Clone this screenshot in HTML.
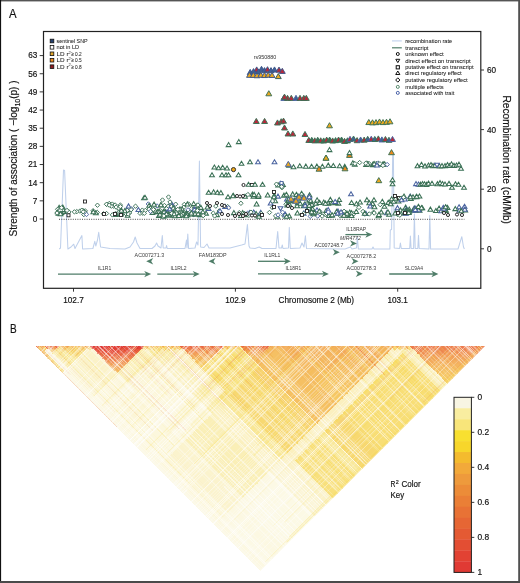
<!DOCTYPE html>
<html><head><meta charset="utf-8"><style>
html,body{margin:0;padding:0;background:#fff;width:520px;height:583px;overflow:hidden}
svg{display:block;will-change:transform}
text{font-family:"Liberation Sans",sans-serif;stroke:#1a1a1a;stroke-width:0.18px}
</style></head><body>
<svg width="520" height="583" viewBox="0 0 520 583" font-family="Liberation Sans, sans-serif">
<rect x="0" y="0" width="520" height="583" fill="#fff"/>
<clipPath id="tri"><path d="M35,346 L485,346 L260,571 Z"/></clipPath><g clip-path="url(#tri)"><g transform="matrix(225,-225,225,225,35,346)" shape-rendering="crispEdges"><rect x="0.00000" y="0.00000" width="0.01151" height="0.01151" fill="#ed784d"/><rect x="0.00000" y="0.01111" width="0.01151" height="0.01151" fill="#f7d26c"/><rect x="0.00000" y="0.02222" width="0.01151" height="0.03373" fill="#f6c866"/><rect x="0.00000" y="0.05556" width="0.01151" height="0.06707" fill="#f8de76"/><rect x="0.00000" y="0.12222" width="0.01151" height="0.87818" fill="#fcf8e2"/><rect x="0.01111" y="0.01111" width="0.01151" height="0.01151" fill="#f3ab5d"/><rect x="0.01111" y="0.02222" width="0.01151" height="0.01151" fill="#f7d26c"/><rect x="0.01111" y="0.03333" width="0.01151" height="0.96707" fill="#fcf8e2"/><rect x="0.02222" y="0.02222" width="0.01151" height="0.01151" fill="#ea6546"/><rect x="0.02222" y="0.03333" width="0.01151" height="0.01151" fill="#f29e59"/><rect x="0.02222" y="0.04444" width="0.01151" height="0.01151" fill="#f5bf62"/><rect x="0.02222" y="0.05556" width="0.01151" height="0.06707" fill="#f9e795"/><rect x="0.02222" y="0.12222" width="0.01151" height="0.12262" fill="#fbf4d2"/><rect x="0.02222" y="0.24444" width="0.01151" height="0.04484" fill="#fcf7dd"/><rect x="0.02222" y="0.28889" width="0.01151" height="0.03373" fill="#fcf8e2"/><rect x="0.02222" y="0.32222" width="0.01151" height="0.10040" fill="#fcf7dd"/><rect x="0.02222" y="0.42222" width="0.01151" height="0.03373" fill="#fcf8e2"/><rect x="0.02222" y="0.45556" width="0.01151" height="0.06707" fill="#fcf7dd"/><rect x="0.02222" y="0.52222" width="0.01151" height="0.02262" fill="#fcf8e2"/><rect x="0.02222" y="0.54444" width="0.01151" height="0.25596" fill="#fcf6d8"/><rect x="0.02222" y="0.80000" width="0.01151" height="0.03373" fill="#fcf8e2"/><rect x="0.02222" y="0.83333" width="0.01151" height="0.16707" fill="#fcf9e5"/><rect x="0.03333" y="0.03333" width="0.01151" height="0.01151" fill="#ea6546"/><rect x="0.03333" y="0.04444" width="0.01151" height="0.01151" fill="#f29e59"/><rect x="0.03333" y="0.05556" width="0.01151" height="0.06707" fill="#f9e795"/><rect x="0.03333" y="0.12222" width="0.01151" height="0.12262" fill="#fbf4d2"/><rect x="0.03333" y="0.24444" width="0.01151" height="0.04484" fill="#fcf7dd"/><rect x="0.03333" y="0.28889" width="0.01151" height="0.03373" fill="#fcf8e2"/><rect x="0.03333" y="0.32222" width="0.01151" height="0.10040" fill="#fcf7dd"/><rect x="0.03333" y="0.42222" width="0.01151" height="0.03373" fill="#fcf8e2"/><rect x="0.03333" y="0.45556" width="0.01151" height="0.06707" fill="#fcf7dd"/><rect x="0.03333" y="0.52222" width="0.01151" height="0.02262" fill="#fcf8e2"/><rect x="0.03333" y="0.54444" width="0.01151" height="0.25596" fill="#fcf6d8"/><rect x="0.03333" y="0.80000" width="0.01151" height="0.03373" fill="#fcf8e2"/><rect x="0.03333" y="0.83333" width="0.01151" height="0.16707" fill="#fcf9e5"/><rect x="0.04444" y="0.04444" width="0.01151" height="0.01151" fill="#ea6546"/><rect x="0.04444" y="0.05556" width="0.01151" height="0.01151" fill="#f7d26c"/><rect x="0.04444" y="0.06667" width="0.01151" height="0.05596" fill="#f9e795"/><rect x="0.04444" y="0.12222" width="0.01151" height="0.12262" fill="#fbf4d2"/><rect x="0.04444" y="0.24444" width="0.01151" height="0.04484" fill="#fcf7dd"/><rect x="0.04444" y="0.28889" width="0.01151" height="0.03373" fill="#fcf8e2"/><rect x="0.04444" y="0.32222" width="0.01151" height="0.10040" fill="#fcf7dd"/><rect x="0.04444" y="0.42222" width="0.01151" height="0.03373" fill="#fcf8e2"/><rect x="0.04444" y="0.45556" width="0.01151" height="0.06707" fill="#fcf7dd"/><rect x="0.04444" y="0.52222" width="0.01151" height="0.02262" fill="#fcf8e2"/><rect x="0.04444" y="0.54444" width="0.01151" height="0.25596" fill="#fcf6d8"/><rect x="0.04444" y="0.80000" width="0.01151" height="0.03373" fill="#fcf8e2"/><rect x="0.04444" y="0.83333" width="0.01151" height="0.16707" fill="#fcf9e5"/><rect x="0.05556" y="0.05556" width="0.01151" height="0.01151" fill="#f3ab5d"/><rect x="0.05556" y="0.06667" width="0.01151" height="0.01151" fill="#f6c966"/><rect x="0.05556" y="0.07778" width="0.01151" height="0.01151" fill="#f7d16b"/><rect x="0.05556" y="0.08889" width="0.01151" height="0.01151" fill="#f7da72"/><rect x="0.05556" y="0.10000" width="0.01151" height="0.01151" fill="#f8e181"/><rect x="0.05556" y="0.11111" width="0.01151" height="0.01151" fill="#f9e898"/><rect x="0.05556" y="0.12222" width="0.01151" height="0.12262" fill="#fbf2c8"/><rect x="0.05556" y="0.24444" width="0.01151" height="0.04484" fill="#fcf6d8"/><rect x="0.05556" y="0.28889" width="0.01151" height="0.03373" fill="#fcf8e2"/><rect x="0.05556" y="0.32222" width="0.01151" height="0.10040" fill="#fcf6d8"/><rect x="0.05556" y="0.42222" width="0.01151" height="0.03373" fill="#fcf8e2"/><rect x="0.05556" y="0.45556" width="0.01151" height="0.06707" fill="#fcf7dd"/><rect x="0.05556" y="0.52222" width="0.01151" height="0.02262" fill="#fcf8e2"/><rect x="0.05556" y="0.54444" width="0.01151" height="0.25596" fill="#fbf3cd"/><rect x="0.05556" y="0.80000" width="0.01151" height="0.20040" fill="#fcf8e2"/><rect x="0.06667" y="0.06667" width="0.01151" height="0.01151" fill="#f3ab5d"/><rect x="0.06667" y="0.07778" width="0.01151" height="0.01151" fill="#f6c966"/><rect x="0.06667" y="0.08889" width="0.01151" height="0.01151" fill="#f7d16b"/><rect x="0.06667" y="0.10000" width="0.01151" height="0.01151" fill="#f7da72"/><rect x="0.06667" y="0.11111" width="0.01151" height="0.01151" fill="#f8e181"/><rect x="0.06667" y="0.12222" width="0.01151" height="0.12262" fill="#fbf2c8"/><rect x="0.06667" y="0.24444" width="0.01151" height="0.04484" fill="#fcf6d8"/><rect x="0.06667" y="0.28889" width="0.01151" height="0.03373" fill="#fcf8e2"/><rect x="0.06667" y="0.32222" width="0.01151" height="0.10040" fill="#fcf6d8"/><rect x="0.06667" y="0.42222" width="0.01151" height="0.03373" fill="#fcf8e2"/><rect x="0.06667" y="0.45556" width="0.01151" height="0.06707" fill="#fcf7dd"/><rect x="0.06667" y="0.52222" width="0.01151" height="0.02262" fill="#fcf8e2"/><rect x="0.06667" y="0.54444" width="0.01151" height="0.25596" fill="#fbf3cd"/><rect x="0.06667" y="0.80000" width="0.01151" height="0.20040" fill="#fcf8e2"/><rect x="0.07778" y="0.07778" width="0.01151" height="0.01151" fill="#f3ab5d"/><rect x="0.07778" y="0.08889" width="0.01151" height="0.01151" fill="#f6c966"/><rect x="0.07778" y="0.10000" width="0.01151" height="0.01151" fill="#f7d16b"/><rect x="0.07778" y="0.11111" width="0.01151" height="0.01151" fill="#f7da72"/><rect x="0.07778" y="0.12222" width="0.01151" height="0.12262" fill="#fbf2c8"/><rect x="0.07778" y="0.24444" width="0.01151" height="0.04484" fill="#fcf6d8"/><rect x="0.07778" y="0.28889" width="0.01151" height="0.03373" fill="#fcf8e2"/><rect x="0.07778" y="0.32222" width="0.01151" height="0.10040" fill="#fcf6d8"/><rect x="0.07778" y="0.42222" width="0.01151" height="0.03373" fill="#fcf8e2"/><rect x="0.07778" y="0.45556" width="0.01151" height="0.06707" fill="#fcf7dd"/><rect x="0.07778" y="0.52222" width="0.01151" height="0.02262" fill="#fcf8e2"/><rect x="0.07778" y="0.54444" width="0.01151" height="0.25596" fill="#fbf3cd"/><rect x="0.07778" y="0.80000" width="0.01151" height="0.20040" fill="#fcf8e2"/><rect x="0.08889" y="0.08889" width="0.01151" height="0.01151" fill="#f3ab5d"/><rect x="0.08889" y="0.10000" width="0.01151" height="0.01151" fill="#f6c966"/><rect x="0.08889" y="0.11111" width="0.01151" height="0.01151" fill="#f7d16b"/><rect x="0.08889" y="0.12222" width="0.01151" height="0.12262" fill="#fbf2c8"/><rect x="0.08889" y="0.24444" width="0.01151" height="0.04484" fill="#fcf6d8"/><rect x="0.08889" y="0.28889" width="0.01151" height="0.03373" fill="#fcf8e2"/><rect x="0.08889" y="0.32222" width="0.01151" height="0.10040" fill="#fcf6d8"/><rect x="0.08889" y="0.42222" width="0.01151" height="0.03373" fill="#fcf8e2"/><rect x="0.08889" y="0.45556" width="0.01151" height="0.06707" fill="#fcf7dd"/><rect x="0.08889" y="0.52222" width="0.01151" height="0.02262" fill="#fcf8e2"/><rect x="0.08889" y="0.54444" width="0.01151" height="0.25596" fill="#fbf3cd"/><rect x="0.08889" y="0.80000" width="0.01151" height="0.20040" fill="#fcf8e2"/><rect x="0.10000" y="0.10000" width="0.01151" height="0.01151" fill="#f3ab5d"/><rect x="0.10000" y="0.11111" width="0.01151" height="0.01151" fill="#f6c966"/><rect x="0.10000" y="0.12222" width="0.01151" height="0.12262" fill="#fbf2c8"/><rect x="0.10000" y="0.24444" width="0.01151" height="0.04484" fill="#fcf6d8"/><rect x="0.10000" y="0.28889" width="0.01151" height="0.03373" fill="#fcf8e2"/><rect x="0.10000" y="0.32222" width="0.01151" height="0.10040" fill="#fcf6d8"/><rect x="0.10000" y="0.42222" width="0.01151" height="0.03373" fill="#fcf8e2"/><rect x="0.10000" y="0.45556" width="0.01151" height="0.06707" fill="#fcf7dd"/><rect x="0.10000" y="0.52222" width="0.01151" height="0.02262" fill="#fcf8e2"/><rect x="0.10000" y="0.54444" width="0.01151" height="0.25596" fill="#fbf3cd"/><rect x="0.10000" y="0.80000" width="0.01151" height="0.20040" fill="#fcf8e2"/><rect x="0.11111" y="0.11111" width="0.01151" height="0.01151" fill="#f3ab5d"/><rect x="0.11111" y="0.12222" width="0.01151" height="0.01151" fill="#f7d26c"/><rect x="0.11111" y="0.13333" width="0.01151" height="0.11151" fill="#fbf2c8"/><rect x="0.11111" y="0.24444" width="0.01151" height="0.04484" fill="#fcf6d8"/><rect x="0.11111" y="0.28889" width="0.01151" height="0.03373" fill="#fcf8e2"/><rect x="0.11111" y="0.32222" width="0.01151" height="0.10040" fill="#fcf6d8"/><rect x="0.11111" y="0.42222" width="0.01151" height="0.03373" fill="#fcf8e2"/><rect x="0.11111" y="0.45556" width="0.01151" height="0.06707" fill="#fcf7dd"/><rect x="0.11111" y="0.52222" width="0.01151" height="0.02262" fill="#fcf8e2"/><rect x="0.11111" y="0.54444" width="0.01151" height="0.25596" fill="#fbf3cd"/><rect x="0.11111" y="0.80000" width="0.01151" height="0.20040" fill="#fcf8e2"/><rect x="0.12222" y="0.12222" width="0.01151" height="0.01151" fill="#de3432"/><rect x="0.12222" y="0.13333" width="0.01151" height="0.01151" fill="#e24137"/><rect x="0.12222" y="0.14444" width="0.01151" height="0.01151" fill="#e54e3d"/><rect x="0.12222" y="0.15556" width="0.01151" height="0.01151" fill="#e95e43"/><rect x="0.12222" y="0.16667" width="0.01151" height="0.01151" fill="#eb6e4a"/><rect x="0.12222" y="0.17778" width="0.01151" height="0.01151" fill="#ee7e4f"/><rect x="0.12222" y="0.18889" width="0.01151" height="0.01151" fill="#f08d54"/><rect x="0.12222" y="0.20000" width="0.01151" height="0.01151" fill="#f19b58"/><rect x="0.12222" y="0.21111" width="0.01151" height="0.01151" fill="#f2a55b"/><rect x="0.12222" y="0.22222" width="0.01151" height="0.01151" fill="#f3ae5e"/><rect x="0.12222" y="0.23333" width="0.01151" height="0.01151" fill="#f4b660"/><rect x="0.12222" y="0.24444" width="0.01151" height="0.04484" fill="#faeeb2"/><rect x="0.12222" y="0.28889" width="0.01151" height="0.03373" fill="#fbf4d2"/><rect x="0.12222" y="0.32222" width="0.01151" height="0.10040" fill="#fcf6d8"/><rect x="0.12222" y="0.42222" width="0.01151" height="0.10040" fill="#fcf7dd"/><rect x="0.12222" y="0.52222" width="0.01151" height="0.02262" fill="#fcf6d8"/><rect x="0.12222" y="0.54444" width="0.01151" height="0.25596" fill="#faefb7"/><rect x="0.12222" y="0.80000" width="0.01151" height="0.03373" fill="#fcf8e2"/><rect x="0.12222" y="0.83333" width="0.01151" height="0.16707" fill="#fcf9e5"/><rect x="0.13333" y="0.13333" width="0.01151" height="0.01151" fill="#de3432"/><rect x="0.13333" y="0.14444" width="0.01151" height="0.01151" fill="#e24137"/><rect x="0.13333" y="0.15556" width="0.01151" height="0.01151" fill="#e54e3d"/><rect x="0.13333" y="0.16667" width="0.01151" height="0.01151" fill="#e95e43"/><rect x="0.13333" y="0.17778" width="0.01151" height="0.01151" fill="#eb6e4a"/><rect x="0.13333" y="0.18889" width="0.01151" height="0.01151" fill="#ee7e4f"/><rect x="0.13333" y="0.20000" width="0.01151" height="0.01151" fill="#f08d54"/><rect x="0.13333" y="0.21111" width="0.01151" height="0.01151" fill="#f19b58"/><rect x="0.13333" y="0.22222" width="0.01151" height="0.01151" fill="#f2a55b"/><rect x="0.13333" y="0.23333" width="0.01151" height="0.01151" fill="#f3ae5e"/><rect x="0.13333" y="0.24444" width="0.01151" height="0.04484" fill="#faeeb2"/><rect x="0.13333" y="0.28889" width="0.01151" height="0.03373" fill="#fbf4d2"/><rect x="0.13333" y="0.32222" width="0.01151" height="0.10040" fill="#fcf6d8"/><rect x="0.13333" y="0.42222" width="0.01151" height="0.10040" fill="#fcf7dd"/><rect x="0.13333" y="0.52222" width="0.01151" height="0.02262" fill="#fcf6d8"/><rect x="0.13333" y="0.54444" width="0.01151" height="0.25596" fill="#faefb7"/><rect x="0.13333" y="0.80000" width="0.01151" height="0.03373" fill="#fcf8e2"/><rect x="0.13333" y="0.83333" width="0.01151" height="0.16707" fill="#fcf9e5"/><rect x="0.14444" y="0.14444" width="0.01151" height="0.01151" fill="#de3432"/><rect x="0.14444" y="0.15556" width="0.01151" height="0.01151" fill="#e24137"/><rect x="0.14444" y="0.16667" width="0.01151" height="0.01151" fill="#e54e3d"/><rect x="0.14444" y="0.17778" width="0.01151" height="0.01151" fill="#e95e43"/><rect x="0.14444" y="0.18889" width="0.01151" height="0.01151" fill="#eb6e4a"/><rect x="0.14444" y="0.20000" width="0.01151" height="0.01151" fill="#ee7e4f"/><rect x="0.14444" y="0.21111" width="0.01151" height="0.01151" fill="#f08d54"/><rect x="0.14444" y="0.22222" width="0.01151" height="0.01151" fill="#f19b58"/><rect x="0.14444" y="0.23333" width="0.01151" height="0.01151" fill="#f2a55b"/><rect x="0.14444" y="0.24444" width="0.01151" height="0.04484" fill="#faeeb2"/><rect x="0.14444" y="0.28889" width="0.01151" height="0.03373" fill="#fbf4d2"/><rect x="0.14444" y="0.32222" width="0.01151" height="0.10040" fill="#fcf6d8"/><rect x="0.14444" y="0.42222" width="0.01151" height="0.10040" fill="#fcf7dd"/><rect x="0.14444" y="0.52222" width="0.01151" height="0.02262" fill="#fcf6d8"/><rect x="0.14444" y="0.54444" width="0.01151" height="0.25596" fill="#faefb7"/><rect x="0.14444" y="0.80000" width="0.01151" height="0.03373" fill="#fcf8e2"/><rect x="0.14444" y="0.83333" width="0.01151" height="0.16707" fill="#fcf9e5"/><rect x="0.15556" y="0.15556" width="0.01151" height="0.01151" fill="#de3432"/><rect x="0.15556" y="0.16667" width="0.01151" height="0.01151" fill="#e24137"/><rect x="0.15556" y="0.17778" width="0.01151" height="0.01151" fill="#e54e3d"/><rect x="0.15556" y="0.18889" width="0.01151" height="0.01151" fill="#e95e43"/><rect x="0.15556" y="0.20000" width="0.01151" height="0.01151" fill="#eb6e4a"/><rect x="0.15556" y="0.21111" width="0.01151" height="0.01151" fill="#ee7e4f"/><rect x="0.15556" y="0.22222" width="0.01151" height="0.01151" fill="#f08d54"/><rect x="0.15556" y="0.23333" width="0.01151" height="0.01151" fill="#f19b58"/><rect x="0.15556" y="0.24444" width="0.01151" height="0.04484" fill="#faeeb2"/><rect x="0.15556" y="0.28889" width="0.01151" height="0.03373" fill="#fbf4d2"/><rect x="0.15556" y="0.32222" width="0.01151" height="0.10040" fill="#fcf6d8"/><rect x="0.15556" y="0.42222" width="0.01151" height="0.10040" fill="#fcf7dd"/><rect x="0.15556" y="0.52222" width="0.01151" height="0.02262" fill="#fcf6d8"/><rect x="0.15556" y="0.54444" width="0.01151" height="0.25596" fill="#faefb7"/><rect x="0.15556" y="0.80000" width="0.01151" height="0.03373" fill="#fcf8e2"/><rect x="0.15556" y="0.83333" width="0.01151" height="0.16707" fill="#fcf9e5"/><rect x="0.16667" y="0.16667" width="0.01151" height="0.01151" fill="#de3432"/><rect x="0.16667" y="0.17778" width="0.01151" height="0.01151" fill="#e24137"/><rect x="0.16667" y="0.18889" width="0.01151" height="0.01151" fill="#e54e3d"/><rect x="0.16667" y="0.20000" width="0.01151" height="0.01151" fill="#e95e43"/><rect x="0.16667" y="0.21111" width="0.01151" height="0.01151" fill="#eb6e4a"/><rect x="0.16667" y="0.22222" width="0.01151" height="0.01151" fill="#ee7e4f"/><rect x="0.16667" y="0.23333" width="0.01151" height="0.01151" fill="#f08d54"/><rect x="0.16667" y="0.24444" width="0.01151" height="0.04484" fill="#faeeb2"/><rect x="0.16667" y="0.28889" width="0.01151" height="0.03373" fill="#fbf4d2"/><rect x="0.16667" y="0.32222" width="0.01151" height="0.10040" fill="#fcf6d8"/><rect x="0.16667" y="0.42222" width="0.01151" height="0.10040" fill="#fcf7dd"/><rect x="0.16667" y="0.52222" width="0.01151" height="0.02262" fill="#fcf6d8"/><rect x="0.16667" y="0.54444" width="0.01151" height="0.25596" fill="#faefb7"/><rect x="0.16667" y="0.80000" width="0.01151" height="0.03373" fill="#fcf8e2"/><rect x="0.16667" y="0.83333" width="0.01151" height="0.16707" fill="#fcf9e5"/><rect x="0.17778" y="0.17778" width="0.01151" height="0.01151" fill="#de3432"/><rect x="0.17778" y="0.18889" width="0.01151" height="0.01151" fill="#e24137"/><rect x="0.17778" y="0.20000" width="0.01151" height="0.01151" fill="#e54e3d"/><rect x="0.17778" y="0.21111" width="0.01151" height="0.01151" fill="#e95e43"/><rect x="0.17778" y="0.22222" width="0.01151" height="0.01151" fill="#eb6e4a"/><rect x="0.17778" y="0.23333" width="0.01151" height="0.01151" fill="#ee7e4f"/><rect x="0.17778" y="0.24444" width="0.01151" height="0.04484" fill="#faeeb2"/><rect x="0.17778" y="0.28889" width="0.01151" height="0.03373" fill="#fbf4d2"/><rect x="0.17778" y="0.32222" width="0.01151" height="0.10040" fill="#fcf6d8"/><rect x="0.17778" y="0.42222" width="0.01151" height="0.10040" fill="#fcf7dd"/><rect x="0.17778" y="0.52222" width="0.01151" height="0.02262" fill="#fcf6d8"/><rect x="0.17778" y="0.54444" width="0.01151" height="0.25596" fill="#faefb7"/><rect x="0.17778" y="0.80000" width="0.01151" height="0.03373" fill="#fcf8e2"/><rect x="0.17778" y="0.83333" width="0.01151" height="0.16707" fill="#fcf9e5"/><rect x="0.18889" y="0.18889" width="0.01151" height="0.01151" fill="#de3432"/><rect x="0.18889" y="0.20000" width="0.01151" height="0.01151" fill="#e24137"/><rect x="0.18889" y="0.21111" width="0.01151" height="0.01151" fill="#e54e3d"/><rect x="0.18889" y="0.22222" width="0.01151" height="0.01151" fill="#e95e43"/><rect x="0.18889" y="0.23333" width="0.01151" height="0.01151" fill="#eb6e4a"/><rect x="0.18889" y="0.24444" width="0.01151" height="0.04484" fill="#faeeb2"/><rect x="0.18889" y="0.28889" width="0.01151" height="0.03373" fill="#fbf4d2"/><rect x="0.18889" y="0.32222" width="0.01151" height="0.10040" fill="#fcf6d8"/><rect x="0.18889" y="0.42222" width="0.01151" height="0.10040" fill="#fcf7dd"/><rect x="0.18889" y="0.52222" width="0.01151" height="0.02262" fill="#fcf6d8"/><rect x="0.18889" y="0.54444" width="0.01151" height="0.25596" fill="#faefb7"/><rect x="0.18889" y="0.80000" width="0.01151" height="0.03373" fill="#fcf8e2"/><rect x="0.18889" y="0.83333" width="0.01151" height="0.16707" fill="#fcf9e5"/><rect x="0.20000" y="0.20000" width="0.01151" height="0.01151" fill="#de3432"/><rect x="0.20000" y="0.21111" width="0.01151" height="0.01151" fill="#e24137"/><rect x="0.20000" y="0.22222" width="0.01151" height="0.01151" fill="#e54e3d"/><rect x="0.20000" y="0.23333" width="0.01151" height="0.01151" fill="#e95e43"/><rect x="0.20000" y="0.24444" width="0.01151" height="0.04484" fill="#faeeb2"/><rect x="0.20000" y="0.28889" width="0.01151" height="0.03373" fill="#fbf4d2"/><rect x="0.20000" y="0.32222" width="0.01151" height="0.10040" fill="#fcf6d8"/><rect x="0.20000" y="0.42222" width="0.01151" height="0.10040" fill="#fcf7dd"/><rect x="0.20000" y="0.52222" width="0.01151" height="0.02262" fill="#fcf6d8"/><rect x="0.20000" y="0.54444" width="0.01151" height="0.25596" fill="#faefb7"/><rect x="0.20000" y="0.80000" width="0.01151" height="0.03373" fill="#fcf8e2"/><rect x="0.20000" y="0.83333" width="0.01151" height="0.16707" fill="#fcf9e5"/><rect x="0.21111" y="0.21111" width="0.01151" height="0.01151" fill="#de3432"/><rect x="0.21111" y="0.22222" width="0.01151" height="0.01151" fill="#e24137"/><rect x="0.21111" y="0.23333" width="0.01151" height="0.01151" fill="#e54e3d"/><rect x="0.21111" y="0.24444" width="0.01151" height="0.04484" fill="#faeeb2"/><rect x="0.21111" y="0.28889" width="0.01151" height="0.03373" fill="#fbf4d2"/><rect x="0.21111" y="0.32222" width="0.01151" height="0.10040" fill="#fcf6d8"/><rect x="0.21111" y="0.42222" width="0.01151" height="0.10040" fill="#fcf7dd"/><rect x="0.21111" y="0.52222" width="0.01151" height="0.02262" fill="#fcf6d8"/><rect x="0.21111" y="0.54444" width="0.01151" height="0.25596" fill="#faefb7"/><rect x="0.21111" y="0.80000" width="0.01151" height="0.03373" fill="#fcf8e2"/><rect x="0.21111" y="0.83333" width="0.01151" height="0.16707" fill="#fcf9e5"/><rect x="0.22222" y="0.22222" width="0.01151" height="0.01151" fill="#de3432"/><rect x="0.22222" y="0.23333" width="0.01151" height="0.01151" fill="#e24137"/><rect x="0.22222" y="0.24444" width="0.01151" height="0.04484" fill="#faeeb2"/><rect x="0.22222" y="0.28889" width="0.01151" height="0.03373" fill="#fbf4d2"/><rect x="0.22222" y="0.32222" width="0.01151" height="0.10040" fill="#fcf6d8"/><rect x="0.22222" y="0.42222" width="0.01151" height="0.10040" fill="#fcf7dd"/><rect x="0.22222" y="0.52222" width="0.01151" height="0.02262" fill="#fcf6d8"/><rect x="0.22222" y="0.54444" width="0.01151" height="0.25596" fill="#faefb7"/><rect x="0.22222" y="0.80000" width="0.01151" height="0.03373" fill="#fcf8e2"/><rect x="0.22222" y="0.83333" width="0.01151" height="0.16707" fill="#fcf9e5"/><rect x="0.23333" y="0.23333" width="0.01151" height="0.01151" fill="#de3432"/><rect x="0.23333" y="0.24444" width="0.01151" height="0.01151" fill="#f7d26c"/><rect x="0.23333" y="0.25556" width="0.01151" height="0.03373" fill="#faeeb2"/><rect x="0.23333" y="0.28889" width="0.01151" height="0.03373" fill="#fbf4d2"/><rect x="0.23333" y="0.32222" width="0.01151" height="0.10040" fill="#fcf6d8"/><rect x="0.23333" y="0.42222" width="0.01151" height="0.10040" fill="#fcf7dd"/><rect x="0.23333" y="0.52222" width="0.01151" height="0.02262" fill="#fcf6d8"/><rect x="0.23333" y="0.54444" width="0.01151" height="0.25596" fill="#faefb7"/><rect x="0.23333" y="0.80000" width="0.01151" height="0.03373" fill="#fcf8e2"/><rect x="0.23333" y="0.83333" width="0.01151" height="0.16707" fill="#fcf9e5"/><rect x="0.24444" y="0.24444" width="0.01151" height="0.01151" fill="#f3ab5d"/><rect x="0.24444" y="0.25556" width="0.01151" height="0.01151" fill="#f7d26c"/><rect x="0.24444" y="0.26667" width="0.01151" height="0.01151" fill="#f8e693"/><rect x="0.24444" y="0.27778" width="0.01151" height="0.01151" fill="#f9eaa2"/><rect x="0.24444" y="0.28889" width="0.01151" height="0.03373" fill="#faeeb2"/><rect x="0.24444" y="0.32222" width="0.01151" height="0.13373" fill="#fbf2c8"/><rect x="0.24444" y="0.45556" width="0.01151" height="0.06707" fill="#fbf0bf"/><rect x="0.24444" y="0.52222" width="0.01151" height="0.02262" fill="#faeeb2"/><rect x="0.24444" y="0.54444" width="0.01151" height="0.25596" fill="#fbf0bf"/><rect x="0.24444" y="0.80000" width="0.01151" height="0.20040" fill="#fbf4d2"/><rect x="0.25556" y="0.25556" width="0.01151" height="0.01151" fill="#f3ab5d"/><rect x="0.25556" y="0.26667" width="0.01151" height="0.01151" fill="#f7d26c"/><rect x="0.25556" y="0.27778" width="0.01151" height="0.01151" fill="#f8e693"/><rect x="0.25556" y="0.28889" width="0.01151" height="0.03373" fill="#faeeb2"/><rect x="0.25556" y="0.32222" width="0.01151" height="0.13373" fill="#fbf2c8"/><rect x="0.25556" y="0.45556" width="0.01151" height="0.06707" fill="#fbf0bf"/><rect x="0.25556" y="0.52222" width="0.01151" height="0.02262" fill="#faeeb2"/><rect x="0.25556" y="0.54444" width="0.01151" height="0.25596" fill="#fbf0bf"/><rect x="0.25556" y="0.80000" width="0.01151" height="0.20040" fill="#fbf4d2"/><rect x="0.26667" y="0.26667" width="0.01151" height="0.01151" fill="#f3ab5d"/><rect x="0.26667" y="0.27778" width="0.01151" height="0.01151" fill="#f7d26c"/><rect x="0.26667" y="0.28889" width="0.01151" height="0.03373" fill="#faeeb2"/><rect x="0.26667" y="0.32222" width="0.01151" height="0.13373" fill="#fbf2c8"/><rect x="0.26667" y="0.45556" width="0.01151" height="0.06707" fill="#fbf0bf"/><rect x="0.26667" y="0.52222" width="0.01151" height="0.02262" fill="#faeeb2"/><rect x="0.26667" y="0.54444" width="0.01151" height="0.25596" fill="#fbf0bf"/><rect x="0.26667" y="0.80000" width="0.01151" height="0.20040" fill="#fbf4d2"/><rect x="0.27778" y="0.27778" width="0.01151" height="0.01151" fill="#f3ab5d"/><rect x="0.27778" y="0.28889" width="0.01151" height="0.01151" fill="#f7d26c"/><rect x="0.27778" y="0.30000" width="0.01151" height="0.02262" fill="#faeeb2"/><rect x="0.27778" y="0.32222" width="0.01151" height="0.13373" fill="#fbf2c8"/><rect x="0.27778" y="0.45556" width="0.01151" height="0.06707" fill="#fbf0bf"/><rect x="0.27778" y="0.52222" width="0.01151" height="0.02262" fill="#faeeb2"/><rect x="0.27778" y="0.54444" width="0.01151" height="0.25596" fill="#fbf0bf"/><rect x="0.27778" y="0.80000" width="0.01151" height="0.20040" fill="#fbf4d2"/><rect x="0.28889" y="0.28889" width="0.01151" height="0.01151" fill="#f3ab5d"/><rect x="0.28889" y="0.30000" width="0.01151" height="0.01151" fill="#f7d26c"/><rect x="0.28889" y="0.31111" width="0.01151" height="0.01151" fill="#f9eba5"/><rect x="0.28889" y="0.32222" width="0.01151" height="0.10040" fill="#fbf0bf"/><rect x="0.28889" y="0.42222" width="0.01151" height="0.03373" fill="#fbf2c8"/><rect x="0.28889" y="0.45556" width="0.01151" height="0.06707" fill="#fbf0bf"/><rect x="0.28889" y="0.52222" width="0.01151" height="0.02262" fill="#f8e285"/><rect x="0.28889" y="0.54444" width="0.01151" height="0.25596" fill="#f9e795"/><rect x="0.28889" y="0.80000" width="0.01151" height="0.20040" fill="#fbf2c8"/><rect x="0.30000" y="0.30000" width="0.01151" height="0.01151" fill="#f3ab5d"/><rect x="0.30000" y="0.31111" width="0.01151" height="0.01151" fill="#f7d26c"/><rect x="0.30000" y="0.32222" width="0.01151" height="0.10040" fill="#fbf0bf"/><rect x="0.30000" y="0.42222" width="0.01151" height="0.03373" fill="#fbf2c8"/><rect x="0.30000" y="0.45556" width="0.01151" height="0.06707" fill="#fbf0bf"/><rect x="0.30000" y="0.52222" width="0.01151" height="0.02262" fill="#f8e285"/><rect x="0.30000" y="0.54444" width="0.01151" height="0.25596" fill="#f9e795"/><rect x="0.30000" y="0.80000" width="0.01151" height="0.20040" fill="#fbf2c8"/><rect x="0.31111" y="0.31111" width="0.01151" height="0.01151" fill="#f3ab5d"/><rect x="0.31111" y="0.32222" width="0.01151" height="0.01151" fill="#f7d26c"/><rect x="0.31111" y="0.33333" width="0.01151" height="0.08929" fill="#fbf0bf"/><rect x="0.31111" y="0.42222" width="0.01151" height="0.03373" fill="#fbf2c8"/><rect x="0.31111" y="0.45556" width="0.01151" height="0.06707" fill="#fbf0bf"/><rect x="0.31111" y="0.52222" width="0.01151" height="0.02262" fill="#f8e285"/><rect x="0.31111" y="0.54444" width="0.01151" height="0.25596" fill="#f9e795"/><rect x="0.31111" y="0.80000" width="0.01151" height="0.20040" fill="#fbf2c8"/><rect x="0.32222" y="0.32222" width="0.01151" height="0.01151" fill="#ea6546"/><rect x="0.32222" y="0.33333" width="0.01151" height="0.01151" fill="#ed7b4e"/><rect x="0.32222" y="0.34444" width="0.01151" height="0.01151" fill="#f08e54"/><rect x="0.32222" y="0.35556" width="0.01151" height="0.01151" fill="#f29f5a"/><rect x="0.32222" y="0.36667" width="0.01151" height="0.01151" fill="#f3ab5d"/><rect x="0.32222" y="0.37778" width="0.01151" height="0.01151" fill="#f4b660"/><rect x="0.32222" y="0.38889" width="0.01151" height="0.01151" fill="#f5c063"/><rect x="0.32222" y="0.40000" width="0.01151" height="0.01151" fill="#f6c966"/><rect x="0.32222" y="0.41111" width="0.01151" height="0.01151" fill="#f7d16b"/><rect x="0.32222" y="0.42222" width="0.01151" height="0.03373" fill="#f8e07d"/><rect x="0.32222" y="0.45556" width="0.01151" height="0.06707" fill="#f8de76"/><rect x="0.32222" y="0.52222" width="0.01151" height="0.02262" fill="#f8e489"/><rect x="0.32222" y="0.54444" width="0.01151" height="0.25596" fill="#f7d871"/><rect x="0.32222" y="0.80000" width="0.01151" height="0.03373" fill="#fbf0bf"/><rect x="0.32222" y="0.83333" width="0.01151" height="0.16707" fill="#f8e07d"/><rect x="0.33333" y="0.33333" width="0.01151" height="0.01151" fill="#ea6546"/><rect x="0.33333" y="0.34444" width="0.01151" height="0.01151" fill="#ed7b4e"/><rect x="0.33333" y="0.35556" width="0.01151" height="0.01151" fill="#f08e54"/><rect x="0.33333" y="0.36667" width="0.01151" height="0.01151" fill="#f29f5a"/><rect x="0.33333" y="0.37778" width="0.01151" height="0.01151" fill="#f3ab5d"/><rect x="0.33333" y="0.38889" width="0.01151" height="0.01151" fill="#f4b660"/><rect x="0.33333" y="0.40000" width="0.01151" height="0.01151" fill="#f5c063"/><rect x="0.33333" y="0.41111" width="0.01151" height="0.01151" fill="#f6c966"/><rect x="0.33333" y="0.42222" width="0.01151" height="0.03373" fill="#f8e07d"/><rect x="0.33333" y="0.45556" width="0.01151" height="0.06707" fill="#f8de76"/><rect x="0.33333" y="0.52222" width="0.01151" height="0.02262" fill="#f8e489"/><rect x="0.33333" y="0.54444" width="0.01151" height="0.25596" fill="#f7d871"/><rect x="0.33333" y="0.80000" width="0.01151" height="0.03373" fill="#fbf0bf"/><rect x="0.33333" y="0.83333" width="0.01151" height="0.16707" fill="#f8e07d"/><rect x="0.34444" y="0.34444" width="0.01151" height="0.01151" fill="#ea6546"/><rect x="0.34444" y="0.35556" width="0.01151" height="0.01151" fill="#ed7b4e"/><rect x="0.34444" y="0.36667" width="0.01151" height="0.01151" fill="#f08e54"/><rect x="0.34444" y="0.37778" width="0.01151" height="0.01151" fill="#f29f5a"/><rect x="0.34444" y="0.38889" width="0.01151" height="0.01151" fill="#f3ab5d"/><rect x="0.34444" y="0.40000" width="0.01151" height="0.01151" fill="#f4b660"/><rect x="0.34444" y="0.41111" width="0.01151" height="0.01151" fill="#f5c063"/><rect x="0.34444" y="0.42222" width="0.01151" height="0.03373" fill="#f8e07d"/><rect x="0.34444" y="0.45556" width="0.01151" height="0.06707" fill="#f8de76"/><rect x="0.34444" y="0.52222" width="0.01151" height="0.02262" fill="#f8e489"/><rect x="0.34444" y="0.54444" width="0.01151" height="0.25596" fill="#f7d871"/><rect x="0.34444" y="0.80000" width="0.01151" height="0.03373" fill="#fbf0bf"/><rect x="0.34444" y="0.83333" width="0.01151" height="0.16707" fill="#f8e07d"/><rect x="0.35556" y="0.35556" width="0.01151" height="0.01151" fill="#ea6546"/><rect x="0.35556" y="0.36667" width="0.01151" height="0.01151" fill="#ed7b4e"/><rect x="0.35556" y="0.37778" width="0.01151" height="0.01151" fill="#f08e54"/><rect x="0.35556" y="0.38889" width="0.01151" height="0.01151" fill="#f29f5a"/><rect x="0.35556" y="0.40000" width="0.01151" height="0.01151" fill="#f3ab5d"/><rect x="0.35556" y="0.41111" width="0.01151" height="0.01151" fill="#f4b660"/><rect x="0.35556" y="0.42222" width="0.01151" height="0.03373" fill="#f8e07d"/><rect x="0.35556" y="0.45556" width="0.01151" height="0.06707" fill="#f8de76"/><rect x="0.35556" y="0.52222" width="0.01151" height="0.02262" fill="#f8e489"/><rect x="0.35556" y="0.54444" width="0.01151" height="0.25596" fill="#f7d871"/><rect x="0.35556" y="0.80000" width="0.01151" height="0.03373" fill="#fbf0bf"/><rect x="0.35556" y="0.83333" width="0.01151" height="0.16707" fill="#f8e07d"/><rect x="0.36667" y="0.36667" width="0.01151" height="0.01151" fill="#ea6546"/><rect x="0.36667" y="0.37778" width="0.01151" height="0.01151" fill="#ed7b4e"/><rect x="0.36667" y="0.38889" width="0.01151" height="0.01151" fill="#f08e54"/><rect x="0.36667" y="0.40000" width="0.01151" height="0.01151" fill="#f29f5a"/><rect x="0.36667" y="0.41111" width="0.01151" height="0.01151" fill="#f3ab5d"/><rect x="0.36667" y="0.42222" width="0.01151" height="0.03373" fill="#f8e07d"/><rect x="0.36667" y="0.45556" width="0.01151" height="0.06707" fill="#f8de76"/><rect x="0.36667" y="0.52222" width="0.01151" height="0.02262" fill="#f8e489"/><rect x="0.36667" y="0.54444" width="0.01151" height="0.25596" fill="#f7d871"/><rect x="0.36667" y="0.80000" width="0.01151" height="0.03373" fill="#fbf0bf"/><rect x="0.36667" y="0.83333" width="0.01151" height="0.16707" fill="#f8e07d"/><rect x="0.37778" y="0.37778" width="0.01151" height="0.01151" fill="#ea6546"/><rect x="0.37778" y="0.38889" width="0.01151" height="0.01151" fill="#ed7b4e"/><rect x="0.37778" y="0.40000" width="0.01151" height="0.01151" fill="#f08e54"/><rect x="0.37778" y="0.41111" width="0.01151" height="0.01151" fill="#f29f5a"/><rect x="0.37778" y="0.42222" width="0.01151" height="0.03373" fill="#f8e07d"/><rect x="0.37778" y="0.45556" width="0.01151" height="0.06707" fill="#f8de76"/><rect x="0.37778" y="0.52222" width="0.01151" height="0.02262" fill="#f8e489"/><rect x="0.37778" y="0.54444" width="0.01151" height="0.25596" fill="#f7d871"/><rect x="0.37778" y="0.80000" width="0.01151" height="0.03373" fill="#fbf0bf"/><rect x="0.37778" y="0.83333" width="0.01151" height="0.16707" fill="#f8e07d"/><rect x="0.38889" y="0.38889" width="0.01151" height="0.01151" fill="#ea6546"/><rect x="0.38889" y="0.40000" width="0.01151" height="0.01151" fill="#ed7b4e"/><rect x="0.38889" y="0.41111" width="0.01151" height="0.01151" fill="#f08e54"/><rect x="0.38889" y="0.42222" width="0.01151" height="0.03373" fill="#f8e07d"/><rect x="0.38889" y="0.45556" width="0.01151" height="0.06707" fill="#f8de76"/><rect x="0.38889" y="0.52222" width="0.01151" height="0.02262" fill="#f8e489"/><rect x="0.38889" y="0.54444" width="0.01151" height="0.25596" fill="#f7d871"/><rect x="0.38889" y="0.80000" width="0.01151" height="0.03373" fill="#fbf0bf"/><rect x="0.38889" y="0.83333" width="0.01151" height="0.16707" fill="#f8e07d"/><rect x="0.40000" y="0.40000" width="0.01151" height="0.01151" fill="#ea6546"/><rect x="0.40000" y="0.41111" width="0.01151" height="0.01151" fill="#ed7b4e"/><rect x="0.40000" y="0.42222" width="0.01151" height="0.03373" fill="#f8e07d"/><rect x="0.40000" y="0.45556" width="0.01151" height="0.06707" fill="#f8de76"/><rect x="0.40000" y="0.52222" width="0.01151" height="0.02262" fill="#f8e489"/><rect x="0.40000" y="0.54444" width="0.01151" height="0.25596" fill="#f7d871"/><rect x="0.40000" y="0.80000" width="0.01151" height="0.03373" fill="#fbf0bf"/><rect x="0.40000" y="0.83333" width="0.01151" height="0.16707" fill="#f8e07d"/><rect x="0.41111" y="0.41111" width="0.01151" height="0.01151" fill="#ea6546"/><rect x="0.41111" y="0.42222" width="0.01151" height="0.01151" fill="#f7d26c"/><rect x="0.41111" y="0.43333" width="0.01151" height="0.02262" fill="#f8e07d"/><rect x="0.41111" y="0.45556" width="0.01151" height="0.06707" fill="#f8de76"/><rect x="0.41111" y="0.52222" width="0.01151" height="0.02262" fill="#f8e489"/><rect x="0.41111" y="0.54444" width="0.01151" height="0.25596" fill="#f7d871"/><rect x="0.41111" y="0.80000" width="0.01151" height="0.03373" fill="#fbf0bf"/><rect x="0.41111" y="0.83333" width="0.01151" height="0.16707" fill="#f8e07d"/><rect x="0.42222" y="0.42222" width="0.01151" height="0.01151" fill="#f3ab5d"/><rect x="0.42222" y="0.43333" width="0.01151" height="0.01151" fill="#f7d26c"/><rect x="0.42222" y="0.44444" width="0.01151" height="0.01151" fill="#f7dc74"/><rect x="0.42222" y="0.45556" width="0.01151" height="0.06707" fill="#f8e489"/><rect x="0.42222" y="0.52222" width="0.01151" height="0.02262" fill="#f8e07d"/><rect x="0.42222" y="0.54444" width="0.01151" height="0.25596" fill="#f7d26c"/><rect x="0.42222" y="0.80000" width="0.01151" height="0.03373" fill="#fbf2c8"/><rect x="0.42222" y="0.83333" width="0.01151" height="0.16707" fill="#f9e99c"/><rect x="0.43333" y="0.43333" width="0.01151" height="0.01151" fill="#f3ab5d"/><rect x="0.43333" y="0.44444" width="0.01151" height="0.01151" fill="#f7d26c"/><rect x="0.43333" y="0.45556" width="0.01151" height="0.06707" fill="#f8e489"/><rect x="0.43333" y="0.52222" width="0.01151" height="0.02262" fill="#f8e07d"/><rect x="0.43333" y="0.54444" width="0.01151" height="0.25596" fill="#f7d26c"/><rect x="0.43333" y="0.80000" width="0.01151" height="0.03373" fill="#fbf2c8"/><rect x="0.43333" y="0.83333" width="0.01151" height="0.16707" fill="#f9e99c"/><rect x="0.44444" y="0.44444" width="0.01151" height="0.01151" fill="#f3ab5d"/><rect x="0.44444" y="0.45556" width="0.01151" height="0.01151" fill="#f7d26c"/><rect x="0.44444" y="0.46667" width="0.01151" height="0.05596" fill="#f8e489"/><rect x="0.44444" y="0.52222" width="0.01151" height="0.02262" fill="#f8e07d"/><rect x="0.44444" y="0.54444" width="0.01151" height="0.25596" fill="#f7d26c"/><rect x="0.44444" y="0.80000" width="0.01151" height="0.03373" fill="#fbf2c8"/><rect x="0.44444" y="0.83333" width="0.01151" height="0.16707" fill="#f9e99c"/><rect x="0.45556" y="0.45556" width="0.01151" height="0.01151" fill="#ea6546"/><rect x="0.45556" y="0.46667" width="0.01151" height="0.01151" fill="#ee7f50"/><rect x="0.45556" y="0.47778" width="0.01151" height="0.01151" fill="#f19757"/><rect x="0.45556" y="0.48889" width="0.01151" height="0.01151" fill="#f2a75c"/><rect x="0.45556" y="0.50000" width="0.01151" height="0.01151" fill="#f4b560"/><rect x="0.45556" y="0.51111" width="0.01151" height="0.01151" fill="#f5c163"/><rect x="0.45556" y="0.52222" width="0.01151" height="0.02262" fill="#f4b860"/><rect x="0.45556" y="0.54444" width="0.01151" height="0.25596" fill="#f5c063"/><rect x="0.45556" y="0.80000" width="0.01151" height="0.03373" fill="#fbf0bf"/><rect x="0.45556" y="0.83333" width="0.01151" height="0.16707" fill="#f7d871"/><rect x="0.46667" y="0.46667" width="0.01151" height="0.01151" fill="#ea6546"/><rect x="0.46667" y="0.47778" width="0.01151" height="0.01151" fill="#ee7f50"/><rect x="0.46667" y="0.48889" width="0.01151" height="0.01151" fill="#f19757"/><rect x="0.46667" y="0.50000" width="0.01151" height="0.01151" fill="#f2a75c"/><rect x="0.46667" y="0.51111" width="0.01151" height="0.01151" fill="#f4b560"/><rect x="0.46667" y="0.52222" width="0.01151" height="0.02262" fill="#f4b860"/><rect x="0.46667" y="0.54444" width="0.01151" height="0.25596" fill="#f5c063"/><rect x="0.46667" y="0.80000" width="0.01151" height="0.03373" fill="#fbf0bf"/><rect x="0.46667" y="0.83333" width="0.01151" height="0.16707" fill="#f7d871"/><rect x="0.47778" y="0.47778" width="0.01151" height="0.01151" fill="#ea6546"/><rect x="0.47778" y="0.48889" width="0.01151" height="0.01151" fill="#ee7f50"/><rect x="0.47778" y="0.50000" width="0.01151" height="0.01151" fill="#f19757"/><rect x="0.47778" y="0.51111" width="0.01151" height="0.01151" fill="#f2a75c"/><rect x="0.47778" y="0.52222" width="0.01151" height="0.02262" fill="#f4b860"/><rect x="0.47778" y="0.54444" width="0.01151" height="0.25596" fill="#f5c063"/><rect x="0.47778" y="0.80000" width="0.01151" height="0.03373" fill="#fbf0bf"/><rect x="0.47778" y="0.83333" width="0.01151" height="0.16707" fill="#f7d871"/><rect x="0.48889" y="0.48889" width="0.01151" height="0.01151" fill="#ea6546"/><rect x="0.48889" y="0.50000" width="0.01151" height="0.01151" fill="#ee7f50"/><rect x="0.48889" y="0.51111" width="0.01151" height="0.01151" fill="#f19757"/><rect x="0.48889" y="0.52222" width="0.01151" height="0.02262" fill="#f4b860"/><rect x="0.48889" y="0.54444" width="0.01151" height="0.25596" fill="#f5c063"/><rect x="0.48889" y="0.80000" width="0.01151" height="0.03373" fill="#fbf0bf"/><rect x="0.48889" y="0.83333" width="0.01151" height="0.16707" fill="#f7d871"/><rect x="0.50000" y="0.50000" width="0.01151" height="0.01151" fill="#ea6546"/><rect x="0.50000" y="0.51111" width="0.01151" height="0.01151" fill="#ee7f50"/><rect x="0.50000" y="0.52222" width="0.01151" height="0.02262" fill="#f4b860"/><rect x="0.50000" y="0.54444" width="0.01151" height="0.25596" fill="#f5c063"/><rect x="0.50000" y="0.80000" width="0.01151" height="0.03373" fill="#fbf0bf"/><rect x="0.50000" y="0.83333" width="0.01151" height="0.16707" fill="#f7d871"/><rect x="0.51111" y="0.51111" width="0.01151" height="0.01151" fill="#ea6546"/><rect x="0.51111" y="0.52222" width="0.01151" height="0.02262" fill="#f4b860"/><rect x="0.51111" y="0.54444" width="0.01151" height="0.25596" fill="#f5c063"/><rect x="0.51111" y="0.80000" width="0.01151" height="0.03373" fill="#fbf0bf"/><rect x="0.51111" y="0.83333" width="0.01151" height="0.16707" fill="#f7d871"/><rect x="0.52222" y="0.52222" width="0.01151" height="0.01151" fill="#f3ab5d"/><rect x="0.52222" y="0.53333" width="0.01151" height="0.01151" fill="#f5bc62"/><rect x="0.52222" y="0.54444" width="0.01151" height="0.25596" fill="#f5bd62"/><rect x="0.52222" y="0.80000" width="0.01151" height="0.03373" fill="#fbf0bf"/><rect x="0.52222" y="0.83333" width="0.01151" height="0.16707" fill="#f7db73"/><rect x="0.53333" y="0.53333" width="0.01151" height="0.01151" fill="#f3ab5d"/><rect x="0.53333" y="0.54444" width="0.01151" height="0.25596" fill="#f5bd62"/><rect x="0.53333" y="0.80000" width="0.01151" height="0.03373" fill="#fbf0bf"/><rect x="0.53333" y="0.83333" width="0.01151" height="0.16707" fill="#f7db73"/><rect x="0.54444" y="0.54444" width="0.01151" height="0.01151" fill="#f3ab5d"/><rect x="0.54444" y="0.55556" width="0.01151" height="0.01151" fill="#f3b15f"/><rect x="0.54444" y="0.56667" width="0.01151" height="0.01151" fill="#f4b25f"/><rect x="0.54444" y="0.57778" width="0.01151" height="0.01151" fill="#f4b35f"/><rect x="0.54444" y="0.58889" width="0.01151" height="0.01151" fill="#f4b560"/><rect x="0.54444" y="0.60000" width="0.01151" height="0.01151" fill="#f4b660"/><rect x="0.54444" y="0.61111" width="0.01151" height="0.01151" fill="#f4b760"/><rect x="0.54444" y="0.62222" width="0.01151" height="0.01151" fill="#f4b961"/><rect x="0.54444" y="0.63333" width="0.01151" height="0.01151" fill="#f5ba61"/><rect x="0.54444" y="0.64444" width="0.01151" height="0.01151" fill="#f5bb61"/><rect x="0.54444" y="0.65556" width="0.01151" height="0.01151" fill="#f5bd62"/><rect x="0.54444" y="0.66667" width="0.01151" height="0.01151" fill="#f5be62"/><rect x="0.54444" y="0.67778" width="0.01151" height="0.01151" fill="#f5bf62"/><rect x="0.54444" y="0.68889" width="0.01151" height="0.01151" fill="#f5c063"/><rect x="0.54444" y="0.70000" width="0.01151" height="0.01151" fill="#f6c263"/><rect x="0.54444" y="0.71111" width="0.01151" height="0.01151" fill="#f6c364"/><rect x="0.54444" y="0.72222" width="0.01151" height="0.01151" fill="#f6c464"/><rect x="0.54444" y="0.73333" width="0.01151" height="0.01151" fill="#f6c565"/><rect x="0.54444" y="0.74444" width="0.01151" height="0.01151" fill="#f6c665"/><rect x="0.54444" y="0.75556" width="0.01151" height="0.01151" fill="#f6c766"/><rect x="0.54444" y="0.76667" width="0.01151" height="0.01151" fill="#f6c966"/><rect x="0.54444" y="0.77778" width="0.01151" height="0.01151" fill="#f6ca67"/><rect x="0.54444" y="0.78889" width="0.01151" height="0.01151" fill="#f6cb67"/><rect x="0.54444" y="0.80000" width="0.01151" height="0.03373" fill="#fbf0bf"/><rect x="0.54444" y="0.83333" width="0.01151" height="0.16707" fill="#f8de76"/><rect x="0.55556" y="0.55556" width="0.01151" height="0.01151" fill="#f3ab5d"/><rect x="0.55556" y="0.56667" width="0.01151" height="0.01151" fill="#f3b15f"/><rect x="0.55556" y="0.57778" width="0.01151" height="0.01151" fill="#f4b25f"/><rect x="0.55556" y="0.58889" width="0.01151" height="0.01151" fill="#f4b35f"/><rect x="0.55556" y="0.60000" width="0.01151" height="0.01151" fill="#f4b560"/><rect x="0.55556" y="0.61111" width="0.01151" height="0.01151" fill="#f4b660"/><rect x="0.55556" y="0.62222" width="0.01151" height="0.01151" fill="#f4b760"/><rect x="0.55556" y="0.63333" width="0.01151" height="0.01151" fill="#f4b961"/><rect x="0.55556" y="0.64444" width="0.01151" height="0.01151" fill="#f5ba61"/><rect x="0.55556" y="0.65556" width="0.01151" height="0.01151" fill="#f5bb61"/><rect x="0.55556" y="0.66667" width="0.01151" height="0.01151" fill="#f5bd62"/><rect x="0.55556" y="0.67778" width="0.01151" height="0.01151" fill="#f5be62"/><rect x="0.55556" y="0.68889" width="0.01151" height="0.01151" fill="#f5bf62"/><rect x="0.55556" y="0.70000" width="0.01151" height="0.01151" fill="#f5c063"/><rect x="0.55556" y="0.71111" width="0.01151" height="0.01151" fill="#f6c263"/><rect x="0.55556" y="0.72222" width="0.01151" height="0.01151" fill="#f6c364"/><rect x="0.55556" y="0.73333" width="0.01151" height="0.01151" fill="#f6c464"/><rect x="0.55556" y="0.74444" width="0.01151" height="0.01151" fill="#f6c565"/><rect x="0.55556" y="0.75556" width="0.01151" height="0.01151" fill="#f6c665"/><rect x="0.55556" y="0.76667" width="0.01151" height="0.01151" fill="#f6c766"/><rect x="0.55556" y="0.77778" width="0.01151" height="0.01151" fill="#f6c966"/><rect x="0.55556" y="0.78889" width="0.01151" height="0.01151" fill="#f6ca67"/><rect x="0.55556" y="0.80000" width="0.01151" height="0.03373" fill="#fbf0bf"/><rect x="0.55556" y="0.83333" width="0.01151" height="0.16707" fill="#f8de76"/><rect x="0.56667" y="0.56667" width="0.01151" height="0.01151" fill="#f3ab5d"/><rect x="0.56667" y="0.57778" width="0.01151" height="0.01151" fill="#f3b15f"/><rect x="0.56667" y="0.58889" width="0.01151" height="0.01151" fill="#f4b25f"/><rect x="0.56667" y="0.60000" width="0.01151" height="0.01151" fill="#f4b35f"/><rect x="0.56667" y="0.61111" width="0.01151" height="0.01151" fill="#f4b560"/><rect x="0.56667" y="0.62222" width="0.01151" height="0.01151" fill="#f4b660"/><rect x="0.56667" y="0.63333" width="0.01151" height="0.01151" fill="#f4b760"/><rect x="0.56667" y="0.64444" width="0.01151" height="0.01151" fill="#f4b961"/><rect x="0.56667" y="0.65556" width="0.01151" height="0.01151" fill="#f5ba61"/><rect x="0.56667" y="0.66667" width="0.01151" height="0.01151" fill="#f5bb61"/><rect x="0.56667" y="0.67778" width="0.01151" height="0.01151" fill="#f5bd62"/><rect x="0.56667" y="0.68889" width="0.01151" height="0.01151" fill="#f5be62"/><rect x="0.56667" y="0.70000" width="0.01151" height="0.01151" fill="#f5bf62"/><rect x="0.56667" y="0.71111" width="0.01151" height="0.01151" fill="#f5c063"/><rect x="0.56667" y="0.72222" width="0.01151" height="0.01151" fill="#f6c263"/><rect x="0.56667" y="0.73333" width="0.01151" height="0.01151" fill="#f6c364"/><rect x="0.56667" y="0.74444" width="0.01151" height="0.01151" fill="#f6c464"/><rect x="0.56667" y="0.75556" width="0.01151" height="0.01151" fill="#f6c565"/><rect x="0.56667" y="0.76667" width="0.01151" height="0.01151" fill="#f6c665"/><rect x="0.56667" y="0.77778" width="0.01151" height="0.01151" fill="#f6c766"/><rect x="0.56667" y="0.78889" width="0.01151" height="0.01151" fill="#f6c966"/><rect x="0.56667" y="0.80000" width="0.01151" height="0.03373" fill="#fbf0bf"/><rect x="0.56667" y="0.83333" width="0.01151" height="0.16707" fill="#f8de76"/><rect x="0.57778" y="0.57778" width="0.01151" height="0.01151" fill="#f3ab5d"/><rect x="0.57778" y="0.58889" width="0.01151" height="0.01151" fill="#f3b15f"/><rect x="0.57778" y="0.60000" width="0.01151" height="0.01151" fill="#f4b25f"/><rect x="0.57778" y="0.61111" width="0.01151" height="0.01151" fill="#f4b35f"/><rect x="0.57778" y="0.62222" width="0.01151" height="0.01151" fill="#f4b560"/><rect x="0.57778" y="0.63333" width="0.01151" height="0.01151" fill="#f4b660"/><rect x="0.57778" y="0.64444" width="0.01151" height="0.01151" fill="#f4b760"/><rect x="0.57778" y="0.65556" width="0.01151" height="0.01151" fill="#f4b961"/><rect x="0.57778" y="0.66667" width="0.01151" height="0.01151" fill="#f5ba61"/><rect x="0.57778" y="0.67778" width="0.01151" height="0.01151" fill="#f5bb61"/><rect x="0.57778" y="0.68889" width="0.01151" height="0.01151" fill="#f5bd62"/><rect x="0.57778" y="0.70000" width="0.01151" height="0.01151" fill="#f5be62"/><rect x="0.57778" y="0.71111" width="0.01151" height="0.01151" fill="#f5bf62"/><rect x="0.57778" y="0.72222" width="0.01151" height="0.01151" fill="#f5c063"/><rect x="0.57778" y="0.73333" width="0.01151" height="0.01151" fill="#f6c263"/><rect x="0.57778" y="0.74444" width="0.01151" height="0.01151" fill="#f6c364"/><rect x="0.57778" y="0.75556" width="0.01151" height="0.01151" fill="#f6c464"/><rect x="0.57778" y="0.76667" width="0.01151" height="0.01151" fill="#f6c565"/><rect x="0.57778" y="0.77778" width="0.01151" height="0.01151" fill="#f6c665"/><rect x="0.57778" y="0.78889" width="0.01151" height="0.01151" fill="#f6c766"/><rect x="0.57778" y="0.80000" width="0.01151" height="0.03373" fill="#fbf0bf"/><rect x="0.57778" y="0.83333" width="0.01151" height="0.16707" fill="#f8de76"/><rect x="0.58889" y="0.58889" width="0.01151" height="0.01151" fill="#f3ab5d"/><rect x="0.58889" y="0.60000" width="0.01151" height="0.01151" fill="#f3b15f"/><rect x="0.58889" y="0.61111" width="0.01151" height="0.01151" fill="#f4b25f"/><rect x="0.58889" y="0.62222" width="0.01151" height="0.01151" fill="#f4b35f"/><rect x="0.58889" y="0.63333" width="0.01151" height="0.01151" fill="#f4b560"/><rect x="0.58889" y="0.64444" width="0.01151" height="0.01151" fill="#f4b660"/><rect x="0.58889" y="0.65556" width="0.01151" height="0.01151" fill="#f4b760"/><rect x="0.58889" y="0.66667" width="0.01151" height="0.01151" fill="#f4b961"/><rect x="0.58889" y="0.67778" width="0.01151" height="0.01151" fill="#f5ba61"/><rect x="0.58889" y="0.68889" width="0.01151" height="0.01151" fill="#f5bb61"/><rect x="0.58889" y="0.70000" width="0.01151" height="0.01151" fill="#f5bd62"/><rect x="0.58889" y="0.71111" width="0.01151" height="0.01151" fill="#f5be62"/><rect x="0.58889" y="0.72222" width="0.01151" height="0.01151" fill="#f5bf62"/><rect x="0.58889" y="0.73333" width="0.01151" height="0.01151" fill="#f5c063"/><rect x="0.58889" y="0.74444" width="0.01151" height="0.01151" fill="#f6c263"/><rect x="0.58889" y="0.75556" width="0.01151" height="0.01151" fill="#f6c364"/><rect x="0.58889" y="0.76667" width="0.01151" height="0.01151" fill="#f6c464"/><rect x="0.58889" y="0.77778" width="0.01151" height="0.01151" fill="#f6c565"/><rect x="0.58889" y="0.78889" width="0.01151" height="0.01151" fill="#f6c665"/><rect x="0.58889" y="0.80000" width="0.01151" height="0.03373" fill="#fbf0bf"/><rect x="0.58889" y="0.83333" width="0.01151" height="0.16707" fill="#f8de76"/><rect x="0.60000" y="0.60000" width="0.01151" height="0.01151" fill="#f3ab5d"/><rect x="0.60000" y="0.61111" width="0.01151" height="0.01151" fill="#f3b15f"/><rect x="0.60000" y="0.62222" width="0.01151" height="0.01151" fill="#f4b25f"/><rect x="0.60000" y="0.63333" width="0.01151" height="0.01151" fill="#f4b35f"/><rect x="0.60000" y="0.64444" width="0.01151" height="0.01151" fill="#f4b560"/><rect x="0.60000" y="0.65556" width="0.01151" height="0.01151" fill="#f4b660"/><rect x="0.60000" y="0.66667" width="0.01151" height="0.01151" fill="#f4b760"/><rect x="0.60000" y="0.67778" width="0.01151" height="0.01151" fill="#f4b961"/><rect x="0.60000" y="0.68889" width="0.01151" height="0.01151" fill="#f5ba61"/><rect x="0.60000" y="0.70000" width="0.01151" height="0.01151" fill="#f5bb61"/><rect x="0.60000" y="0.71111" width="0.01151" height="0.01151" fill="#f5bd62"/><rect x="0.60000" y="0.72222" width="0.01151" height="0.01151" fill="#f5be62"/><rect x="0.60000" y="0.73333" width="0.01151" height="0.01151" fill="#f5bf62"/><rect x="0.60000" y="0.74444" width="0.01151" height="0.01151" fill="#f5c063"/><rect x="0.60000" y="0.75556" width="0.01151" height="0.01151" fill="#f6c263"/><rect x="0.60000" y="0.76667" width="0.01151" height="0.01151" fill="#f6c364"/><rect x="0.60000" y="0.77778" width="0.01151" height="0.01151" fill="#f6c464"/><rect x="0.60000" y="0.78889" width="0.01151" height="0.01151" fill="#f6c565"/><rect x="0.60000" y="0.80000" width="0.01151" height="0.03373" fill="#fbf0bf"/><rect x="0.60000" y="0.83333" width="0.01151" height="0.16707" fill="#f8de76"/><rect x="0.61111" y="0.61111" width="0.01151" height="0.01151" fill="#f3ab5d"/><rect x="0.61111" y="0.62222" width="0.01151" height="0.01151" fill="#f3b15f"/><rect x="0.61111" y="0.63333" width="0.01151" height="0.01151" fill="#f4b25f"/><rect x="0.61111" y="0.64444" width="0.01151" height="0.01151" fill="#f4b35f"/><rect x="0.61111" y="0.65556" width="0.01151" height="0.01151" fill="#f4b560"/><rect x="0.61111" y="0.66667" width="0.01151" height="0.01151" fill="#f4b660"/><rect x="0.61111" y="0.67778" width="0.01151" height="0.01151" fill="#f4b760"/><rect x="0.61111" y="0.68889" width="0.01151" height="0.01151" fill="#f4b961"/><rect x="0.61111" y="0.70000" width="0.01151" height="0.01151" fill="#f5ba61"/><rect x="0.61111" y="0.71111" width="0.01151" height="0.01151" fill="#f5bb61"/><rect x="0.61111" y="0.72222" width="0.01151" height="0.01151" fill="#f5bd62"/><rect x="0.61111" y="0.73333" width="0.01151" height="0.01151" fill="#f5be62"/><rect x="0.61111" y="0.74444" width="0.01151" height="0.01151" fill="#f5bf62"/><rect x="0.61111" y="0.75556" width="0.01151" height="0.01151" fill="#f5c063"/><rect x="0.61111" y="0.76667" width="0.01151" height="0.01151" fill="#f6c263"/><rect x="0.61111" y="0.77778" width="0.01151" height="0.01151" fill="#f6c364"/><rect x="0.61111" y="0.78889" width="0.01151" height="0.01151" fill="#f6c464"/><rect x="0.61111" y="0.80000" width="0.01151" height="0.03373" fill="#fbf0bf"/><rect x="0.61111" y="0.83333" width="0.01151" height="0.16707" fill="#f8de76"/><rect x="0.62222" y="0.62222" width="0.01151" height="0.01151" fill="#f3ab5d"/><rect x="0.62222" y="0.63333" width="0.01151" height="0.01151" fill="#f3b15f"/><rect x="0.62222" y="0.64444" width="0.01151" height="0.01151" fill="#f4b25f"/><rect x="0.62222" y="0.65556" width="0.01151" height="0.01151" fill="#f4b35f"/><rect x="0.62222" y="0.66667" width="0.01151" height="0.01151" fill="#f4b560"/><rect x="0.62222" y="0.67778" width="0.01151" height="0.01151" fill="#f4b660"/><rect x="0.62222" y="0.68889" width="0.01151" height="0.01151" fill="#f4b760"/><rect x="0.62222" y="0.70000" width="0.01151" height="0.01151" fill="#f4b961"/><rect x="0.62222" y="0.71111" width="0.01151" height="0.01151" fill="#f5ba61"/><rect x="0.62222" y="0.72222" width="0.01151" height="0.01151" fill="#f5bb61"/><rect x="0.62222" y="0.73333" width="0.01151" height="0.01151" fill="#f5bd62"/><rect x="0.62222" y="0.74444" width="0.01151" height="0.01151" fill="#f5be62"/><rect x="0.62222" y="0.75556" width="0.01151" height="0.01151" fill="#f5bf62"/><rect x="0.62222" y="0.76667" width="0.01151" height="0.01151" fill="#f5c063"/><rect x="0.62222" y="0.77778" width="0.01151" height="0.01151" fill="#f6c263"/><rect x="0.62222" y="0.78889" width="0.01151" height="0.01151" fill="#f6c364"/><rect x="0.62222" y="0.80000" width="0.01151" height="0.03373" fill="#fbf0bf"/><rect x="0.62222" y="0.83333" width="0.01151" height="0.16707" fill="#f8de76"/><rect x="0.63333" y="0.63333" width="0.01151" height="0.01151" fill="#f3ab5d"/><rect x="0.63333" y="0.64444" width="0.01151" height="0.01151" fill="#f3b15f"/><rect x="0.63333" y="0.65556" width="0.01151" height="0.01151" fill="#f4b25f"/><rect x="0.63333" y="0.66667" width="0.01151" height="0.01151" fill="#f4b35f"/><rect x="0.63333" y="0.67778" width="0.01151" height="0.01151" fill="#f4b560"/><rect x="0.63333" y="0.68889" width="0.01151" height="0.01151" fill="#f4b660"/><rect x="0.63333" y="0.70000" width="0.01151" height="0.01151" fill="#f4b760"/><rect x="0.63333" y="0.71111" width="0.01151" height="0.01151" fill="#f4b961"/><rect x="0.63333" y="0.72222" width="0.01151" height="0.01151" fill="#f5ba61"/><rect x="0.63333" y="0.73333" width="0.01151" height="0.01151" fill="#f5bb61"/><rect x="0.63333" y="0.74444" width="0.01151" height="0.01151" fill="#f5bd62"/><rect x="0.63333" y="0.75556" width="0.01151" height="0.01151" fill="#f5be62"/><rect x="0.63333" y="0.76667" width="0.01151" height="0.01151" fill="#f5bf62"/><rect x="0.63333" y="0.77778" width="0.01151" height="0.01151" fill="#f5c063"/><rect x="0.63333" y="0.78889" width="0.01151" height="0.01151" fill="#f6c263"/><rect x="0.63333" y="0.80000" width="0.01151" height="0.03373" fill="#fbf0bf"/><rect x="0.63333" y="0.83333" width="0.01151" height="0.16707" fill="#f8de76"/><rect x="0.64444" y="0.64444" width="0.01151" height="0.01151" fill="#f3ab5d"/><rect x="0.64444" y="0.65556" width="0.01151" height="0.01151" fill="#f3b15f"/><rect x="0.64444" y="0.66667" width="0.01151" height="0.01151" fill="#f4b25f"/><rect x="0.64444" y="0.67778" width="0.01151" height="0.01151" fill="#f4b35f"/><rect x="0.64444" y="0.68889" width="0.01151" height="0.01151" fill="#f4b560"/><rect x="0.64444" y="0.70000" width="0.01151" height="0.01151" fill="#f4b660"/><rect x="0.64444" y="0.71111" width="0.01151" height="0.01151" fill="#f4b760"/><rect x="0.64444" y="0.72222" width="0.01151" height="0.01151" fill="#f4b961"/><rect x="0.64444" y="0.73333" width="0.01151" height="0.01151" fill="#f5ba61"/><rect x="0.64444" y="0.74444" width="0.01151" height="0.01151" fill="#f5bb61"/><rect x="0.64444" y="0.75556" width="0.01151" height="0.01151" fill="#f5bd62"/><rect x="0.64444" y="0.76667" width="0.01151" height="0.01151" fill="#f5be62"/><rect x="0.64444" y="0.77778" width="0.01151" height="0.01151" fill="#f5bf62"/><rect x="0.64444" y="0.78889" width="0.01151" height="0.01151" fill="#f5c063"/><rect x="0.64444" y="0.80000" width="0.01151" height="0.03373" fill="#fbf0bf"/><rect x="0.64444" y="0.83333" width="0.01151" height="0.16707" fill="#f8de76"/><rect x="0.65556" y="0.65556" width="0.01151" height="0.01151" fill="#f3ab5d"/><rect x="0.65556" y="0.66667" width="0.01151" height="0.01151" fill="#f3b15f"/><rect x="0.65556" y="0.67778" width="0.01151" height="0.01151" fill="#f4b25f"/><rect x="0.65556" y="0.68889" width="0.01151" height="0.01151" fill="#f4b35f"/><rect x="0.65556" y="0.70000" width="0.01151" height="0.01151" fill="#f4b560"/><rect x="0.65556" y="0.71111" width="0.01151" height="0.01151" fill="#f4b660"/><rect x="0.65556" y="0.72222" width="0.01151" height="0.01151" fill="#f4b760"/><rect x="0.65556" y="0.73333" width="0.01151" height="0.01151" fill="#f4b961"/><rect x="0.65556" y="0.74444" width="0.01151" height="0.01151" fill="#f5ba61"/><rect x="0.65556" y="0.75556" width="0.01151" height="0.01151" fill="#f5bb61"/><rect x="0.65556" y="0.76667" width="0.01151" height="0.01151" fill="#f5bd62"/><rect x="0.65556" y="0.77778" width="0.01151" height="0.01151" fill="#f5be62"/><rect x="0.65556" y="0.78889" width="0.01151" height="0.01151" fill="#f5bf62"/><rect x="0.65556" y="0.80000" width="0.01151" height="0.03373" fill="#fbf0bf"/><rect x="0.65556" y="0.83333" width="0.01151" height="0.16707" fill="#f8de76"/><rect x="0.66667" y="0.66667" width="0.01151" height="0.01151" fill="#f3ab5d"/><rect x="0.66667" y="0.67778" width="0.01151" height="0.01151" fill="#f3b15f"/><rect x="0.66667" y="0.68889" width="0.01151" height="0.01151" fill="#f4b25f"/><rect x="0.66667" y="0.70000" width="0.01151" height="0.01151" fill="#f4b35f"/><rect x="0.66667" y="0.71111" width="0.01151" height="0.01151" fill="#f4b560"/><rect x="0.66667" y="0.72222" width="0.01151" height="0.01151" fill="#f4b660"/><rect x="0.66667" y="0.73333" width="0.01151" height="0.01151" fill="#f4b760"/><rect x="0.66667" y="0.74444" width="0.01151" height="0.01151" fill="#f4b961"/><rect x="0.66667" y="0.75556" width="0.01151" height="0.01151" fill="#f5ba61"/><rect x="0.66667" y="0.76667" width="0.01151" height="0.01151" fill="#f5bb61"/><rect x="0.66667" y="0.77778" width="0.01151" height="0.01151" fill="#f5bd62"/><rect x="0.66667" y="0.78889" width="0.01151" height="0.01151" fill="#f5be62"/><rect x="0.66667" y="0.80000" width="0.01151" height="0.03373" fill="#fbf0bf"/><rect x="0.66667" y="0.83333" width="0.01151" height="0.16707" fill="#f8de76"/><rect x="0.67778" y="0.67778" width="0.01151" height="0.01151" fill="#f3ab5d"/><rect x="0.67778" y="0.68889" width="0.01151" height="0.01151" fill="#f3b15f"/><rect x="0.67778" y="0.70000" width="0.01151" height="0.01151" fill="#f4b25f"/><rect x="0.67778" y="0.71111" width="0.01151" height="0.01151" fill="#f4b35f"/><rect x="0.67778" y="0.72222" width="0.01151" height="0.01151" fill="#f4b560"/><rect x="0.67778" y="0.73333" width="0.01151" height="0.01151" fill="#f4b660"/><rect x="0.67778" y="0.74444" width="0.01151" height="0.01151" fill="#f4b760"/><rect x="0.67778" y="0.75556" width="0.01151" height="0.01151" fill="#f4b961"/><rect x="0.67778" y="0.76667" width="0.01151" height="0.01151" fill="#f5ba61"/><rect x="0.67778" y="0.77778" width="0.01151" height="0.01151" fill="#f5bb61"/><rect x="0.67778" y="0.78889" width="0.01151" height="0.01151" fill="#f5bd62"/><rect x="0.67778" y="0.80000" width="0.01151" height="0.03373" fill="#fbf0bf"/><rect x="0.67778" y="0.83333" width="0.01151" height="0.16707" fill="#f8de76"/><rect x="0.68889" y="0.68889" width="0.01151" height="0.01151" fill="#f3ab5d"/><rect x="0.68889" y="0.70000" width="0.01151" height="0.01151" fill="#f3b15f"/><rect x="0.68889" y="0.71111" width="0.01151" height="0.01151" fill="#f4b25f"/><rect x="0.68889" y="0.72222" width="0.01151" height="0.01151" fill="#f4b35f"/><rect x="0.68889" y="0.73333" width="0.01151" height="0.01151" fill="#f4b560"/><rect x="0.68889" y="0.74444" width="0.01151" height="0.01151" fill="#f4b660"/><rect x="0.68889" y="0.75556" width="0.01151" height="0.01151" fill="#f4b760"/><rect x="0.68889" y="0.76667" width="0.01151" height="0.01151" fill="#f4b961"/><rect x="0.68889" y="0.77778" width="0.01151" height="0.01151" fill="#f5ba61"/><rect x="0.68889" y="0.78889" width="0.01151" height="0.01151" fill="#f5bb61"/><rect x="0.68889" y="0.80000" width="0.01151" height="0.03373" fill="#fbf0bf"/><rect x="0.68889" y="0.83333" width="0.01151" height="0.16707" fill="#f8de76"/><rect x="0.70000" y="0.70000" width="0.01151" height="0.01151" fill="#f3ab5d"/><rect x="0.70000" y="0.71111" width="0.01151" height="0.01151" fill="#f3b15f"/><rect x="0.70000" y="0.72222" width="0.01151" height="0.01151" fill="#f4b25f"/><rect x="0.70000" y="0.73333" width="0.01151" height="0.01151" fill="#f4b35f"/><rect x="0.70000" y="0.74444" width="0.01151" height="0.01151" fill="#f4b560"/><rect x="0.70000" y="0.75556" width="0.01151" height="0.01151" fill="#f4b660"/><rect x="0.70000" y="0.76667" width="0.01151" height="0.01151" fill="#f4b760"/><rect x="0.70000" y="0.77778" width="0.01151" height="0.01151" fill="#f4b961"/><rect x="0.70000" y="0.78889" width="0.01151" height="0.01151" fill="#f5ba61"/><rect x="0.70000" y="0.80000" width="0.01151" height="0.03373" fill="#fbf0bf"/><rect x="0.70000" y="0.83333" width="0.01151" height="0.16707" fill="#f8de76"/><rect x="0.71111" y="0.71111" width="0.01151" height="0.01151" fill="#f3ab5d"/><rect x="0.71111" y="0.72222" width="0.01151" height="0.01151" fill="#f3b15f"/><rect x="0.71111" y="0.73333" width="0.01151" height="0.01151" fill="#f4b25f"/><rect x="0.71111" y="0.74444" width="0.01151" height="0.01151" fill="#f4b35f"/><rect x="0.71111" y="0.75556" width="0.01151" height="0.01151" fill="#f4b560"/><rect x="0.71111" y="0.76667" width="0.01151" height="0.01151" fill="#f4b660"/><rect x="0.71111" y="0.77778" width="0.01151" height="0.01151" fill="#f4b760"/><rect x="0.71111" y="0.78889" width="0.01151" height="0.01151" fill="#f4b961"/><rect x="0.71111" y="0.80000" width="0.01151" height="0.03373" fill="#fbf0bf"/><rect x="0.71111" y="0.83333" width="0.01151" height="0.16707" fill="#f8de76"/><rect x="0.72222" y="0.72222" width="0.01151" height="0.01151" fill="#f3ab5d"/><rect x="0.72222" y="0.73333" width="0.01151" height="0.01151" fill="#f3b15f"/><rect x="0.72222" y="0.74444" width="0.01151" height="0.01151" fill="#f4b25f"/><rect x="0.72222" y="0.75556" width="0.01151" height="0.01151" fill="#f4b35f"/><rect x="0.72222" y="0.76667" width="0.01151" height="0.01151" fill="#f4b560"/><rect x="0.72222" y="0.77778" width="0.01151" height="0.01151" fill="#f4b660"/><rect x="0.72222" y="0.78889" width="0.01151" height="0.01151" fill="#f4b760"/><rect x="0.72222" y="0.80000" width="0.01151" height="0.03373" fill="#fbf0bf"/><rect x="0.72222" y="0.83333" width="0.01151" height="0.16707" fill="#f8de76"/><rect x="0.73333" y="0.73333" width="0.01151" height="0.01151" fill="#f3ab5d"/><rect x="0.73333" y="0.74444" width="0.01151" height="0.01151" fill="#f3b15f"/><rect x="0.73333" y="0.75556" width="0.01151" height="0.01151" fill="#f4b25f"/><rect x="0.73333" y="0.76667" width="0.01151" height="0.01151" fill="#f4b35f"/><rect x="0.73333" y="0.77778" width="0.01151" height="0.01151" fill="#f4b560"/><rect x="0.73333" y="0.78889" width="0.01151" height="0.01151" fill="#f4b660"/><rect x="0.73333" y="0.80000" width="0.01151" height="0.03373" fill="#fbf0bf"/><rect x="0.73333" y="0.83333" width="0.01151" height="0.16707" fill="#f8de76"/><rect x="0.74444" y="0.74444" width="0.01151" height="0.01151" fill="#f3ab5d"/><rect x="0.74444" y="0.75556" width="0.01151" height="0.01151" fill="#f3b15f"/><rect x="0.74444" y="0.76667" width="0.01151" height="0.01151" fill="#f4b25f"/><rect x="0.74444" y="0.77778" width="0.01151" height="0.01151" fill="#f4b35f"/><rect x="0.74444" y="0.78889" width="0.01151" height="0.01151" fill="#f4b560"/><rect x="0.74444" y="0.80000" width="0.01151" height="0.03373" fill="#fbf0bf"/><rect x="0.74444" y="0.83333" width="0.01151" height="0.16707" fill="#f8de76"/><rect x="0.75556" y="0.75556" width="0.01151" height="0.01151" fill="#f3ab5d"/><rect x="0.75556" y="0.76667" width="0.01151" height="0.01151" fill="#f3b15f"/><rect x="0.75556" y="0.77778" width="0.01151" height="0.01151" fill="#f4b25f"/><rect x="0.75556" y="0.78889" width="0.01151" height="0.01151" fill="#f4b35f"/><rect x="0.75556" y="0.80000" width="0.01151" height="0.03373" fill="#fbf0bf"/><rect x="0.75556" y="0.83333" width="0.01151" height="0.16707" fill="#f8de76"/><rect x="0.76667" y="0.76667" width="0.01151" height="0.01151" fill="#f3ab5d"/><rect x="0.76667" y="0.77778" width="0.01151" height="0.01151" fill="#f3b15f"/><rect x="0.76667" y="0.78889" width="0.01151" height="0.01151" fill="#f4b25f"/><rect x="0.76667" y="0.80000" width="0.01151" height="0.03373" fill="#fbf0bf"/><rect x="0.76667" y="0.83333" width="0.01151" height="0.16707" fill="#f8de76"/><rect x="0.77778" y="0.77778" width="0.01151" height="0.01151" fill="#f3ab5d"/><rect x="0.77778" y="0.78889" width="0.01151" height="0.01151" fill="#f3b15f"/><rect x="0.77778" y="0.80000" width="0.01151" height="0.03373" fill="#fbf0bf"/><rect x="0.77778" y="0.83333" width="0.01151" height="0.16707" fill="#f8de76"/><rect x="0.78889" y="0.78889" width="0.01151" height="0.01151" fill="#f3ab5d"/><rect x="0.78889" y="0.80000" width="0.01151" height="0.01151" fill="#f7d26c"/><rect x="0.78889" y="0.81111" width="0.01151" height="0.02262" fill="#fbf0bf"/><rect x="0.78889" y="0.83333" width="0.01151" height="0.16707" fill="#f8de76"/><rect x="0.80000" y="0.80000" width="0.01151" height="0.01151" fill="#f3ab5d"/><rect x="0.80000" y="0.81111" width="0.01151" height="0.01151" fill="#f7d26c"/><rect x="0.80000" y="0.82222" width="0.01151" height="0.17818" fill="#faeeb2"/><rect x="0.81111" y="0.81111" width="0.01151" height="0.01151" fill="#f3ab5d"/><rect x="0.81111" y="0.82222" width="0.01151" height="0.01151" fill="#f7d26c"/><rect x="0.81111" y="0.83333" width="0.01151" height="0.16707" fill="#faeeb2"/><rect x="0.82222" y="0.82222" width="0.01151" height="0.01151" fill="#f3ab5d"/><rect x="0.82222" y="0.83333" width="0.01151" height="0.01151" fill="#f7d26c"/><rect x="0.82222" y="0.84444" width="0.01151" height="0.15596" fill="#faeeb2"/><rect x="0.83333" y="0.83333" width="0.01151" height="0.01151" fill="#ed784d"/><rect x="0.83333" y="0.84444" width="0.01151" height="0.01151" fill="#ee8251"/><rect x="0.83333" y="0.85556" width="0.01151" height="0.01151" fill="#ef8c54"/><rect x="0.83333" y="0.86667" width="0.01151" height="0.01151" fill="#f19757"/><rect x="0.83333" y="0.87778" width="0.01151" height="0.01151" fill="#f29e59"/><rect x="0.83333" y="0.88889" width="0.01151" height="0.01151" fill="#f2a55b"/><rect x="0.83333" y="0.90000" width="0.01151" height="0.01151" fill="#f3ab5d"/><rect x="0.83333" y="0.91111" width="0.01151" height="0.01151" fill="#f4b15f"/><rect x="0.83333" y="0.92222" width="0.01151" height="0.01151" fill="#f4b660"/><rect x="0.83333" y="0.93333" width="0.01151" height="0.01151" fill="#f5bb61"/><rect x="0.83333" y="0.94444" width="0.01151" height="0.01151" fill="#f5c063"/><rect x="0.83333" y="0.95556" width="0.01151" height="0.01151" fill="#f6c565"/><rect x="0.83333" y="0.96667" width="0.01151" height="0.01151" fill="#f6c967"/><rect x="0.83333" y="0.97778" width="0.01151" height="0.01151" fill="#f6ce68"/><rect x="0.83333" y="0.98889" width="0.01151" height="0.01151" fill="#f7d26c"/><rect x="0.84444" y="0.84444" width="0.01151" height="0.01151" fill="#ed784d"/><rect x="0.84444" y="0.85556" width="0.01151" height="0.01151" fill="#ee8251"/><rect x="0.84444" y="0.86667" width="0.01151" height="0.01151" fill="#ef8c54"/><rect x="0.84444" y="0.87778" width="0.01151" height="0.01151" fill="#f19757"/><rect x="0.84444" y="0.88889" width="0.01151" height="0.01151" fill="#f29e59"/><rect x="0.84444" y="0.90000" width="0.01151" height="0.01151" fill="#f2a55b"/><rect x="0.84444" y="0.91111" width="0.01151" height="0.01151" fill="#f3ab5d"/><rect x="0.84444" y="0.92222" width="0.01151" height="0.01151" fill="#f4b15f"/><rect x="0.84444" y="0.93333" width="0.01151" height="0.01151" fill="#f4b660"/><rect x="0.84444" y="0.94444" width="0.01151" height="0.01151" fill="#f5bb61"/><rect x="0.84444" y="0.95556" width="0.01151" height="0.01151" fill="#f5c063"/><rect x="0.84444" y="0.96667" width="0.01151" height="0.01151" fill="#f6c565"/><rect x="0.84444" y="0.97778" width="0.01151" height="0.01151" fill="#f6c967"/><rect x="0.84444" y="0.98889" width="0.01151" height="0.01151" fill="#f6ce68"/><rect x="0.85556" y="0.85556" width="0.01151" height="0.01151" fill="#ed784d"/><rect x="0.85556" y="0.86667" width="0.01151" height="0.01151" fill="#ee8251"/><rect x="0.85556" y="0.87778" width="0.01151" height="0.01151" fill="#ef8c54"/><rect x="0.85556" y="0.88889" width="0.01151" height="0.01151" fill="#f19757"/><rect x="0.85556" y="0.90000" width="0.01151" height="0.01151" fill="#f29e59"/><rect x="0.85556" y="0.91111" width="0.01151" height="0.01151" fill="#f2a55b"/><rect x="0.85556" y="0.92222" width="0.01151" height="0.01151" fill="#f3ab5d"/><rect x="0.85556" y="0.93333" width="0.01151" height="0.01151" fill="#f4b15f"/><rect x="0.85556" y="0.94444" width="0.01151" height="0.01151" fill="#f4b660"/><rect x="0.85556" y="0.95556" width="0.01151" height="0.01151" fill="#f5bb61"/><rect x="0.85556" y="0.96667" width="0.01151" height="0.01151" fill="#f5c063"/><rect x="0.85556" y="0.97778" width="0.01151" height="0.01151" fill="#f6c565"/><rect x="0.85556" y="0.98889" width="0.01151" height="0.01151" fill="#f6c967"/><rect x="0.86667" y="0.86667" width="0.01151" height="0.01151" fill="#ed784d"/><rect x="0.86667" y="0.87778" width="0.01151" height="0.01151" fill="#ee8251"/><rect x="0.86667" y="0.88889" width="0.01151" height="0.01151" fill="#ef8c54"/><rect x="0.86667" y="0.90000" width="0.01151" height="0.01151" fill="#f19757"/><rect x="0.86667" y="0.91111" width="0.01151" height="0.01151" fill="#f29e59"/><rect x="0.86667" y="0.92222" width="0.01151" height="0.01151" fill="#f2a55b"/><rect x="0.86667" y="0.93333" width="0.01151" height="0.01151" fill="#f3ab5d"/><rect x="0.86667" y="0.94444" width="0.01151" height="0.01151" fill="#f4b15f"/><rect x="0.86667" y="0.95556" width="0.01151" height="0.01151" fill="#f4b660"/><rect x="0.86667" y="0.96667" width="0.01151" height="0.01151" fill="#f5bb61"/><rect x="0.86667" y="0.97778" width="0.01151" height="0.01151" fill="#f5c063"/><rect x="0.86667" y="0.98889" width="0.01151" height="0.01151" fill="#f6c565"/><rect x="0.87778" y="0.87778" width="0.01151" height="0.01151" fill="#ed784d"/><rect x="0.87778" y="0.88889" width="0.01151" height="0.01151" fill="#ee8251"/><rect x="0.87778" y="0.90000" width="0.01151" height="0.01151" fill="#ef8c54"/><rect x="0.87778" y="0.91111" width="0.01151" height="0.01151" fill="#f19757"/><rect x="0.87778" y="0.92222" width="0.01151" height="0.01151" fill="#f29e59"/><rect x="0.87778" y="0.93333" width="0.01151" height="0.01151" fill="#f2a55b"/><rect x="0.87778" y="0.94444" width="0.01151" height="0.01151" fill="#f3ab5d"/><rect x="0.87778" y="0.95556" width="0.01151" height="0.01151" fill="#f4b15f"/><rect x="0.87778" y="0.96667" width="0.01151" height="0.01151" fill="#f4b660"/><rect x="0.87778" y="0.97778" width="0.01151" height="0.01151" fill="#f5bb61"/><rect x="0.87778" y="0.98889" width="0.01151" height="0.01151" fill="#f5c063"/><rect x="0.88889" y="0.88889" width="0.01151" height="0.01151" fill="#ed784d"/><rect x="0.88889" y="0.90000" width="0.01151" height="0.01151" fill="#ee8251"/><rect x="0.88889" y="0.91111" width="0.01151" height="0.01151" fill="#ef8c54"/><rect x="0.88889" y="0.92222" width="0.01151" height="0.01151" fill="#f19757"/><rect x="0.88889" y="0.93333" width="0.01151" height="0.01151" fill="#f29e59"/><rect x="0.88889" y="0.94444" width="0.01151" height="0.01151" fill="#f2a55b"/><rect x="0.88889" y="0.95556" width="0.01151" height="0.01151" fill="#f3ab5d"/><rect x="0.88889" y="0.96667" width="0.01151" height="0.01151" fill="#f4b15f"/><rect x="0.88889" y="0.97778" width="0.01151" height="0.01151" fill="#f4b660"/><rect x="0.88889" y="0.98889" width="0.01151" height="0.01151" fill="#f5bb61"/><rect x="0.90000" y="0.90000" width="0.01151" height="0.01151" fill="#ed784d"/><rect x="0.90000" y="0.91111" width="0.01151" height="0.01151" fill="#ee8251"/><rect x="0.90000" y="0.92222" width="0.01151" height="0.01151" fill="#ef8c54"/><rect x="0.90000" y="0.93333" width="0.01151" height="0.01151" fill="#f19757"/><rect x="0.90000" y="0.94444" width="0.01151" height="0.01151" fill="#f29e59"/><rect x="0.90000" y="0.95556" width="0.01151" height="0.01151" fill="#f2a55b"/><rect x="0.90000" y="0.96667" width="0.01151" height="0.01151" fill="#f3ab5d"/><rect x="0.90000" y="0.97778" width="0.01151" height="0.01151" fill="#f4b15f"/><rect x="0.90000" y="0.98889" width="0.01151" height="0.01151" fill="#f4b660"/><rect x="0.91111" y="0.91111" width="0.01151" height="0.01151" fill="#ed784d"/><rect x="0.91111" y="0.92222" width="0.01151" height="0.01151" fill="#ee8251"/><rect x="0.91111" y="0.93333" width="0.01151" height="0.01151" fill="#ef8c54"/><rect x="0.91111" y="0.94444" width="0.01151" height="0.01151" fill="#f19757"/><rect x="0.91111" y="0.95556" width="0.01151" height="0.01151" fill="#f29e59"/><rect x="0.91111" y="0.96667" width="0.01151" height="0.01151" fill="#f2a55b"/><rect x="0.91111" y="0.97778" width="0.01151" height="0.01151" fill="#f3ab5d"/><rect x="0.91111" y="0.98889" width="0.01151" height="0.01151" fill="#f4b15f"/><rect x="0.92222" y="0.92222" width="0.01151" height="0.01151" fill="#ed784d"/><rect x="0.92222" y="0.93333" width="0.01151" height="0.01151" fill="#ee8251"/><rect x="0.92222" y="0.94444" width="0.01151" height="0.01151" fill="#ef8c54"/><rect x="0.92222" y="0.95556" width="0.01151" height="0.01151" fill="#f19757"/><rect x="0.92222" y="0.96667" width="0.01151" height="0.01151" fill="#f29e59"/><rect x="0.92222" y="0.97778" width="0.01151" height="0.01151" fill="#f2a55b"/><rect x="0.92222" y="0.98889" width="0.01151" height="0.01151" fill="#f3ab5d"/><rect x="0.93333" y="0.93333" width="0.01151" height="0.01151" fill="#ed784d"/><rect x="0.93333" y="0.94444" width="0.01151" height="0.01151" fill="#ee8251"/><rect x="0.93333" y="0.95556" width="0.01151" height="0.01151" fill="#ef8c54"/><rect x="0.93333" y="0.96667" width="0.01151" height="0.01151" fill="#f19757"/><rect x="0.93333" y="0.97778" width="0.01151" height="0.01151" fill="#f29e59"/><rect x="0.93333" y="0.98889" width="0.01151" height="0.01151" fill="#f2a55b"/><rect x="0.94444" y="0.94444" width="0.01151" height="0.01151" fill="#ed784d"/><rect x="0.94444" y="0.95556" width="0.01151" height="0.01151" fill="#ee8251"/><rect x="0.94444" y="0.96667" width="0.01151" height="0.01151" fill="#ef8c54"/><rect x="0.94444" y="0.97778" width="0.01151" height="0.01151" fill="#f19757"/><rect x="0.94444" y="0.98889" width="0.01151" height="0.01151" fill="#f29e59"/><rect x="0.95556" y="0.95556" width="0.01151" height="0.01151" fill="#ed784d"/><rect x="0.95556" y="0.96667" width="0.01151" height="0.01151" fill="#ee8251"/><rect x="0.95556" y="0.97778" width="0.01151" height="0.01151" fill="#ef8c54"/><rect x="0.95556" y="0.98889" width="0.01151" height="0.01151" fill="#f19757"/><rect x="0.96667" y="0.96667" width="0.01151" height="0.01151" fill="#ed784d"/><rect x="0.96667" y="0.97778" width="0.01151" height="0.01151" fill="#ee8251"/><rect x="0.96667" y="0.98889" width="0.01151" height="0.01151" fill="#ef8c54"/><rect x="0.97778" y="0.97778" width="0.01151" height="0.01151" fill="#ed784d"/><rect x="0.97778" y="0.98889" width="0.01151" height="0.01151" fill="#ee8251"/><rect x="0.98889" y="0.98889" width="0.01151" height="0.01151" fill="#ed784d"/></g><line x1="315.3" y1="346" x2="400.2" y2="430.8" stroke="#fff" stroke-width="0.85" stroke-opacity="0.70"/><line x1="459.1" y1="346" x2="472.1" y2="358.9" stroke="#fff" stroke-width="0.84" stroke-opacity="0.76"/><line x1="48.1" y1="346" x2="266.5" y2="564.5" stroke="#fff" stroke-width="0.68" stroke-opacity="0.77"/><line x1="327.0" y1="346" x2="406.0" y2="425.0" stroke="#fff" stroke-width="0.94" stroke-opacity="0.36"/><line x1="246.1" y1="346" x2="365.5" y2="465.5" stroke="#fff" stroke-width="0.55" stroke-opacity="0.57"/><line x1="293.3" y1="346" x2="389.1" y2="441.9" stroke="#fff" stroke-width="0.41" stroke-opacity="0.41"/><line x1="160.8" y1="346" x2="322.9" y2="508.1" stroke="#fff" stroke-width="0.95" stroke-opacity="0.68"/><line x1="106.8" y1="346" x2="295.9" y2="535.1" stroke="#fff" stroke-width="0.88" stroke-opacity="0.37"/><line x1="312.9" y1="346" x2="398.9" y2="432.1" stroke="#fff" stroke-width="0.48" stroke-opacity="0.30"/><line x1="427.1" y1="346" x2="456.1" y2="374.9" stroke="#fff" stroke-width="0.53" stroke-opacity="0.41"/><line x1="477.1" y1="346" x2="481.0" y2="350.0" stroke="#fff" stroke-width="0.92" stroke-opacity="0.44"/><line x1="467.7" y1="346" x2="476.3" y2="354.7" stroke="#fff" stroke-width="0.72" stroke-opacity="0.64"/><line x1="127.2" y1="346" x2="306.1" y2="524.9" stroke="#fff" stroke-width="0.96" stroke-opacity="0.65"/><line x1="470.0" y1="346" x2="477.5" y2="353.5" stroke="#fff" stroke-width="0.94" stroke-opacity="0.45"/><line x1="197.5" y1="346" x2="341.3" y2="489.7" stroke="#fff" stroke-width="0.50" stroke-opacity="0.37"/><line x1="64.3" y1="346" x2="274.7" y2="556.3" stroke="#fff" stroke-width="0.58" stroke-opacity="0.60"/><line x1="36.5" y1="346" x2="260.8" y2="570.2" stroke="#fff" stroke-width="0.81" stroke-opacity="0.47"/><line x1="174.5" y1="346" x2="329.7" y2="501.3" stroke="#fff" stroke-width="0.89" stroke-opacity="0.54"/><line x1="177.1" y1="346" x2="331.1" y2="499.9" stroke="#fff" stroke-width="0.69" stroke-opacity="0.65"/><line x1="60.7" y1="346" x2="272.8" y2="558.2" stroke="#fff" stroke-width="0.99" stroke-opacity="0.31"/><line x1="372.4" y1="346" x2="428.7" y2="402.3" stroke="#fff" stroke-width="0.91" stroke-opacity="0.31"/><line x1="389.5" y1="346" x2="437.2" y2="393.8" stroke="#fff" stroke-width="0.62" stroke-opacity="0.59"/><line x1="39.1" y1="346" x2="262.0" y2="569.0" stroke="#fff" stroke-width="0.43" stroke-opacity="0.39"/><line x1="464.8" y1="346" x2="474.9" y2="356.1" stroke="#fff" stroke-width="0.52" stroke-opacity="0.68"/><line x1="453.3" y1="346" x2="469.2" y2="361.8" stroke="#fff" stroke-width="0.97" stroke-opacity="0.47"/><line x1="194.7" y1="346" x2="339.8" y2="491.2" stroke="#fff" stroke-width="0.71" stroke-opacity="0.69"/><line x1="83.6" y1="346" x2="284.3" y2="546.7" stroke="#fff" stroke-width="0.85" stroke-opacity="0.70"/><line x1="421.9" y1="346" x2="453.4" y2="377.6" stroke="#fff" stroke-width="0.42" stroke-opacity="0.77"/><line x1="76.0" y1="346" x2="280.5" y2="550.5" stroke="#fff" stroke-width="0.60" stroke-opacity="0.61"/><line x1="448.1" y1="346" x2="466.6" y2="364.4" stroke="#fff" stroke-width="0.60" stroke-opacity="0.76"/><line x1="280.3" y1="346" x2="382.7" y2="448.3" stroke="#fff" stroke-width="0.59" stroke-opacity="0.46"/><line x1="114.9" y1="346" x2="299.9" y2="531.1" stroke="#fff" stroke-width="0.45" stroke-opacity="0.37"/><line x1="345.1" y1="346" x2="415.1" y2="415.9" stroke="#fff" stroke-width="1.00" stroke-opacity="0.38"/><line x1="56.8" y1="346" x2="270.9" y2="560.1" stroke="#fff" stroke-width="0.99" stroke-opacity="0.57"/><line x1="217.6" y1="346" x2="351.3" y2="479.7" stroke="#fff" stroke-width="0.54" stroke-opacity="0.60"/><line x1="406.8" y1="346" x2="445.9" y2="385.1" stroke="#fff" stroke-width="0.67" stroke-opacity="0.51"/><line x1="60.1" y1="346" x2="272.5" y2="558.5" stroke="#fff" stroke-width="0.95" stroke-opacity="0.32"/><line x1="257.1" y1="346" x2="371.1" y2="459.9" stroke="#fff" stroke-width="0.90" stroke-opacity="0.37"/><line x1="364.2" y1="346" x2="424.6" y2="406.4" stroke="#fff" stroke-width="0.97" stroke-opacity="0.62"/><line x1="389.6" y1="346" x2="437.3" y2="393.7" stroke="#fff" stroke-width="0.46" stroke-opacity="0.52"/><line x1="102.2" y1="346" x2="293.6" y2="537.4" stroke="#fff" stroke-width="0.91" stroke-opacity="0.45"/><line x1="238.9" y1="346" x2="362.0" y2="469.0" stroke="#fff" stroke-width="1.00" stroke-opacity="0.73"/><line x1="474.2" y1="346" x2="479.6" y2="351.4" stroke="#fff" stroke-width="0.67" stroke-opacity="0.54"/><line x1="363.3" y1="346" x2="424.1" y2="406.9" stroke="#fff" stroke-width="0.69" stroke-opacity="0.45"/><line x1="216.7" y1="346" x2="350.9" y2="480.1" stroke="#fff" stroke-width="0.49" stroke-opacity="0.49"/><line x1="479.8" y1="346" x2="482.4" y2="348.6" stroke="#fff" stroke-width="0.98" stroke-opacity="0.61"/><line x1="259.7" y1="346" x2="372.3" y2="458.7" stroke="#fff" stroke-width="0.60" stroke-opacity="0.34"/><line x1="157.5" y1="346" x2="321.3" y2="509.7" stroke="#fff" stroke-width="0.87" stroke-opacity="0.73"/><line x1="197.6" y1="346" x2="341.3" y2="489.7" stroke="#fff" stroke-width="0.87" stroke-opacity="0.69"/><line x1="347.6" y1="346" x2="416.3" y2="414.7" stroke="#fff" stroke-width="0.80" stroke-opacity="0.68"/><line x1="198.5" y1="346" x2="341.8" y2="489.2" stroke="#fff" stroke-width="0.82" stroke-opacity="0.44"/><line x1="253.6" y1="346" x2="369.3" y2="461.7" stroke="#fff" stroke-width="0.86" stroke-opacity="0.65"/><line x1="167.2" y1="346" x2="326.1" y2="504.9" stroke="#fff" stroke-width="0.97" stroke-opacity="0.62"/><line x1="296.3" y1="346" x2="390.6" y2="440.4" stroke="#fff" stroke-width="0.41" stroke-opacity="0.57"/><line x1="147.8" y1="346" x2="316.4" y2="514.6" stroke="#fff" stroke-width="0.80" stroke-opacity="0.53"/><line x1="402.5" y1="346" x2="443.8" y2="387.2" stroke="#fff" stroke-width="0.79" stroke-opacity="0.70"/><line x1="191.5" y1="346" x2="338.3" y2="492.7" stroke="#fff" stroke-width="0.79" stroke-opacity="0.67"/><line x1="407.7" y1="346" x2="446.3" y2="384.7" stroke="#fff" stroke-width="0.61" stroke-opacity="0.72"/><line x1="426.5" y1="346" x2="455.7" y2="375.3" stroke="#fff" stroke-width="0.81" stroke-opacity="0.79"/><line x1="465.4" y1="346" x2="475.2" y2="355.8" stroke="#fff" stroke-width="0.71" stroke-opacity="0.56"/><line x1="109.8" y1="346" x2="297.4" y2="533.6" stroke="#fff" stroke-width="0.90" stroke-opacity="0.77"/><line x1="249.8" y1="346" x2="367.4" y2="463.6" stroke="#fff" stroke-width="0.81" stroke-opacity="0.66"/><line x1="363.7" y1="346" x2="424.3" y2="406.7" stroke="#fff" stroke-width="0.50" stroke-opacity="0.69"/><line x1="296.4" y1="346" x2="390.7" y2="440.3" stroke="#fff" stroke-width="0.80" stroke-opacity="0.51"/><line x1="315.7" y1="346" x2="400.3" y2="430.7" stroke="#fff" stroke-width="0.86" stroke-opacity="0.62"/><line x1="359.2" y1="346" x2="422.1" y2="408.9" stroke="#fff" stroke-width="0.42" stroke-opacity="0.38"/><line x1="233.5" y1="346" x2="359.2" y2="471.8" stroke="#fff" stroke-width="0.79" stroke-opacity="0.41"/><line x1="343.7" y1="346" x2="414.3" y2="416.7" stroke="#fff" stroke-width="0.78" stroke-opacity="0.32"/><line x1="247.2" y1="346" x2="366.1" y2="464.9" stroke="#fff" stroke-width="0.54" stroke-opacity="0.33"/><line x1="95.1" y1="346" x2="290.0" y2="541.0" stroke="#fff" stroke-width="0.59" stroke-opacity="0.39"/><line x1="122.0" y1="346" x2="303.5" y2="527.5" stroke="#fff" stroke-width="0.42" stroke-opacity="0.53"/><line x1="206.1" y1="346" x2="345.6" y2="485.4" stroke="#fff" stroke-width="0.77" stroke-opacity="0.60"/><line x1="142.0" y1="346" x2="313.5" y2="517.5" stroke="#fff" stroke-width="0.94" stroke-opacity="0.30"/><line x1="217.4" y1="346" x2="351.2" y2="479.8" stroke="#fff" stroke-width="0.57" stroke-opacity="0.51"/><line x1="86.8" y1="346" x2="285.9" y2="545.1" stroke="#fff" stroke-width="0.90" stroke-opacity="0.49"/><line x1="51.2" y1="346" x2="268.1" y2="562.9" stroke="#fff" stroke-width="0.77" stroke-opacity="0.35"/><line x1="280.3" y1="346" x2="382.7" y2="448.3" stroke="#fff" stroke-width="0.60" stroke-opacity="0.59"/><line x1="466.2" y1="346" x2="475.6" y2="355.4" stroke="#fff" stroke-width="0.89" stroke-opacity="0.51"/><line x1="400.8" y1="346" x2="442.9" y2="388.1" stroke="#fff" stroke-width="0.79" stroke-opacity="0.48"/><line x1="99.0" y1="346" x2="292.0" y2="539.0" stroke="#fff" stroke-width="0.76" stroke-opacity="0.58"/><line x1="465.7" y1="346" x2="475.4" y2="355.6" stroke="#fff" stroke-width="0.98" stroke-opacity="0.60"/><line x1="193.0" y1="346" x2="339.0" y2="492.0" stroke="#fff" stroke-width="0.94" stroke-opacity="0.30"/><line x1="83.6" y1="346" x2="284.3" y2="546.7" stroke="#fff" stroke-width="0.74" stroke-opacity="0.61"/><line x1="98.3" y1="346" x2="291.7" y2="539.3" stroke="#fff" stroke-width="0.78" stroke-opacity="0.75"/><line x1="204.1" y1="346" x2="344.6" y2="486.4" stroke="#fff" stroke-width="0.66" stroke-opacity="0.41"/><line x1="166.2" y1="346" x2="325.6" y2="505.4" stroke="#fff" stroke-width="0.98" stroke-opacity="0.49"/><line x1="467.5" y1="346" x2="476.3" y2="354.7" stroke="#fff" stroke-width="0.95" stroke-opacity="0.60"/><line x1="151.9" y1="346" x2="318.5" y2="512.5" stroke="#fff" stroke-width="0.99" stroke-opacity="0.55"/><line x1="222.0" y1="346" x2="353.5" y2="477.5" stroke="#fff" stroke-width="0.59" stroke-opacity="0.79"/><line x1="256.3" y1="346" x2="370.6" y2="460.4" stroke="#fff" stroke-width="0.57" stroke-opacity="0.54"/><line x1="89.8" y1="346" x2="287.4" y2="543.6" stroke="#fff" stroke-width="0.77" stroke-opacity="0.52"/><line x1="166.9" y1="346" x2="325.9" y2="505.1" stroke="#fff" stroke-width="0.87" stroke-opacity="0.71"/><line x1="40.9" y1="346" x2="263.0" y2="568.0" stroke="#fff" stroke-width="0.72" stroke-opacity="0.44"/><line x1="455.9" y1="346" x2="470.4" y2="360.6" stroke="#fff" stroke-width="0.87" stroke-opacity="0.42"/><line x1="155.5" y1="346" x2="320.2" y2="510.8" stroke="#fff" stroke-width="0.49" stroke-opacity="0.79"/><line x1="166.9" y1="346" x2="326.0" y2="505.0" stroke="#fff" stroke-width="0.76" stroke-opacity="0.54"/><line x1="325.2" y1="346" x2="405.1" y2="425.9" stroke="#fff" stroke-width="0.76" stroke-opacity="0.67"/><line x1="88.2" y1="346" x2="286.6" y2="544.4" stroke="#fff" stroke-width="0.86" stroke-opacity="0.45"/><line x1="275.1" y1="346" x2="380.0" y2="451.0" stroke="#fff" stroke-width="0.60" stroke-opacity="0.45"/><line x1="273.4" y1="346" x2="379.2" y2="451.8" stroke="#fff" stroke-width="0.68" stroke-opacity="0.48"/><line x1="370.3" y1="346" x2="427.6" y2="403.4" stroke="#fff" stroke-width="0.75" stroke-opacity="0.32"/><line x1="148.6" y1="346" x2="316.8" y2="514.2" stroke="#fff" stroke-width="0.67" stroke-opacity="0.76"/><line x1="434.6" y1="346" x2="459.8" y2="371.2" stroke="#fff" stroke-width="0.73" stroke-opacity="0.31"/><line x1="385.3" y1="346" x2="435.1" y2="395.9" stroke="#fff" stroke-width="0.66" stroke-opacity="0.59"/><line x1="353.7" y1="346" x2="419.3" y2="411.7" stroke="#fff" stroke-width="0.78" stroke-opacity="0.54"/><line x1="445.3" y1="346" x2="465.1" y2="365.9" stroke="#fff" stroke-width="0.63" stroke-opacity="0.50"/><line x1="418.4" y1="346" x2="451.7" y2="379.3" stroke="#fff" stroke-width="0.52" stroke-opacity="0.45"/><line x1="408.5" y1="346" x2="446.8" y2="384.2" stroke="#fff" stroke-width="0.44" stroke-opacity="0.72"/><line x1="347.6" y1="346" x2="416.3" y2="414.7" stroke="#fff" stroke-width="0.66" stroke-opacity="0.44"/><line x1="386.3" y1="346" x2="435.7" y2="395.3" stroke="#fff" stroke-width="0.95" stroke-opacity="0.37"/><line x1="250.3" y1="346" x2="367.6" y2="463.4" stroke="#fff" stroke-width="0.73" stroke-opacity="0.55"/><line x1="183.8" y1="346" x2="334.4" y2="496.6" stroke="#fff" stroke-width="0.49" stroke-opacity="0.59"/><line x1="400.3" y1="346" x2="442.7" y2="388.3" stroke="#fff" stroke-width="0.44" stroke-opacity="0.42"/><line x1="403.8" y1="346" x2="444.4" y2="386.6" stroke="#fff" stroke-width="0.88" stroke-opacity="0.63"/><line x1="46.5" y1="346" x2="265.7" y2="565.3" stroke="#fff" stroke-width="0.83" stroke-opacity="0.79"/><line x1="484.3" y1="346" x2="484.6" y2="346.4" stroke="#fff" stroke-width="0.82" stroke-opacity="0.32"/><line x1="413.9" y1="346" x2="449.5" y2="381.5" stroke="#fff" stroke-width="0.53" stroke-opacity="0.62"/><line x1="463.5" y1="346" x2="474.3" y2="356.7" stroke="#fff" stroke-width="0.83" stroke-opacity="0.37"/><line x1="166.6" y1="346" x2="325.8" y2="505.2" stroke="#fff" stroke-width="0.95" stroke-opacity="0.37"/><line x1="309.8" y1="346" x2="397.4" y2="433.6" stroke="#fff" stroke-width="0.65" stroke-opacity="0.38"/><line x1="315.1" y1="346" x2="400.0" y2="431.0" stroke="#fff" stroke-width="0.43" stroke-opacity="0.35"/><line x1="205.6" y1="346" x2="345.3" y2="485.7" stroke="#fff" stroke-width="0.44" stroke-opacity="0.33"/><line x1="293.9" y1="346" x2="389.4" y2="441.6" stroke="#fff" stroke-width="0.85" stroke-opacity="0.74"/><line x1="95.4" y1="346" x2="290.2" y2="540.8" stroke="#fff" stroke-width="0.66" stroke-opacity="0.46"/><line x1="305.1" y1="346" x2="395.0" y2="436.0" stroke="#fff" stroke-width="0.69" stroke-opacity="0.77"/><line x1="203.4" y1="346" x2="344.2" y2="486.8" stroke="#fff" stroke-width="0.43" stroke-opacity="0.65"/><line x1="103.0" y1="346" x2="294.0" y2="537.0" stroke="#fff" stroke-width="0.78" stroke-opacity="0.55"/><line x1="444.7" y1="346" x2="464.8" y2="366.2" stroke="#fff" stroke-width="0.73" stroke-opacity="0.61"/><line x1="153.5" y1="346" x2="319.2" y2="511.8" stroke="#fff" stroke-width="0.73" stroke-opacity="0.43"/><line x1="372.8" y1="346" x2="428.9" y2="402.1" stroke="#fff" stroke-width="0.71" stroke-opacity="0.37"/><line x1="140.5" y1="346" x2="312.7" y2="518.3" stroke="#fff" stroke-width="0.62" stroke-opacity="0.67"/><line x1="115.7" y1="346" x2="300.3" y2="530.7" stroke="#fff" stroke-width="0.83" stroke-opacity="0.63"/><line x1="73.4" y1="346" x2="279.2" y2="551.8" stroke="#fff" stroke-width="0.80" stroke-opacity="0.35"/><line x1="91.2" y1="346" x2="288.1" y2="542.9" stroke="#fff" stroke-width="0.76" stroke-opacity="0.42"/><line x1="429.6" y1="346" x2="457.3" y2="373.7" stroke="#fff" stroke-width="0.69" stroke-opacity="0.46"/><line x1="393.4" y1="346" x2="439.2" y2="391.8" stroke="#fff" stroke-width="0.42" stroke-opacity="0.66"/><line x1="59.1" y1="346" x2="272.1" y2="558.9" stroke="#fff" stroke-width="0.49" stroke-opacity="0.78"/><line x1="341.5" y1="346" x2="413.3" y2="417.7" stroke="#fff" stroke-width="0.53" stroke-opacity="0.36"/><line x1="472.7" y1="346" x2="478.9" y2="352.1" stroke="#fff" stroke-width="0.80" stroke-opacity="0.71"/><line x1="97.9" y1="346" x2="291.4" y2="539.6" stroke="#fff" stroke-width="0.77" stroke-opacity="0.48"/><line x1="140.8" y1="346" x2="312.9" y2="518.1" stroke="#fff" stroke-width="0.60" stroke-opacity="0.61"/><line x1="191.9" y1="346" x2="338.5" y2="492.5" stroke="#fff" stroke-width="0.63" stroke-opacity="0.37"/><line x1="409.0" y1="346" x2="447.0" y2="384.0" stroke="#fff" stroke-width="0.79" stroke-opacity="0.70"/><line x1="230.0" y1="346" x2="357.5" y2="473.5" stroke="#fff" stroke-width="0.91" stroke-opacity="0.56"/><line x1="301.7" y1="346" x2="393.3" y2="437.7" stroke="#fff" stroke-width="0.74" stroke-opacity="0.67"/><line x1="213.0" y1="346" x2="349.0" y2="482.0" stroke="#fff" stroke-width="0.46" stroke-opacity="0.32"/><line x1="126.1" y1="346" x2="305.5" y2="525.5" stroke="#fff" stroke-width="0.42" stroke-opacity="0.74"/><line x1="251.4" y1="346" x2="368.2" y2="462.8" stroke="#fff" stroke-width="0.86" stroke-opacity="0.30"/><line x1="246.6" y1="346" x2="365.8" y2="465.2" stroke="#fff" stroke-width="0.93" stroke-opacity="0.61"/><line x1="227.9" y1="346" x2="356.4" y2="474.6" stroke="#fff" stroke-width="0.68" stroke-opacity="0.35"/><line x1="104.6" y1="346" x2="294.8" y2="536.2" stroke="#fff" stroke-width="0.50" stroke-opacity="0.49"/><line x1="208.5" y1="346" x2="346.8" y2="484.2" stroke="#fff" stroke-width="0.93" stroke-opacity="0.38"/><line x1="149.3" y1="346" x2="317.2" y2="513.8" stroke="#fff" stroke-width="0.57" stroke-opacity="0.38"/><line x1="164.2" y1="346" x2="324.6" y2="506.4" stroke="#fff" stroke-width="0.54" stroke-opacity="0.54"/><line x1="49.4" y1="346" x2="267.2" y2="563.8" stroke="#fff" stroke-width="0.95" stroke-opacity="0.48"/><line x1="457.1" y1="346" x2="471.0" y2="360.0" stroke="#fff" stroke-width="0.81" stroke-opacity="0.64"/><line x1="247.3" y1="346" x2="366.1" y2="464.9" stroke="#fff" stroke-width="0.97" stroke-opacity="0.36"/><line x1="335.9" y1="346" x2="410.4" y2="420.6" stroke="#fff" stroke-width="0.57" stroke-opacity="0.64"/><line x1="363.2" y1="346" x2="424.1" y2="406.9" stroke="#fff" stroke-width="0.50" stroke-opacity="0.40"/><line x1="46.2" y1="346" x2="265.6" y2="565.4" stroke="#fff" stroke-width="0.54" stroke-opacity="0.34"/><line x1="215.5" y1="346" x2="350.2" y2="480.8" stroke="#fff" stroke-width="0.98" stroke-opacity="0.48"/><line x1="175.3" y1="346" x2="330.2" y2="500.8" stroke="#fff" stroke-width="0.68" stroke-opacity="0.44"/><line x1="364.6" y1="346" x2="424.8" y2="406.2" stroke="#fff" stroke-width="0.83" stroke-opacity="0.38"/><line x1="143.2" y1="346" x2="314.1" y2="516.9" stroke="#fff" stroke-width="0.80" stroke-opacity="0.77"/><line x1="325.6" y1="346" x2="405.3" y2="425.7" stroke="#fff" stroke-width="0.66" stroke-opacity="0.79"/><line x1="37.8" y1="346" x2="261.4" y2="569.6" stroke="#fff" stroke-width="0.44" stroke-opacity="0.69"/><line x1="219.6" y1="346" x2="352.3" y2="478.7" stroke="#fff" stroke-width="0.43" stroke-opacity="0.57"/><line x1="480.3" y1="346" x2="482.7" y2="348.3" stroke="#fff" stroke-width="0.71" stroke-opacity="0.48"/><line x1="77.2" y1="346" x2="281.1" y2="549.9" stroke="#fff" stroke-width="0.44" stroke-opacity="0.75"/><line x1="256.0" y1="346" x2="370.5" y2="460.5" stroke="#fff" stroke-width="0.96" stroke-opacity="0.33"/><line x1="144.6" y1="346" x2="194.8" y2="396.2" stroke="#f6d838" stroke-width="0.54" stroke-opacity="0.17"/><line x1="149.9" y1="346" x2="198.3" y2="394.3" stroke="#f6d838" stroke-width="0.79" stroke-opacity="0.16"/><line x1="51.9" y1="346" x2="188.7" y2="482.7" stroke="#f6d838" stroke-width="1.18" stroke-opacity="0.13"/><line x1="216.1" y1="346" x2="281.3" y2="411.3" stroke="#f6d838" stroke-width="0.87" stroke-opacity="0.12"/><line x1="83.6" y1="346" x2="223.8" y2="486.2" stroke="#f6d838" stroke-width="0.88" stroke-opacity="0.27"/><line x1="420.5" y1="346" x2="441.6" y2="367.1" stroke="#f6d838" stroke-width="0.65" stroke-opacity="0.10"/><line x1="253.9" y1="346" x2="337.0" y2="429.0" stroke="#f6d838" stroke-width="0.90" stroke-opacity="0.17"/><line x1="361.5" y1="346" x2="397.8" y2="382.2" stroke="#f6d838" stroke-width="1.14" stroke-opacity="0.16"/><line x1="406.9" y1="346" x2="425.8" y2="364.9" stroke="#f6d838" stroke-width="0.66" stroke-opacity="0.12"/><line x1="74.4" y1="346" x2="173.9" y2="445.5" stroke="#f6d838" stroke-width="1.04" stroke-opacity="0.25"/><line x1="93.4" y1="346" x2="154.7" y2="407.3" stroke="#f6d838" stroke-width="0.56" stroke-opacity="0.14"/><line x1="227.9" y1="346" x2="266.0" y2="384.1" stroke="#f6d838" stroke-width="0.90" stroke-opacity="0.14"/><line x1="350.3" y1="346" x2="381.6" y2="377.3" stroke="#f6d838" stroke-width="0.53" stroke-opacity="0.14"/><line x1="203.2" y1="346" x2="271.6" y2="414.4" stroke="#f6d838" stroke-width="0.57" stroke-opacity="0.18"/><line x1="373.5" y1="346" x2="414.8" y2="387.3" stroke="#f6d838" stroke-width="0.89" stroke-opacity="0.26"/><line x1="376.9" y1="346" x2="423.5" y2="392.6" stroke="#f6d838" stroke-width="0.90" stroke-opacity="0.18"/><line x1="330.0" y1="346" x2="390.1" y2="406.1" stroke="#f6d838" stroke-width="1.17" stroke-opacity="0.23"/><line x1="155.5" y1="346" x2="212.8" y2="403.3" stroke="#f6d838" stroke-width="1.07" stroke-opacity="0.17"/><line x1="64.7" y1="346" x2="223.7" y2="505.1" stroke="#f6d838" stroke-width="0.62" stroke-opacity="0.15"/><line x1="163.5" y1="346" x2="270.9" y2="453.4" stroke="#f6d838" stroke-width="0.54" stroke-opacity="0.24"/><line x1="47.4" y1="346" x2="160.7" y2="459.3" stroke="#f6d838" stroke-width="0.54" stroke-opacity="0.12"/><line x1="421.9" y1="346" x2="435.3" y2="359.4" stroke="#f6d838" stroke-width="1.16" stroke-opacity="0.21"/><line x1="228.0" y1="346" x2="261.3" y2="379.3" stroke="#f6d838" stroke-width="0.75" stroke-opacity="0.16"/><line x1="298.0" y1="346" x2="328.0" y2="376.1" stroke="#f6d838" stroke-width="1.08" stroke-opacity="0.23"/><line x1="273.6" y1="346" x2="335.4" y2="407.8" stroke="#f6d838" stroke-width="0.62" stroke-opacity="0.23"/><line x1="457.3" y1="346" x2="464.1" y2="352.7" stroke="#f6d838" stroke-width="1.06" stroke-opacity="0.12"/><line x1="446.7" y1="346" x2="457.9" y2="357.1" stroke="#f6d838" stroke-width="0.82" stroke-opacity="0.18"/><line x1="380.4" y1="346" x2="431.5" y2="397.1" stroke="#f6d838" stroke-width="1.16" stroke-opacity="0.20"/><line x1="303.2" y1="346" x2="354.5" y2="397.3" stroke="#f6d838" stroke-width="0.57" stroke-opacity="0.25"/><line x1="58.5" y1="346" x2="204.1" y2="491.6" stroke="#f6d838" stroke-width="1.18" stroke-opacity="0.11"/><line x1="251.9" y1="346" x2="299.9" y2="394.0" stroke="#f6d838" stroke-width="1.12" stroke-opacity="0.17"/><line x1="159.7" y1="346" x2="243.9" y2="430.2" stroke="#f6d838" stroke-width="0.64" stroke-opacity="0.20"/><line x1="373.0" y1="346" x2="397.4" y2="370.4" stroke="#f6d838" stroke-width="0.67" stroke-opacity="0.16"/><line x1="477.1" y1="346" x2="479.9" y2="348.8" stroke="#f6d838" stroke-width="1.09" stroke-opacity="0.25"/><line x1="215.4" y1="346" x2="298.6" y2="429.3" stroke="#f6d838" stroke-width="0.60" stroke-opacity="0.25"/><line x1="52.0" y1="346" x2="222.7" y2="516.7" stroke="#f6d838" stroke-width="0.62" stroke-opacity="0.12"/><line x1="440.1" y1="346" x2="451.2" y2="357.1" stroke="#f6d838" stroke-width="0.64" stroke-opacity="0.24"/><line x1="342.3" y1="346" x2="403.0" y2="406.7" stroke="#f6d838" stroke-width="1.10" stroke-opacity="0.21"/><line x1="204.4" y1="346" x2="301.2" y2="442.8" stroke="#f6d838" stroke-width="0.51" stroke-opacity="0.19"/><line x1="118.1" y1="346" x2="167.7" y2="395.6" stroke="#f6d838" stroke-width="0.77" stroke-opacity="0.16"/><line x1="175.4" y1="346" x2="295.8" y2="466.3" stroke="#f6d838" stroke-width="0.77" stroke-opacity="0.19"/><line x1="214.6" y1="346" x2="342.1" y2="473.5" stroke="#f6d838" stroke-width="1.19" stroke-opacity="0.25"/><line x1="346.8" y1="346" x2="405.4" y2="404.7" stroke="#f6d838" stroke-width="0.97" stroke-opacity="0.20"/><line x1="198.3" y1="346" x2="290.3" y2="438.0" stroke="#f6d838" stroke-width="0.92" stroke-opacity="0.22"/><line x1="162.9" y1="346" x2="246.1" y2="429.3" stroke="#f6d838" stroke-width="0.55" stroke-opacity="0.12"/><line x1="296.2" y1="346" x2="341.5" y2="391.3" stroke="#f6d838" stroke-width="1.03" stroke-opacity="0.23"/><line x1="453.1" y1="346" x2="458.0" y2="350.8" stroke="#f6d838" stroke-width="0.69" stroke-opacity="0.23"/><line x1="374.0" y1="346" x2="425.2" y2="397.2" stroke="#f6d838" stroke-width="0.97" stroke-opacity="0.27"/><line x1="344.5" y1="346" x2="394.2" y2="395.8" stroke="#f6d838" stroke-width="1.09" stroke-opacity="0.23"/><line x1="128.9" y1="346" x2="205.4" y2="422.4" stroke="#f6d838" stroke-width="0.86" stroke-opacity="0.26"/><line x1="473.6" y1="346" x2="475.0" y2="347.4" stroke="#f6d838" stroke-width="0.88" stroke-opacity="0.17"/><line x1="210.6" y1="346" x2="337.4" y2="472.9" stroke="#f6d838" stroke-width="0.62" stroke-opacity="0.22"/><line x1="444.6" y1="346" x2="451.3" y2="352.7" stroke="#f6d838" stroke-width="0.93" stroke-opacity="0.17"/><line x1="345.0" y1="346" x2="382.1" y2="383.1" stroke="#f6d838" stroke-width="0.89" stroke-opacity="0.23"/><line x1="434.0" y1="346" x2="445.5" y2="357.5" stroke="#f6d838" stroke-width="0.65" stroke-opacity="0.16"/><line x1="315.0" y1="346" x2="376.6" y2="407.6" stroke="#f6d838" stroke-width="1.13" stroke-opacity="0.13"/><line x1="379.9" y1="346" x2="415.4" y2="381.4" stroke="#f6d838" stroke-width="0.66" stroke-opacity="0.11"/><line x1="408.6" y1="346" x2="430.1" y2="367.5" stroke="#f6d838" stroke-width="1.12" stroke-opacity="0.23"/><line x1="226.4" y1="346" x2="288.1" y2="407.6" stroke="#f6d838" stroke-width="0.87" stroke-opacity="0.26"/><line x1="161.3" y1="346" x2="224.5" y2="409.2" stroke="#f6d838" stroke-width="0.92" stroke-opacity="0.27"/><line x1="48.7" y1="346" x2="114.9" y2="412.2" stroke="#f0a030" stroke-width="0.56" stroke-opacity="0.26"/><line x1="230.2" y1="346" x2="277.5" y2="393.3" stroke="#e85a40" stroke-width="0.66" stroke-opacity="0.17"/><line x1="363.0" y1="346" x2="386.7" y2="369.7" stroke="#e8703c" stroke-width="0.53" stroke-opacity="0.25"/><line x1="178.3" y1="346" x2="243.1" y2="410.8" stroke="#f0a030" stroke-width="0.93" stroke-opacity="0.28"/><line x1="437.1" y1="346" x2="446.4" y2="355.4" stroke="#e8703c" stroke-width="0.81" stroke-opacity="0.31"/><line x1="122.1" y1="346" x2="146.8" y2="370.7" stroke="#e8703c" stroke-width="0.58" stroke-opacity="0.17"/><line x1="293.7" y1="346" x2="328.6" y2="380.9" stroke="#f0a030" stroke-width="0.72" stroke-opacity="0.21"/><line x1="355.9" y1="346" x2="376.0" y2="366.1" stroke="#e8703c" stroke-width="0.96" stroke-opacity="0.34"/><line x1="199.4" y1="346" x2="228.0" y2="374.6" stroke="#f0a030" stroke-width="0.91" stroke-opacity="0.19"/><line x1="241.4" y1="346" x2="254.9" y2="359.5" stroke="#f0cc30" stroke-width="0.84" stroke-opacity="0.30"/><line x1="458.6" y1="346" x2="464.5" y2="351.8" stroke="#e85a40" stroke-width="0.73" stroke-opacity="0.15"/><line x1="94.7" y1="346" x2="135.1" y2="386.3" stroke="#e8703c" stroke-width="0.50" stroke-opacity="0.23"/><line x1="255.8" y1="346" x2="265.6" y2="355.8" stroke="#f0cc30" stroke-width="0.97" stroke-opacity="0.29"/><line x1="484.6" y1="346" x2="484.6" y2="346.0" stroke="#f0a030" stroke-width="0.88" stroke-opacity="0.19"/><line x1="165.8" y1="346" x2="225.1" y2="405.4" stroke="#e8703c" stroke-width="0.75" stroke-opacity="0.29"/><line x1="168.2" y1="346" x2="211.3" y2="389.1" stroke="#e8703c" stroke-width="0.67" stroke-opacity="0.32"/><line x1="134.2" y1="346" x2="194.9" y2="406.8" stroke="#f0a030" stroke-width="0.99" stroke-opacity="0.20"/><line x1="157.0" y1="346" x2="229.8" y2="418.9" stroke="#f0cc30" stroke-width="0.55" stroke-opacity="0.25"/><line x1="420.0" y1="346" x2="424.1" y2="350.2" stroke="#e8703c" stroke-width="0.62" stroke-opacity="0.24"/><line x1="37.3" y1="346" x2="56.6" y2="365.3" stroke="#e85a40" stroke-width="0.88" stroke-opacity="0.22"/><line x1="288.0" y1="346" x2="298.8" y2="356.7" stroke="#f0a030" stroke-width="0.98" stroke-opacity="0.32"/><line x1="122.2" y1="346" x2="171.6" y2="395.4" stroke="#e85a40" stroke-width="0.90" stroke-opacity="0.15"/><line x1="304.3" y1="346" x2="312.2" y2="354.0" stroke="#f0a030" stroke-width="0.92" stroke-opacity="0.24"/><line x1="211.7" y1="346" x2="252.7" y2="386.9" stroke="#e8703c" stroke-width="0.89" stroke-opacity="0.24"/><line x1="132.0" y1="346" x2="199.2" y2="413.2" stroke="#f0cc30" stroke-width="0.71" stroke-opacity="0.29"/><line x1="446.9" y1="346" x2="453.8" y2="352.9" stroke="#e85a40" stroke-width="0.69" stroke-opacity="0.35"/><line x1="101.7" y1="346" x2="186.0" y2="430.3" stroke="#e85a40" stroke-width="0.89" stroke-opacity="0.23"/><line x1="132.5" y1="346" x2="177.3" y2="390.7" stroke="#e85a40" stroke-width="0.71" stroke-opacity="0.20"/><line x1="36.1" y1="346" x2="117.0" y2="426.9" stroke="#e8703c" stroke-width="0.82" stroke-opacity="0.30"/><line x1="68.3" y1="346" x2="153.2" y2="430.9" stroke="#f0a030" stroke-width="0.69" stroke-opacity="0.33"/><line x1="326.7" y1="346" x2="342.3" y2="361.6" stroke="#f0cc30" stroke-width="0.87" stroke-opacity="0.25"/><line x1="96.4" y1="346" x2="179.3" y2="429.0" stroke="#e8703c" stroke-width="0.62" stroke-opacity="0.33"/><line x1="41.5" y1="346" x2="70.0" y2="374.5" stroke="#e85a40" stroke-width="0.91" stroke-opacity="0.17"/><line x1="185.4" y1="346" x2="247.0" y2="407.7" stroke="#e8703c" stroke-width="0.61" stroke-opacity="0.21"/><line x1="162.6" y1="346" x2="193.6" y2="377.0" stroke="#f0cc30" stroke-width="0.55" stroke-opacity="0.23"/><line x1="281.4" y1="346" x2="325.9" y2="390.5" stroke="#f0a030" stroke-width="0.72" stroke-opacity="0.32"/><line x1="153.4" y1="346" x2="174.8" y2="367.5" stroke="#f0cc30" stroke-width="0.77" stroke-opacity="0.30"/><line x1="334.3" y1="346" x2="346.2" y2="357.9" stroke="#f0a030" stroke-width="0.53" stroke-opacity="0.15"/><line x1="261.9" y1="346" x2="273.1" y2="357.2" stroke="#f0a030" stroke-width="0.81" stroke-opacity="0.31"/><line x1="52.2" y1="346" x2="71.3" y2="365.0" stroke="#e85a40" stroke-width="0.69" stroke-opacity="0.22"/><line x1="232.8" y1="346" x2="285.2" y2="398.4" stroke="#e85a40" stroke-width="0.55" stroke-opacity="0.17"/><line x1="355.9" y1="346" x2="384.7" y2="374.8" stroke="#e85a40" stroke-width="0.97" stroke-opacity="0.34"/><line x1="416.0" y1="346" x2="427.0" y2="357.0" stroke="#e8703c" stroke-width="0.80" stroke-opacity="0.29"/><line x1="366.3" y1="346" x2="391.3" y2="371.1" stroke="#e85a40" stroke-width="0.76" stroke-opacity="0.23"/><line x1="402.8" y1="346" x2="413.1" y2="356.2" stroke="#e8703c" stroke-width="0.69" stroke-opacity="0.23"/><line x1="257.4" y1="346" x2="146.2" y2="457.2" stroke="#fff" stroke-width="0.74" stroke-opacity="0.40"/><line x1="239.3" y1="346" x2="137.1" y2="448.1" stroke="#fff" stroke-width="0.44" stroke-opacity="0.34"/><line x1="188.9" y1="346" x2="112.0" y2="423.0" stroke="#fff" stroke-width="0.49" stroke-opacity="0.78"/><line x1="153.5" y1="346" x2="94.2" y2="405.2" stroke="#fff" stroke-width="0.57" stroke-opacity="0.69"/><line x1="368.5" y1="346" x2="201.8" y2="512.8" stroke="#fff" stroke-width="0.56" stroke-opacity="0.71"/><line x1="316.6" y1="346" x2="175.8" y2="486.8" stroke="#fff" stroke-width="0.63" stroke-opacity="0.61"/><line x1="145.6" y1="346" x2="90.3" y2="401.3" stroke="#fff" stroke-width="0.56" stroke-opacity="0.74"/><line x1="232.4" y1="346" x2="133.7" y2="444.7" stroke="#fff" stroke-width="0.94" stroke-opacity="0.39"/><line x1="96.8" y1="346" x2="65.9" y2="376.9" stroke="#fff" stroke-width="0.43" stroke-opacity="0.67"/><line x1="287.5" y1="346" x2="161.3" y2="472.3" stroke="#fff" stroke-width="0.41" stroke-opacity="0.32"/><line x1="405.8" y1="346" x2="220.4" y2="531.4" stroke="#fff" stroke-width="0.70" stroke-opacity="0.74"/><line x1="52.9" y1="346" x2="43.9" y2="354.9" stroke="#fff" stroke-width="0.75" stroke-opacity="0.36"/><line x1="359.5" y1="346" x2="197.3" y2="508.3" stroke="#fff" stroke-width="0.77" stroke-opacity="0.61"/><line x1="134.7" y1="346" x2="84.8" y2="395.8" stroke="#fff" stroke-width="0.97" stroke-opacity="0.36"/><line x1="63.8" y1="346" x2="49.4" y2="360.4" stroke="#fff" stroke-width="0.81" stroke-opacity="0.35"/><line x1="65.1" y1="346" x2="50.0" y2="361.0" stroke="#fff" stroke-width="0.68" stroke-opacity="0.62"/><line x1="436.4" y1="346" x2="235.7" y2="546.7" stroke="#fff" stroke-width="0.83" stroke-opacity="0.33"/><line x1="324.4" y1="346" x2="179.7" y2="490.7" stroke="#fff" stroke-width="0.91" stroke-opacity="0.36"/><line x1="374.5" y1="346" x2="204.8" y2="515.8" stroke="#fff" stroke-width="0.56" stroke-opacity="0.45"/><line x1="35.7" y1="346" x2="35.3" y2="346.3" stroke="#fff" stroke-width="0.85" stroke-opacity="0.56"/><line x1="440.9" y1="346" x2="237.9" y2="548.9" stroke="#fff" stroke-width="0.68" stroke-opacity="0.38"/><line x1="132.4" y1="346" x2="83.7" y2="394.7" stroke="#fff" stroke-width="0.56" stroke-opacity="0.77"/><line x1="127.4" y1="346" x2="81.2" y2="392.2" stroke="#fff" stroke-width="0.45" stroke-opacity="0.48"/><line x1="70.6" y1="346" x2="52.8" y2="363.8" stroke="#fff" stroke-width="0.66" stroke-opacity="0.61"/><line x1="327.8" y1="346" x2="181.4" y2="492.4" stroke="#fff" stroke-width="0.50" stroke-opacity="0.37"/><line x1="256.0" y1="346" x2="145.5" y2="456.5" stroke="#fff" stroke-width="0.81" stroke-opacity="0.52"/><line x1="293.0" y1="346" x2="164.0" y2="475.0" stroke="#fff" stroke-width="0.95" stroke-opacity="0.37"/><line x1="155.5" y1="346" x2="95.3" y2="406.3" stroke="#fff" stroke-width="0.70" stroke-opacity="0.57"/><line x1="440.1" y1="346" x2="237.5" y2="548.5" stroke="#fff" stroke-width="0.73" stroke-opacity="0.63"/><line x1="223.8" y1="346" x2="129.4" y2="440.4" stroke="#fff" stroke-width="0.87" stroke-opacity="0.72"/><line x1="167.1" y1="346" x2="101.1" y2="412.1" stroke="#fff" stroke-width="0.46" stroke-opacity="0.43"/><line x1="195.9" y1="346" x2="115.5" y2="426.5" stroke="#fff" stroke-width="0.93" stroke-opacity="0.43"/><line x1="318.2" y1="346" x2="176.6" y2="487.6" stroke="#fff" stroke-width="0.78" stroke-opacity="0.78"/><line x1="87.4" y1="346" x2="61.2" y2="372.2" stroke="#fff" stroke-width="0.86" stroke-opacity="0.47"/><line x1="81.3" y1="346" x2="58.2" y2="369.2" stroke="#fff" stroke-width="0.78" stroke-opacity="0.72"/><line x1="297.1" y1="346" x2="166.1" y2="477.1" stroke="#fff" stroke-width="0.43" stroke-opacity="0.79"/><line x1="207.9" y1="346" x2="121.4" y2="432.4" stroke="#fff" stroke-width="0.78" stroke-opacity="0.66"/><line x1="152.3" y1="346" x2="93.7" y2="404.7" stroke="#fff" stroke-width="0.65" stroke-opacity="0.46"/><line x1="78.2" y1="346" x2="56.6" y2="367.6" stroke="#fff" stroke-width="0.44" stroke-opacity="0.66"/><line x1="219.7" y1="346" x2="127.4" y2="438.4" stroke="#fff" stroke-width="0.92" stroke-opacity="0.33"/><line x1="170.6" y1="346" x2="102.8" y2="413.8" stroke="#fff" stroke-width="0.51" stroke-opacity="0.77"/><line x1="390.7" y1="346" x2="212.9" y2="523.9" stroke="#fff" stroke-width="0.94" stroke-opacity="0.55"/><line x1="81.9" y1="346" x2="58.4" y2="369.4" stroke="#fff" stroke-width="0.65" stroke-opacity="0.41"/><line x1="47.1" y1="346" x2="41.0" y2="352.0" stroke="#fff" stroke-width="0.74" stroke-opacity="0.44"/><line x1="83.5" y1="346" x2="59.3" y2="370.3" stroke="#fff" stroke-width="0.71" stroke-opacity="0.77"/><line x1="460.7" y1="346" x2="247.8" y2="558.8" stroke="#fff" stroke-width="0.68" stroke-opacity="0.35"/><line x1="380.9" y1="346" x2="208.0" y2="519.0" stroke="#fff" stroke-width="0.47" stroke-opacity="0.57"/><line x1="72.7" y1="346" x2="53.8" y2="364.8" stroke="#fff" stroke-width="0.99" stroke-opacity="0.57"/><line x1="231.9" y1="346" x2="133.4" y2="444.4" stroke="#fff" stroke-width="0.56" stroke-opacity="0.58"/><line x1="472.8" y1="346" x2="253.9" y2="564.9" stroke="#fff" stroke-width="0.66" stroke-opacity="0.40"/><line x1="266.6" y1="346" x2="150.8" y2="461.8" stroke="#fff" stroke-width="0.95" stroke-opacity="0.49"/><line x1="320.2" y1="346" x2="177.6" y2="488.6" stroke="#fff" stroke-width="0.95" stroke-opacity="0.46"/><line x1="399.9" y1="346" x2="217.4" y2="528.4" stroke="#fff" stroke-width="0.72" stroke-opacity="0.37"/><line x1="59.1" y1="346" x2="47.1" y2="358.1" stroke="#fff" stroke-width="0.96" stroke-opacity="0.53"/><line x1="234.4" y1="346" x2="134.7" y2="445.7" stroke="#fff" stroke-width="0.95" stroke-opacity="0.59"/><line x1="260.1" y1="346" x2="147.5" y2="458.5" stroke="#fff" stroke-width="0.57" stroke-opacity="0.67"/><line x1="150.3" y1="346" x2="92.7" y2="403.7" stroke="#fff" stroke-width="0.68" stroke-opacity="0.68"/><line x1="307.2" y1="346" x2="171.1" y2="482.1" stroke="#fff" stroke-width="0.48" stroke-opacity="0.40"/><line x1="347.7" y1="346" x2="191.4" y2="502.4" stroke="#fff" stroke-width="0.84" stroke-opacity="0.35"/><line x1="483.9" y1="346" x2="259.4" y2="570.4" stroke="#fff" stroke-width="0.48" stroke-opacity="0.38"/><line x1="75.4" y1="346" x2="55.2" y2="366.2" stroke="#fff" stroke-width="0.67" stroke-opacity="0.61"/><line x1="420.8" y1="346" x2="227.9" y2="538.9" stroke="#fff" stroke-width="0.50" stroke-opacity="0.65"/><line x1="82.4" y1="346" x2="58.7" y2="369.7" stroke="#fff" stroke-width="0.75" stroke-opacity="0.43"/><line x1="195.3" y1="346" x2="115.2" y2="426.2" stroke="#fff" stroke-width="0.43" stroke-opacity="0.66"/><line x1="90.0" y1="346" x2="62.5" y2="373.5" stroke="#fff" stroke-width="0.86" stroke-opacity="0.47"/><line x1="301.3" y1="346" x2="168.1" y2="479.1" stroke="#fff" stroke-width="0.78" stroke-opacity="0.54"/><line x1="428.2" y1="346" x2="231.6" y2="542.6" stroke="#fff" stroke-width="0.95" stroke-opacity="0.44"/><line x1="185.2" y1="346" x2="110.1" y2="421.1" stroke="#fff" stroke-width="0.93" stroke-opacity="0.37"/><line x1="224.0" y1="346" x2="129.5" y2="440.5" stroke="#fff" stroke-width="0.65" stroke-opacity="0.79"/><line x1="92.7" y1="346" x2="63.9" y2="374.9" stroke="#fff" stroke-width="0.79" stroke-opacity="0.68"/><line x1="362.7" y1="346" x2="198.9" y2="509.9" stroke="#fff" stroke-width="0.40" stroke-opacity="0.77"/><line x1="175.6" y1="346" x2="105.3" y2="416.3" stroke="#fff" stroke-width="0.91" stroke-opacity="0.63"/><line x1="224.4" y1="346" x2="129.7" y2="440.7" stroke="#fff" stroke-width="0.90" stroke-opacity="0.64"/><line x1="187.9" y1="346" x2="111.5" y2="422.5" stroke="#fff" stroke-width="0.84" stroke-opacity="0.55"/><line x1="355.2" y1="346" x2="195.1" y2="506.1" stroke="#fff" stroke-width="0.77" stroke-opacity="0.70"/><line x1="106.7" y1="346" x2="70.8" y2="381.8" stroke="#fff" stroke-width="0.70" stroke-opacity="0.30"/><line x1="390.9" y1="346" x2="212.9" y2="523.9" stroke="#fff" stroke-width="0.86" stroke-opacity="0.72"/><line x1="54.4" y1="346" x2="44.7" y2="355.7" stroke="#fff" stroke-width="0.72" stroke-opacity="0.54"/><line x1="88.8" y1="346" x2="61.9" y2="372.9" stroke="#fff" stroke-width="0.52" stroke-opacity="0.79"/><line x1="418.7" y1="346" x2="226.8" y2="537.8" stroke="#fff" stroke-width="0.54" stroke-opacity="0.71"/><line x1="327.9" y1="346" x2="181.5" y2="492.5" stroke="#fff" stroke-width="0.63" stroke-opacity="0.62"/><line x1="138.1" y1="346" x2="86.5" y2="397.5" stroke="#fff" stroke-width="0.56" stroke-opacity="0.31"/><line x1="330.5" y1="346" x2="182.7" y2="493.7" stroke="#fff" stroke-width="0.75" stroke-opacity="0.67"/><line x1="261.7" y1="346" x2="148.4" y2="459.4" stroke="#fff" stroke-width="0.66" stroke-opacity="0.45"/><line x1="365.9" y1="346" x2="200.4" y2="511.4" stroke="#fff" stroke-width="0.62" stroke-opacity="0.60"/><line x1="375.9" y1="346" x2="205.5" y2="516.5" stroke="#fff" stroke-width="0.67" stroke-opacity="0.64"/><line x1="62.7" y1="346" x2="48.8" y2="359.8" stroke="#fff" stroke-width="0.56" stroke-opacity="0.72"/><line x1="101.4" y1="346" x2="68.2" y2="379.2" stroke="#fff" stroke-width="0.43" stroke-opacity="0.31"/><line x1="379.7" y1="346" x2="207.4" y2="518.4" stroke="#fff" stroke-width="0.46" stroke-opacity="0.53"/><line x1="232.3" y1="346" x2="133.6" y2="444.6" stroke="#fff" stroke-width="0.88" stroke-opacity="0.54"/><line x1="269.8" y1="346" x2="152.4" y2="463.4" stroke="#fff" stroke-width="0.41" stroke-opacity="0.70"/><line x1="380.3" y1="346" x2="207.7" y2="518.7" stroke="#fff" stroke-width="0.77" stroke-opacity="0.72"/><line x1="311.3" y1="346" x2="173.2" y2="484.2" stroke="#fff" stroke-width="0.83" stroke-opacity="0.73"/><line x1="312.8" y1="346" x2="173.9" y2="484.9" stroke="#fff" stroke-width="0.41" stroke-opacity="0.74"/><line x1="480.3" y1="346" x2="257.6" y2="568.6" stroke="#fff" stroke-width="0.52" stroke-opacity="0.33"/><line x1="188.0" y1="346" x2="111.5" y2="422.5" stroke="#fff" stroke-width="0.46" stroke-opacity="0.48"/><line x1="75.1" y1="346" x2="55.1" y2="366.1" stroke="#fff" stroke-width="0.53" stroke-opacity="0.30"/><line x1="227.9" y1="346" x2="131.5" y2="442.5" stroke="#fff" stroke-width="0.58" stroke-opacity="0.66"/><line x1="209.9" y1="346" x2="122.5" y2="433.5" stroke="#fff" stroke-width="0.50" stroke-opacity="0.78"/><line x1="437.5" y1="346" x2="236.3" y2="547.3" stroke="#fff" stroke-width="0.81" stroke-opacity="0.41"/><line x1="216.2" y1="346" x2="125.6" y2="436.6" stroke="#fff" stroke-width="0.67" stroke-opacity="0.50"/><line x1="46.8" y1="346" x2="40.9" y2="351.9" stroke="#fff" stroke-width="0.67" stroke-opacity="0.68"/><line x1="347.0" y1="346" x2="191.0" y2="502.0" stroke="#fff" stroke-width="0.92" stroke-opacity="0.64"/><line x1="378.2" y1="346" x2="206.6" y2="517.6" stroke="#fff" stroke-width="0.92" stroke-opacity="0.76"/><line x1="391.9" y1="346" x2="213.4" y2="524.4" stroke="#fff" stroke-width="0.65" stroke-opacity="0.63"/><line x1="331.2" y1="346" x2="183.1" y2="494.1" stroke="#fff" stroke-width="0.93" stroke-opacity="0.66"/><line x1="234.5" y1="346" x2="134.8" y2="445.8" stroke="#fff" stroke-width="0.51" stroke-opacity="0.46"/><line x1="147.7" y1="346" x2="91.3" y2="402.3" stroke="#fff" stroke-width="0.81" stroke-opacity="0.68"/><line x1="121.4" y1="346" x2="78.2" y2="389.2" stroke="#fff" stroke-width="0.72" stroke-opacity="0.72"/><line x1="199.5" y1="346" x2="117.3" y2="428.3" stroke="#fff" stroke-width="0.46" stroke-opacity="0.60"/><line x1="198.1" y1="346" x2="116.5" y2="427.5" stroke="#fff" stroke-width="0.49" stroke-opacity="0.44"/><line x1="38.1" y1="346" x2="36.5" y2="347.5" stroke="#fff" stroke-width="0.49" stroke-opacity="0.51"/><line x1="82.2" y1="346" x2="58.6" y2="369.6" stroke="#fff" stroke-width="0.40" stroke-opacity="0.57"/><line x1="466.0" y1="346" x2="250.5" y2="561.5" stroke="#fff" stroke-width="0.90" stroke-opacity="0.46"/><line x1="451.0" y1="346" x2="243.0" y2="554.0" stroke="#fff" stroke-width="0.45" stroke-opacity="0.38"/><line x1="38.1" y1="346" x2="36.5" y2="347.5" stroke="#fff" stroke-width="0.44" stroke-opacity="0.60"/><line x1="375.6" y1="346" x2="205.3" y2="516.3" stroke="#fff" stroke-width="0.69" stroke-opacity="0.70"/><line x1="238.1" y1="346" x2="136.5" y2="447.5" stroke="#fff" stroke-width="0.95" stroke-opacity="0.60"/><line x1="276.6" y1="346" x2="155.8" y2="466.8" stroke="#fff" stroke-width="0.50" stroke-opacity="0.51"/><line x1="233.1" y1="346" x2="134.1" y2="445.1" stroke="#fff" stroke-width="0.89" stroke-opacity="0.41"/><line x1="167.6" y1="346" x2="101.3" y2="412.3" stroke="#fff" stroke-width="0.89" stroke-opacity="0.34"/><line x1="276.6" y1="346" x2="155.8" y2="466.8" stroke="#fff" stroke-width="0.53" stroke-opacity="0.63"/><line x1="302.5" y1="346" x2="168.7" y2="479.7" stroke="#fff" stroke-width="0.46" stroke-opacity="0.67"/><line x1="218.3" y1="346" x2="126.6" y2="437.6" stroke="#fff" stroke-width="0.59" stroke-opacity="0.73"/><line x1="385.4" y1="346" x2="210.2" y2="521.2" stroke="#fff" stroke-width="0.59" stroke-opacity="0.64"/><line x1="90.6" y1="346" x2="62.8" y2="373.8" stroke="#fff" stroke-width="0.71" stroke-opacity="0.34"/><line x1="323.3" y1="346" x2="179.2" y2="490.2" stroke="#fff" stroke-width="0.95" stroke-opacity="0.62"/><line x1="53.3" y1="346" x2="44.2" y2="355.2" stroke="#fff" stroke-width="0.71" stroke-opacity="0.53"/><line x1="234.4" y1="346" x2="134.7" y2="445.7" stroke="#fff" stroke-width="0.49" stroke-opacity="0.44"/><line x1="237.3" y1="346" x2="136.1" y2="447.1" stroke="#fff" stroke-width="0.44" stroke-opacity="0.64"/><line x1="144.6" y1="346" x2="89.8" y2="400.8" stroke="#fff" stroke-width="0.57" stroke-opacity="0.35"/><line x1="171.2" y1="346" x2="103.1" y2="414.1" stroke="#fff" stroke-width="0.96" stroke-opacity="0.45"/><line x1="78.2" y1="346" x2="56.6" y2="367.6" stroke="#fff" stroke-width="0.61" stroke-opacity="0.77"/><line x1="74.6" y1="346" x2="54.8" y2="365.8" stroke="#fff" stroke-width="0.61" stroke-opacity="0.40"/><line x1="341.8" y1="346" x2="188.4" y2="499.4" stroke="#fff" stroke-width="0.68" stroke-opacity="0.35"/><line x1="423.0" y1="346" x2="229.0" y2="540.0" stroke="#fff" stroke-width="0.60" stroke-opacity="0.64"/><line x1="238.8" y1="346" x2="136.9" y2="447.9" stroke="#fff" stroke-width="0.92" stroke-opacity="0.33"/><line x1="137.6" y1="346" x2="86.3" y2="397.3" stroke="#fff" stroke-width="0.57" stroke-opacity="0.43"/><line x1="404.9" y1="346" x2="219.9" y2="530.9" stroke="#fff" stroke-width="0.70" stroke-opacity="0.47"/><line x1="263.1" y1="346" x2="149.0" y2="460.0" stroke="#fff" stroke-width="0.91" stroke-opacity="0.58"/><line x1="238.1" y1="346" x2="136.6" y2="447.6" stroke="#fff" stroke-width="0.79" stroke-opacity="0.61"/><line x1="217.5" y1="346" x2="126.2" y2="437.2" stroke="#fff" stroke-width="0.66" stroke-opacity="0.37"/><line x1="232.6" y1="346" x2="133.8" y2="444.8" stroke="#fff" stroke-width="0.93" stroke-opacity="0.45"/><line x1="199.3" y1="346" x2="117.2" y2="428.2" stroke="#fff" stroke-width="0.76" stroke-opacity="0.60"/><line x1="113.9" y1="346" x2="74.5" y2="385.5" stroke="#fff" stroke-width="0.67" stroke-opacity="0.67"/><line x1="53.6" y1="346" x2="44.3" y2="355.3" stroke="#fff" stroke-width="0.47" stroke-opacity="0.68"/><line x1="442.4" y1="346" x2="238.7" y2="549.7" stroke="#fff" stroke-width="0.44" stroke-opacity="0.34"/><line x1="317.0" y1="346" x2="176.0" y2="487.0" stroke="#fff" stroke-width="0.57" stroke-opacity="0.63"/><line x1="50.4" y1="346" x2="42.7" y2="353.7" stroke="#fff" stroke-width="0.67" stroke-opacity="0.38"/><line x1="184.5" y1="346" x2="109.7" y2="420.7" stroke="#fff" stroke-width="0.82" stroke-opacity="0.56"/><line x1="419.0" y1="346" x2="227.0" y2="538.0" stroke="#fff" stroke-width="0.91" stroke-opacity="0.61"/><line x1="416.4" y1="346" x2="225.7" y2="536.7" stroke="#fff" stroke-width="0.51" stroke-opacity="0.54"/><line x1="178.8" y1="346" x2="106.9" y2="417.9" stroke="#fff" stroke-width="0.77" stroke-opacity="0.36"/><line x1="433.4" y1="346" x2="234.2" y2="545.2" stroke="#fff" stroke-width="0.62" stroke-opacity="0.69"/><line x1="459.3" y1="346" x2="247.1" y2="558.1" stroke="#fff" stroke-width="0.96" stroke-opacity="0.50"/><line x1="420.6" y1="346" x2="227.8" y2="538.8" stroke="#fff" stroke-width="1.00" stroke-opacity="0.37"/><line x1="371.4" y1="346" x2="203.2" y2="514.2" stroke="#fff" stroke-width="0.84" stroke-opacity="0.53"/><line x1="160.1" y1="346" x2="97.5" y2="408.5" stroke="#fff" stroke-width="0.50" stroke-opacity="0.51"/><line x1="454.3" y1="346" x2="244.7" y2="555.7" stroke="#fff" stroke-width="0.64" stroke-opacity="0.43"/><line x1="313.7" y1="346" x2="174.4" y2="485.4" stroke="#fff" stroke-width="0.66" stroke-opacity="0.61"/><line x1="239.5" y1="346" x2="137.3" y2="448.3" stroke="#fff" stroke-width="0.57" stroke-opacity="0.32"/><line x1="403.3" y1="346" x2="219.1" y2="530.1" stroke="#fff" stroke-width="0.80" stroke-opacity="0.42"/><line x1="259.7" y1="346" x2="147.4" y2="458.4" stroke="#fff" stroke-width="0.75" stroke-opacity="0.55"/><line x1="440.4" y1="346" x2="237.7" y2="548.7" stroke="#fff" stroke-width="0.87" stroke-opacity="0.45"/><line x1="187.4" y1="346" x2="111.2" y2="422.2" stroke="#fff" stroke-width="0.77" stroke-opacity="0.38"/><line x1="455.4" y1="346" x2="245.2" y2="556.2" stroke="#fff" stroke-width="0.43" stroke-opacity="0.55"/><line x1="158.0" y1="346" x2="96.5" y2="407.5" stroke="#fff" stroke-width="0.72" stroke-opacity="0.32"/><line x1="135.9" y1="346" x2="85.5" y2="396.5" stroke="#fff" stroke-width="0.99" stroke-opacity="0.69"/><line x1="134.5" y1="346" x2="84.7" y2="395.7" stroke="#fff" stroke-width="0.67" stroke-opacity="0.32"/><line x1="89.9" y1="346" x2="62.5" y2="373.5" stroke="#fff" stroke-width="0.52" stroke-opacity="0.79"/><line x1="175.3" y1="346" x2="152.0" y2="369.3" stroke="#f6d838" stroke-width="0.67" stroke-opacity="0.11"/><line x1="482.9" y1="346" x2="286.5" y2="542.4" stroke="#f6d838" stroke-width="1.02" stroke-opacity="0.27"/><line x1="387.2" y1="346" x2="307.5" y2="425.7" stroke="#f6d838" stroke-width="0.68" stroke-opacity="0.13"/><line x1="64.4" y1="346" x2="55.3" y2="355.1" stroke="#f6d838" stroke-width="0.62" stroke-opacity="0.23"/><line x1="39.7" y1="346" x2="37.6" y2="348.1" stroke="#f6d838" stroke-width="0.71" stroke-opacity="0.25"/><line x1="363.3" y1="346" x2="253.6" y2="455.6" stroke="#f6d838" stroke-width="1.01" stroke-opacity="0.26"/><line x1="207.5" y1="346" x2="183.6" y2="369.9" stroke="#f6d838" stroke-width="0.90" stroke-opacity="0.15"/><line x1="152.0" y1="346" x2="133.8" y2="364.2" stroke="#f6d838" stroke-width="0.82" stroke-opacity="0.12"/><line x1="146.3" y1="346" x2="112.1" y2="380.2" stroke="#f6d838" stroke-width="0.76" stroke-opacity="0.27"/><line x1="411.6" y1="346" x2="319.0" y2="438.6" stroke="#f6d838" stroke-width="1.02" stroke-opacity="0.21"/><line x1="211.7" y1="346" x2="133.0" y2="424.7" stroke="#f6d838" stroke-width="0.72" stroke-opacity="0.21"/><line x1="390.8" y1="346" x2="345.1" y2="391.7" stroke="#f6d838" stroke-width="0.71" stroke-opacity="0.13"/><line x1="298.0" y1="346" x2="235.4" y2="408.7" stroke="#f6d838" stroke-width="0.66" stroke-opacity="0.10"/><line x1="137.8" y1="346" x2="102.4" y2="381.4" stroke="#f6d838" stroke-width="0.64" stroke-opacity="0.22"/><line x1="161.8" y1="346" x2="102.1" y2="405.6" stroke="#f6d838" stroke-width="1.01" stroke-opacity="0.14"/><line x1="88.5" y1="346" x2="67.1" y2="367.4" stroke="#f6d838" stroke-width="0.91" stroke-opacity="0.23"/><line x1="254.2" y1="346" x2="170.0" y2="430.2" stroke="#f6d838" stroke-width="1.11" stroke-opacity="0.21"/><line x1="70.6" y1="346" x2="58.9" y2="357.7" stroke="#f6d838" stroke-width="0.63" stroke-opacity="0.18"/><line x1="77.8" y1="346" x2="64.8" y2="359.0" stroke="#f6d838" stroke-width="1.02" stroke-opacity="0.16"/><line x1="269.9" y1="346" x2="191.2" y2="424.7" stroke="#f6d838" stroke-width="1.09" stroke-opacity="0.15"/><line x1="307.5" y1="346" x2="244.9" y2="408.6" stroke="#f6d838" stroke-width="0.96" stroke-opacity="0.16"/><line x1="246.7" y1="346" x2="209.6" y2="383.1" stroke="#f6d838" stroke-width="0.92" stroke-opacity="0.22"/><line x1="235.8" y1="346" x2="203.0" y2="378.8" stroke="#f6d838" stroke-width="0.89" stroke-opacity="0.14"/><line x1="453.0" y1="346" x2="354.6" y2="444.4" stroke="#f6d838" stroke-width="0.51" stroke-opacity="0.19"/><line x1="49.0" y1="346" x2="45.1" y2="349.9" stroke="#f6d838" stroke-width="0.69" stroke-opacity="0.13"/><line x1="444.4" y1="346" x2="286.5" y2="503.9" stroke="#f6d838" stroke-width="0.56" stroke-opacity="0.16"/><line x1="316.2" y1="346" x2="251.4" y2="410.8" stroke="#f6d838" stroke-width="0.51" stroke-opacity="0.14"/><line x1="437.7" y1="346" x2="314.9" y2="468.9" stroke="#f6d838" stroke-width="0.81" stroke-opacity="0.15"/><line x1="253.3" y1="346" x2="167.0" y2="432.3" stroke="#f6d838" stroke-width="0.60" stroke-opacity="0.22"/><line x1="249.8" y1="346" x2="145.9" y2="449.9" stroke="#f6d838" stroke-width="0.88" stroke-opacity="0.24"/><line x1="310.8" y1="346" x2="207.8" y2="449.0" stroke="#f6d838" stroke-width="0.53" stroke-opacity="0.19"/><line x1="183.9" y1="346" x2="130.9" y2="399.0" stroke="#f6d838" stroke-width="0.98" stroke-opacity="0.17"/><line x1="311.4" y1="346" x2="203.5" y2="453.9" stroke="#f6d838" stroke-width="0.97" stroke-opacity="0.27"/><line x1="354.2" y1="346" x2="240.8" y2="459.4" stroke="#f6d838" stroke-width="0.99" stroke-opacity="0.14"/><line x1="314.2" y1="346" x2="255.6" y2="404.6" stroke="#f6d838" stroke-width="0.54" stroke-opacity="0.24"/><line x1="256.4" y1="346" x2="165.2" y2="437.2" stroke="#f6d838" stroke-width="0.87" stroke-opacity="0.23"/><line x1="245.7" y1="346" x2="174.6" y2="417.1" stroke="#f6d838" stroke-width="1.16" stroke-opacity="0.18"/><line x1="481.2" y1="346" x2="265.4" y2="561.8" stroke="#f6d838" stroke-width="0.73" stroke-opacity="0.23"/><line x1="73.0" y1="346" x2="60.6" y2="358.4" stroke="#f6d838" stroke-width="1.04" stroke-opacity="0.22"/><line x1="390.3" y1="346" x2="281.1" y2="455.2" stroke="#f6d838" stroke-width="1.10" stroke-opacity="0.13"/><line x1="312.0" y1="346" x2="193.9" y2="464.0" stroke="#f6d838" stroke-width="0.99" stroke-opacity="0.27"/><line x1="407.8" y1="346" x2="233.5" y2="520.3" stroke="#f6d838" stroke-width="0.55" stroke-opacity="0.18"/><line x1="460.7" y1="346" x2="284.6" y2="522.1" stroke="#f6d838" stroke-width="1.03" stroke-opacity="0.16"/><line x1="274.3" y1="346" x2="166.7" y2="453.5" stroke="#f6d838" stroke-width="0.97" stroke-opacity="0.21"/><line x1="356.4" y1="346" x2="256.7" y2="445.7" stroke="#f6d838" stroke-width="1.18" stroke-opacity="0.19"/><line x1="330.8" y1="346" x2="187.4" y2="489.4" stroke="#f6d838" stroke-width="0.89" stroke-opacity="0.11"/><line x1="178.4" y1="346" x2="150.3" y2="374.2" stroke="#f6d838" stroke-width="0.85" stroke-opacity="0.11"/><line x1="452.9" y1="346" x2="273.4" y2="525.5" stroke="#f6d838" stroke-width="0.69" stroke-opacity="0.15"/><line x1="143.6" y1="346" x2="93.5" y2="396.1" stroke="#f6d838" stroke-width="0.97" stroke-opacity="0.20"/><line x1="249.6" y1="346" x2="193.5" y2="402.1" stroke="#f6d838" stroke-width="0.73" stroke-opacity="0.15"/><line x1="35.1" y1="346" x2="35.0" y2="346.0" stroke="#f6d838" stroke-width="0.58" stroke-opacity="0.13"/><line x1="380.8" y1="346" x2="305.2" y2="421.6" stroke="#f6d838" stroke-width="1.16" stroke-opacity="0.16"/><line x1="167.0" y1="346" x2="144.7" y2="368.3" stroke="#f6d838" stroke-width="0.94" stroke-opacity="0.19"/><line x1="270.7" y1="346" x2="171.8" y2="444.9" stroke="#f6d838" stroke-width="0.69" stroke-opacity="0.13"/><line x1="82.4" y1="346" x2="66.8" y2="361.6" stroke="#f6d838" stroke-width="0.81" stroke-opacity="0.24"/><line x1="428.1" y1="346" x2="372.6" y2="401.6" stroke="#f6d838" stroke-width="0.72" stroke-opacity="0.27"/><line x1="437.8" y1="346" x2="348.3" y2="435.6" stroke="#f6d838" stroke-width="0.80" stroke-opacity="0.10"/><line x1="480.0" y1="346" x2="289.0" y2="537.0" stroke="#f6d838" stroke-width="1.00" stroke-opacity="0.23"/><line x1="37.9" y1="346" x2="36.5" y2="347.3" stroke="#f6d838" stroke-width="0.71" stroke-opacity="0.18"/><line x1="443.6" y1="346" x2="307.6" y2="482.0" stroke="#f6d838" stroke-width="0.60" stroke-opacity="0.28"/><line x1="172.1" y1="346" x2="153.4" y2="364.7" stroke="#f0cc30" stroke-width="0.54" stroke-opacity="0.24"/><line x1="251.0" y1="346" x2="238.4" y2="358.6" stroke="#e8703c" stroke-width="0.87" stroke-opacity="0.35"/><line x1="144.9" y1="346" x2="135.7" y2="355.2" stroke="#f0cc30" stroke-width="0.71" stroke-opacity="0.17"/><line x1="270.6" y1="346" x2="238.5" y2="378.2" stroke="#e85a40" stroke-width="0.84" stroke-opacity="0.28"/><line x1="125.8" y1="346" x2="111.8" y2="360.0" stroke="#f0cc30" stroke-width="0.86" stroke-opacity="0.15"/><line x1="39.6" y1="346" x2="39.2" y2="346.4" stroke="#e85a40" stroke-width="0.84" stroke-opacity="0.22"/><line x1="442.8" y1="346" x2="389.6" y2="399.1" stroke="#e85a40" stroke-width="0.63" stroke-opacity="0.20"/><line x1="65.9" y1="346" x2="61.3" y2="350.5" stroke="#e85a40" stroke-width="0.54" stroke-opacity="0.33"/><line x1="479.4" y1="346" x2="423.1" y2="402.3" stroke="#e8703c" stroke-width="0.72" stroke-opacity="0.28"/><line x1="334.0" y1="346" x2="275.7" y2="404.2" stroke="#f0a030" stroke-width="0.53" stroke-opacity="0.24"/><line x1="129.0" y1="346" x2="116.2" y2="358.8" stroke="#f0a030" stroke-width="0.62" stroke-opacity="0.16"/><line x1="135.3" y1="346" x2="119.3" y2="362.0" stroke="#f0a030" stroke-width="0.97" stroke-opacity="0.34"/><line x1="235.1" y1="346" x2="222.9" y2="358.3" stroke="#f0cc30" stroke-width="0.58" stroke-opacity="0.22"/><line x1="168.8" y1="346" x2="140.5" y2="374.2" stroke="#f0a030" stroke-width="0.99" stroke-opacity="0.21"/><line x1="68.0" y1="346" x2="61.1" y2="352.9" stroke="#e8703c" stroke-width="0.64" stroke-opacity="0.28"/><line x1="369.5" y1="346" x2="303.5" y2="412.0" stroke="#f0cc30" stroke-width="0.69" stroke-opacity="0.31"/><line x1="267.3" y1="346" x2="240.3" y2="373.0" stroke="#f0a030" stroke-width="0.69" stroke-opacity="0.20"/><line x1="303.5" y1="346" x2="291.3" y2="358.3" stroke="#e8703c" stroke-width="0.88" stroke-opacity="0.34"/><line x1="77.8" y1="346" x2="70.1" y2="353.7" stroke="#f0cc30" stroke-width="0.60" stroke-opacity="0.30"/><line x1="337.3" y1="346" x2="304.5" y2="378.8" stroke="#f0cc30" stroke-width="0.56" stroke-opacity="0.35"/><line x1="85.7" y1="346" x2="74.8" y2="356.9" stroke="#e85a40" stroke-width="0.52" stroke-opacity="0.34"/><line x1="105.6" y1="346" x2="98.7" y2="352.9" stroke="#e85a40" stroke-width="0.67" stroke-opacity="0.32"/><line x1="111.7" y1="346" x2="108.0" y2="349.7" stroke="#f0cc30" stroke-width="0.94" stroke-opacity="0.34"/><line x1="182.6" y1="346" x2="150.4" y2="378.3" stroke="#e8703c" stroke-width="0.54" stroke-opacity="0.25"/><line x1="171.1" y1="346" x2="153.4" y2="363.7" stroke="#f0a030" stroke-width="0.80" stroke-opacity="0.25"/><line x1="248.0" y1="346" x2="208.3" y2="385.7" stroke="#e8703c" stroke-width="0.97" stroke-opacity="0.24"/><line x1="390.4" y1="346" x2="348.8" y2="387.6" stroke="#f0a030" stroke-width="0.86" stroke-opacity="0.19"/><line x1="266.1" y1="346" x2="227.0" y2="385.1" stroke="#e8703c" stroke-width="0.85" stroke-opacity="0.26"/><line x1="416.4" y1="346" x2="334.6" y2="427.8" stroke="#e8703c" stroke-width="0.93" stroke-opacity="0.26"/><line x1="350.4" y1="346" x2="327.1" y2="369.3" stroke="#e85a40" stroke-width="0.61" stroke-opacity="0.35"/><line x1="164.3" y1="346" x2="142.2" y2="368.2" stroke="#f0a030" stroke-width="0.94" stroke-opacity="0.27"/><line x1="307.3" y1="346" x2="276.4" y2="376.9" stroke="#f0cc30" stroke-width="0.74" stroke-opacity="0.35"/><line x1="180.0" y1="346" x2="148.0" y2="378.0" stroke="#f0cc30" stroke-width="0.63" stroke-opacity="0.22"/><line x1="247.1" y1="346" x2="228.3" y2="364.8" stroke="#e8703c" stroke-width="0.78" stroke-opacity="0.28"/><line x1="393.9" y1="346" x2="352.5" y2="387.4" stroke="#e8703c" stroke-width="0.54" stroke-opacity="0.17"/><line x1="418.9" y1="346" x2="373.6" y2="391.3" stroke="#f0cc30" stroke-width="0.99" stroke-opacity="0.25"/><line x1="305.7" y1="346" x2="282.0" y2="369.7" stroke="#f0a030" stroke-width="0.66" stroke-opacity="0.28"/><line x1="299.8" y1="346" x2="282.8" y2="363.0" stroke="#e8703c" stroke-width="0.79" stroke-opacity="0.17"/><line x1="192.3" y1="346" x2="164.2" y2="374.1" stroke="#e8703c" stroke-width="0.56" stroke-opacity="0.31"/><line x1="209.2" y1="346" x2="195.3" y2="359.9" stroke="#f0cc30" stroke-width="0.57" stroke-opacity="0.30"/><line x1="348.4" y1="346" x2="301.6" y2="392.8" stroke="#f0a030" stroke-width="0.64" stroke-opacity="0.15"/><line x1="299.8" y1="346" x2="253.4" y2="392.4" stroke="#f0cc30" stroke-width="0.99" stroke-opacity="0.20"/><line x1="261.8" y1="346" x2="246.9" y2="360.9" stroke="#f0cc30" stroke-width="0.75" stroke-opacity="0.17"/><line x1="308.4" y1="346" x2="272.1" y2="382.2" stroke="#f0a030" stroke-width="0.95" stroke-opacity="0.27"/><line x1="317.6" y1="346" x2="270.6" y2="393.0" stroke="#f0cc30" stroke-width="0.70" stroke-opacity="0.20"/></g>
<text x="9" y="17.9" font-size="12.6" fill="#111" textLength="7.6" lengthAdjust="spacingAndGlyphs">A</text>
<text x="10" y="333.1" font-size="12.6" fill="#111" textLength="6.7" lengthAdjust="spacingAndGlyphs">B</text>
<rect x="43.5" y="31.5" width="437.3" height="256.8" fill="none" stroke="#222" stroke-width="1.2"/>
<line x1="39.7" y1="219.00" x2="43" y2="219.00" stroke="#222" stroke-width="0.9"/>
<text x="37.4" y="221.90" font-size="8.2" text-anchor="end" fill="#111">0</text>
<line x1="39.7" y1="200.84" x2="43" y2="200.84" stroke="#222" stroke-width="0.9"/>
<text x="37.4" y="203.74" font-size="8.2" text-anchor="end" fill="#111">7</text>
<line x1="39.7" y1="182.68" x2="43" y2="182.68" stroke="#222" stroke-width="0.9"/>
<text x="37.4" y="185.58" font-size="8.2" text-anchor="end" fill="#111">14</text>
<line x1="39.7" y1="164.53" x2="43" y2="164.53" stroke="#222" stroke-width="0.9"/>
<text x="37.4" y="167.43" font-size="8.2" text-anchor="end" fill="#111">21</text>
<line x1="39.7" y1="146.37" x2="43" y2="146.37" stroke="#222" stroke-width="0.9"/>
<text x="37.4" y="149.27" font-size="8.2" text-anchor="end" fill="#111">28</text>
<line x1="39.7" y1="128.21" x2="43" y2="128.21" stroke="#222" stroke-width="0.9"/>
<text x="37.4" y="131.11" font-size="8.2" text-anchor="end" fill="#111">35</text>
<line x1="39.7" y1="110.05" x2="43" y2="110.05" stroke="#222" stroke-width="0.9"/>
<text x="37.4" y="112.95" font-size="8.2" text-anchor="end" fill="#111">42</text>
<line x1="39.7" y1="91.89" x2="43" y2="91.89" stroke="#222" stroke-width="0.9"/>
<text x="37.4" y="94.79" font-size="8.2" text-anchor="end" fill="#111">49</text>
<line x1="39.7" y1="73.74" x2="43" y2="73.74" stroke="#222" stroke-width="0.9"/>
<text x="37.4" y="76.64" font-size="8.2" text-anchor="end" fill="#111">56</text>
<line x1="39.7" y1="55.58" x2="43" y2="55.58" stroke="#222" stroke-width="0.9"/>
<text x="37.4" y="58.48" font-size="8.2" text-anchor="end" fill="#111">63</text>
<line x1="481" y1="248.80" x2="484" y2="248.80" stroke="#222" stroke-width="0.9"/>
<text x="487" y="251.70" font-size="8.2" fill="#111">0</text>
<line x1="481" y1="189.20" x2="484" y2="189.20" stroke="#222" stroke-width="0.9"/>
<text x="487" y="192.10" font-size="8.2" fill="#111">20</text>
<line x1="481" y1="129.60" x2="484" y2="129.60" stroke="#222" stroke-width="0.9"/>
<text x="487" y="132.50" font-size="8.2" fill="#111">40</text>
<line x1="481" y1="70.00" x2="484" y2="70.00" stroke="#222" stroke-width="0.9"/>
<text x="487" y="72.90" font-size="8.2" fill="#111">60</text>
<line x1="73.5" y1="288" x2="73.5" y2="291.7" stroke="#222" stroke-width="0.9"/>
<text x="73.5" y="303.3" font-size="8.2" text-anchor="middle" fill="#111">102.7</text>
<line x1="235.4" y1="288" x2="235.4" y2="291.7" stroke="#222" stroke-width="0.9"/>
<text x="235.4" y="303.3" font-size="8.2" text-anchor="middle" fill="#111">102.9</text>
<line x1="397.7" y1="288" x2="397.7" y2="291.7" stroke="#222" stroke-width="0.9"/>
<text x="397.7" y="303.3" font-size="8.2" text-anchor="middle" fill="#111">103.1</text>
<text x="278.6" y="303.3" font-size="8.2" fill="#111" textLength="75.5" lengthAdjust="spacingAndGlyphs">Chromosome 2 (Mb)</text>
<text transform="translate(17.4,236.5) rotate(-90)" font-size="10.6" fill="#111" textLength="156" lengthAdjust="spacingAndGlyphs">Strength of association ( −log<tspan font-size="7.4" dy="2.5">10</tspan><tspan dy="-2.5">(p) )</tspan></text>
<text transform="translate(503.4,95.5) rotate(90)" font-size="10.6" fill="#111" textLength="128.5" lengthAdjust="spacingAndGlyphs">Recombination rate (cM/Mb)</text>
<polyline fill="none" stroke="#bfd0eb" stroke-width="1.05" stroke-linejoin="round" points="59.2,249 60.5,248 63.5,170 64.6,170.5 67.9,249 71,247 73.7,244.2 75,248.5 81.9,235.6 82.6,249 92.9,248.5 94.8,241.3 95.8,246 97.5,240 98.7,232.3 100.6,247 110,248.5 125,249 130,247 133.5,242 135.2,237 137,243 140,248.5 152,248.5 155,246 156.6,243 158,246 161,248 162.3,235.5 163.2,248 166,248 166.6,245.5 167.2,248.5 185,248.5 186.5,240 187,248 187.8,234 188.6,248.5 195,248 196.6,242 198,245 199.4,161 200.6,247 204,247.5 207,244 209,248 230,248 241.6,245 245,244 247.4,224.6 249,246 250,248 255,248.5 259.2,247 262,248.5 276,248.5 277.7,231.5 279,248 281.5,248 282.3,245 283,248.5 288.5,248 289.3,227.4 290.3,248.5 300,248 302,243 304,247 305.4,235.7 306.5,248.5 345,249 350.5,247 352,249 356.5,248 357.4,237.3 358.3,249 372,249 373,247 374,249 389.9,249 390.3,230 391.6,229.5 392.7,155 393.4,155 394.2,248 399.6,248.5 400.4,243 401.3,248.5 409.7,248.5 410.4,236 411.1,248.5 413.6,248.5 414.4,214 415.2,248.5 417.8,248.5 418.5,235.4 419.2,248.5 429,249 429.8,215.6 430.6,249 458,249 461.8,236.7 463.5,247 464.4,249"/>
<line x1="59" y1="219.3" x2="464.4" y2="219.3" stroke="#333" stroke-width="0.9" stroke-dasharray="1 1.3"/>
<g><path d="M60.17,208.72L62.37,210.92L60.17,213.12L57.97,210.92Z" fill="#ffffff" stroke="#3a7055" stroke-width="0.95"/><path d="M60.55,208.81L62.95,212.91L58.15,212.91Z" fill="#ffffff" stroke="#3a7055" stroke-width="1.05"/><path d="M61.41,210.25L63.81,214.35L59.01,214.35Z" fill="#ffffff" stroke="#3a7055" stroke-width="1.05"/><path d="M59.12,205.33L61.52,209.43L56.72,209.43Z" fill="#ffffff" stroke="#3a7055" stroke-width="1.05"/><path d="M63.75,209.28L66.15,213.38L61.35,213.38Z" fill="#ffffff" stroke="#3a7055" stroke-width="1.05"/><path d="M62.82,205.14L65.22,209.24L60.42,209.24Z" fill="#ffffff" stroke="#3a7055" stroke-width="1.05"/><path d="M63.16,209.00L65.36,211.20L63.16,213.40L60.96,211.20Z" fill="#ffffff" stroke="#3a7055" stroke-width="0.95"/><path d="M60.08,210.70L62.28,212.90L60.08,215.10L57.88,212.90Z" fill="#ffffff" stroke="#3a7055" stroke-width="0.95"/><path d="M60.50,209.44L62.70,211.64L60.50,213.84L58.30,211.64Z" fill="#ffffff" stroke="#3a7055" stroke-width="0.95"/><path d="M59.85,208.56L62.25,212.66L57.45,212.66Z" fill="#ffffff" stroke="#3a7055" stroke-width="1.05"/><path d="M59.21,206.41L61.41,208.61L59.21,210.81L57.01,208.61Z" fill="#ffffff" stroke="#3a7055" stroke-width="0.95"/><path d="M57.49,210.16L59.69,212.36L57.49,214.56L55.29,212.36Z" fill="#ffffff" stroke="#3a7055" stroke-width="0.95"/><path d="M62.93,207.41L65.33,211.51L60.53,211.51Z" fill="#ffffff" stroke="#3a7055" stroke-width="1.05"/><path d="M58.49,211.19L60.89,215.29L56.09,215.29Z" fill="#ffffff" stroke="#3a7055" stroke-width="1.05"/><path d="M59.63,209.76L61.83,211.96L59.63,214.16L57.43,211.96Z" fill="#ffffff" stroke="#3a7055" stroke-width="0.95"/><path d="M60.96,206.19L63.16,208.39L60.96,210.59L58.76,208.39Z" fill="#ffffff" stroke="#3a7055" stroke-width="0.95"/><path d="M57.61,207.13L59.81,209.33L57.61,211.53L55.41,209.33Z" fill="#ffffff" stroke="#3a7055" stroke-width="0.95"/><path d="M57.94,209.65L60.34,213.75L55.54,213.75Z" fill="#ffffff" stroke="#3a7055" stroke-width="1.05"/><path d="M60.25,208.21L62.45,210.41L60.25,212.61L58.05,210.41Z" fill="#ffffff" stroke="#3a7055" stroke-width="0.95"/><path d="M60.56,211.60L62.96,215.70L58.16,215.70Z" fill="#ffffff" stroke="#3a7055" stroke-width="1.05"/><path d="M61.51,205.62L63.71,207.82L61.51,210.02L59.31,207.82Z" fill="#ffffff" stroke="#3a7055" stroke-width="0.95"/><path d="M57.00,210.85L59.20,213.05L57.00,215.25L54.80,213.05Z" fill="#ffffff" stroke="#3a7055" stroke-width="0.95"/><path d="M68.95,209.77L71.15,211.97L68.95,214.17L66.75,211.97Z" fill="#ffffff" stroke="#3a7055" stroke-width="0.95"/><path d="M79.85,208.87L82.05,211.07L79.85,213.27L77.65,211.07Z" fill="#ffffff" stroke="#3a7055" stroke-width="0.95"/><path d="M76.82,209.44L79.02,211.64L76.82,213.84L74.62,211.64Z" fill="#ffffff" stroke="#3a7055" stroke-width="0.95"/><path d="M67.03,208.25L69.23,210.45L67.03,212.65L64.83,210.45Z" fill="#ffffff" stroke="#3a7055" stroke-width="0.95"/><path d="M74.42,209.66L76.62,211.86L74.42,214.06L72.22,211.86Z" fill="#ffffff" stroke="#3a7055" stroke-width="0.95"/><path d="M97.26,210.22L99.46,212.42L97.26,214.62L95.06,212.42Z" fill="#ffffff" stroke="#3a7055" stroke-width="0.95"/><path d="M83.29,208.57L85.49,210.77L83.29,212.97L81.09,210.77Z" fill="#ffffff" stroke="#3a7055" stroke-width="0.95"/><path d="M93.06,208.59L95.26,210.79L93.06,212.99L90.86,210.79Z" fill="#ffffff" stroke="#3a7055" stroke-width="0.95"/><path d="M95.88,210.72L98.28,214.82L93.48,214.82Z" fill="#ffffff" stroke="#3a7055" stroke-width="1.05"/><path d="M81.87,207.99L84.07,210.19L81.87,212.39L79.67,210.19Z" fill="#ffffff" stroke="#3a7055" stroke-width="0.95"/><path d="M93.32,209.66L95.72,213.76L90.92,213.76Z" fill="#ffffff" stroke="#3a7055" stroke-width="1.05"/><path d="M85.28,208.68L87.48,210.88L85.28,213.08L83.08,210.88Z" fill="#ffffff" stroke="#3a7055" stroke-width="0.95"/><path d="M84.11,210.60L86.31,212.80L84.11,215.00L81.91,212.80Z" fill="#ffffff" stroke="#3a7055" stroke-width="0.95"/><path d="M83.82,212.37L86.02,214.57L83.82,216.77L81.62,214.57Z" fill="#ffffff" stroke="#3a7055" stroke-width="0.95"/><path d="M84.85,210.03L87.05,212.23L84.85,214.43L82.65,212.23Z" fill="#ffffff" stroke="#3a7055" stroke-width="0.95"/><path d="M83.17,209.64L85.37,211.84L83.17,214.04L80.97,211.84Z" fill="#ffffff" stroke="#3a7055" stroke-width="0.95"/><path d="M86.52,212.25L88.72,214.45L86.52,216.65L84.32,214.45Z" fill="#ffffff" stroke="#4b64a0" stroke-width="0.95"/><path d="M109.27,201.29L111.47,203.49L109.27,205.69L107.07,203.49Z" fill="#ffffff" stroke="#3a7055" stroke-width="0.95"/><path d="M106.97,202.05L109.17,204.25L106.97,206.45L104.77,204.25Z" fill="#ffffff" stroke="#3a7055" stroke-width="0.95"/><path d="M97.45,203.03L99.65,205.23L97.45,207.43L95.25,205.23Z" fill="#ffffff" stroke="#3a7055" stroke-width="0.95"/><path d="M112.34,201.92L114.54,204.12L112.34,206.32L110.14,204.12Z" fill="#ffffff" stroke="#3a7055" stroke-width="0.95"/><path d="M106.51,202.09L108.71,204.29L106.51,206.49L104.31,204.29Z" fill="#ffffff" stroke="#3a7055" stroke-width="0.95"/><path d="M113.66,204.00L115.86,206.20L113.66,208.40L111.46,206.20Z" fill="#ffffff" stroke="#3a7055" stroke-width="0.95"/><path d="M111.39,203.95L113.59,206.15L111.39,208.35L109.19,206.15Z" fill="#ffffff" stroke="#3a7055" stroke-width="0.95"/><path d="M115.13,202.80L117.33,205.00L115.13,207.20L112.93,205.00Z" fill="#ffffff" stroke="#3a7055" stroke-width="0.95"/><path d="M109.24,202.93L111.44,205.13L109.24,207.33L107.04,205.13Z" fill="#ffffff" stroke="#3a7055" stroke-width="0.95"/><path d="M127.69,213.18L130.09,217.28L125.29,217.28Z" fill="#ffffff" stroke="#3a7055" stroke-width="1.05"/><path d="M115.64,212.27L118.04,216.37L113.24,216.37Z" fill="#ffffff" stroke="#3a7055" stroke-width="1.05"/><path d="M119.21,211.69L121.41,213.89L119.21,216.09L117.01,213.89Z" fill="#ffffff" stroke="#3a7055" stroke-width="0.95"/><path d="M125.86,211.48L128.06,213.68L125.86,215.88L123.66,213.68Z" fill="#ffffff" stroke="#3a7055" stroke-width="0.95"/><path d="M120.87,211.85L123.27,215.95L118.47,215.95Z" fill="#ffffff" stroke="#3a7055" stroke-width="1.05"/><path d="M140.03,211.09L142.23,213.29L140.03,215.49L137.83,213.29Z" fill="#ffffff" stroke="#3a7055" stroke-width="0.95"/><path d="M121.88,212.44L124.08,214.64L121.88,216.84L119.68,214.64Z" fill="#ffffff" stroke="#3a7055" stroke-width="0.95"/><path d="M120.92,210.55L123.32,214.65L118.52,214.65Z" fill="#ffffff" stroke="#3a7055" stroke-width="1.05"/><path d="M106.53,211.31L108.73,213.51L106.53,215.71L104.33,213.51Z" fill="#ffffff" stroke="#3a7055" stroke-width="0.95"/><path d="M115.45,211.84L117.65,214.04L115.45,216.24L113.25,214.04Z" fill="#ffffff" stroke="#3a7055" stroke-width="0.95"/><path d="M103.54,211.54L105.74,213.74L103.54,215.94L101.34,213.74Z" fill="#ffffff" stroke="#3a7055" stroke-width="0.95"/><path d="M142.60,210.77L144.80,212.97L142.60,215.17L140.40,212.97Z" fill="#ffffff" stroke="#3a7055" stroke-width="0.95"/><path d="M118.63,210.76L120.83,212.96L118.63,215.16L116.43,212.96Z" fill="#ffffff" stroke="#3a7055" stroke-width="0.95"/><path d="M115.36,211.62L117.56,213.82L115.36,216.02L113.16,213.82Z" fill="#ffffff" stroke="#3a7055" stroke-width="0.95"/><path d="M112.38,212.70L114.58,214.90L112.38,217.10L110.18,214.90Z" fill="#ffffff" stroke="#3a7055" stroke-width="0.95"/><path d="M129.56,210.78L131.76,212.98L129.56,215.18L127.36,212.98Z" fill="#ffffff" stroke="#3a7055" stroke-width="0.95"/><path d="M128.17,211.77L130.37,213.97L128.17,216.17L125.97,213.97Z" fill="#ffffff" stroke="#3a7055" stroke-width="0.95"/><path d="M118.83,209.89L121.03,212.09L118.83,214.29L116.63,212.09Z" fill="#ffffff" stroke="#3a7055" stroke-width="0.95"/><path d="M138.38,207.48L140.78,211.58L135.98,211.58Z" fill="#ffffff" stroke="#4b64a0" stroke-width="1.05"/><path d="M118.27,206.01L120.47,208.21L118.27,210.41L116.07,208.21Z" fill="#ffffff" stroke="#3a7055" stroke-width="0.95"/><path d="M135.53,204.00L137.73,206.20L135.53,208.40L133.33,206.20Z" fill="#ffffff" stroke="#3a7055" stroke-width="0.95"/><path d="M120.36,202.86L122.56,205.06L120.36,207.26L118.16,205.06Z" fill="#ffffff" stroke="#3a7055" stroke-width="0.95"/><path d="M120.37,204.43L122.57,206.63L120.37,208.83L118.17,206.63Z" fill="#ffffff" stroke="#3a7055" stroke-width="0.95"/><path d="M126.81,207.45L129.21,211.55L124.41,211.55Z" fill="#ffffff" stroke="#3a7055" stroke-width="1.05"/><path d="M127.31,208.16L129.51,210.36L127.31,212.56L125.11,210.36Z" fill="#ffffff" stroke="#3a7055" stroke-width="0.95"/><path d="M128.52,203.88L130.92,207.98L126.12,207.98Z" fill="#ffffff" stroke="#4b64a0" stroke-width="1.05"/><path d="M131.50,206.72L133.70,208.92L131.50,211.12L129.30,208.92Z" fill="#ffffff" stroke="#4b64a0" stroke-width="0.95"/><path d="M124.79,208.59L127.19,212.69L122.39,212.69Z" fill="#ffffff" stroke="#3a7055" stroke-width="1.05"/><path d="M121.40,208.10L123.80,212.20L119.00,212.20Z" fill="#ffffff" stroke="#3a7055" stroke-width="1.05"/><path d="M131.11,207.54L133.31,209.74L131.11,211.94L128.91,209.74Z" fill="#ffffff" stroke="#3a7055" stroke-width="0.95"/><path d="M142.30,207.93L144.50,210.13L142.30,212.33L140.10,210.13Z" fill="#ffffff" stroke="#3a7055" stroke-width="0.95"/><path d="M116.11,204.85L118.31,207.05L116.11,209.25L113.91,207.05Z" fill="#ffffff" stroke="#3a7055" stroke-width="0.95"/><path d="M170.78,200.87L173.18,204.97L168.38,204.97Z" fill="#ffffff" stroke="#4b64a0" stroke-width="1.05"/><path d="M188.59,201.84L190.79,204.04L188.59,206.24L186.39,204.04Z" fill="#ffffff" stroke="#3a7055" stroke-width="0.95"/><path d="M169.82,206.80L172.02,209.00L169.82,211.20L167.62,209.00Z" fill="#ffffff" stroke="#4b64a0" stroke-width="0.95"/><path d="M196.91,203.66L199.31,207.76L194.51,207.76Z" fill="#ffffff" stroke="#3a7055" stroke-width="1.05"/><path d="M168.05,204.15L170.25,206.35L168.05,208.55L165.85,206.35Z" fill="#ffffff" stroke="#3a7055" stroke-width="0.95"/><path d="M172.80,205.86L175.00,208.06L172.80,210.26L170.60,208.06Z" fill="#ffffff" stroke="#3a7055" stroke-width="0.95"/><path d="M160.77,202.99L163.17,207.09L158.37,207.09Z" fill="#ffffff" stroke="#3a7055" stroke-width="1.05"/><path d="M191.49,206.61L193.69,208.81L191.49,211.01L189.29,208.81Z" fill="#ffffff" stroke="#3a7055" stroke-width="0.95"/><path d="M175.66,202.01L177.86,204.21L175.66,206.41L173.46,204.21Z" fill="#ffffff" stroke="#3a7055" stroke-width="0.95"/><path d="M171.68,204.33L174.08,208.43L169.28,208.43Z" fill="#ffffff" stroke="#3a7055" stroke-width="1.05"/><path d="M172.41,203.10L174.81,207.20L170.01,207.20Z" fill="#ffffff" stroke="#4b64a0" stroke-width="1.05"/><path d="M148.31,201.80L150.51,204.00L148.31,206.20L146.11,204.00Z" fill="#ffffff" stroke="#4b64a0" stroke-width="0.95"/><path d="M166.59,206.54L168.79,208.74L166.59,210.94L164.39,208.74Z" fill="#ffffff" stroke="#3a7055" stroke-width="0.95"/><path d="M157.04,203.76L159.24,205.96L157.04,208.16L154.84,205.96Z" fill="#ffffff" stroke="#4b64a0" stroke-width="0.95"/><path d="M194.35,206.41L196.55,208.61L194.35,210.81L192.15,208.61Z" fill="#ffffff" stroke="#3a7055" stroke-width="0.95"/><path d="M149.19,203.22L151.59,207.32L146.79,207.32Z" fill="#ffffff" stroke="#3a7055" stroke-width="1.05"/><path d="M150.38,205.38L152.78,209.48L147.98,209.48Z" fill="#ffffff" stroke="#3a7055" stroke-width="1.05"/><path d="M154.06,202.06L156.46,206.16L151.66,206.16Z" fill="#ffffff" stroke="#3a7055" stroke-width="1.05"/><path d="M184.25,202.27L186.45,204.47L184.25,206.67L182.05,204.47Z" fill="#ffffff" stroke="#3a7055" stroke-width="0.95"/><path d="M171.48,204.29L173.68,206.49L171.48,208.69L169.28,206.49Z" fill="#ffffff" stroke="#3a7055" stroke-width="0.95"/><path d="M183.91,205.01L186.11,207.21L183.91,209.41L181.71,207.21Z" fill="#ffffff" stroke="#3a7055" stroke-width="0.95"/><path d="M164.42,203.28L166.62,205.48L164.42,207.68L162.22,205.48Z" fill="#ffffff" stroke="#3a7055" stroke-width="0.95"/><path d="M173.68,205.98L175.88,208.18L173.68,210.38L171.48,208.18Z" fill="#ffffff" stroke="#3a7055" stroke-width="0.95"/><path d="M173.19,205.81L175.59,209.91L170.79,209.91Z" fill="#ffffff" stroke="#3a7055" stroke-width="1.05"/><path d="M195.14,204.57L197.34,206.77L195.14,208.97L192.94,206.77Z" fill="#ffffff" stroke="#3a7055" stroke-width="0.95"/><path d="M161.00,202.59L163.40,206.69L158.60,206.69Z" fill="#ffffff" stroke="#3a7055" stroke-width="1.05"/><path d="M187.36,201.87L189.76,205.97L184.96,205.97Z" fill="#ffffff" stroke="#3a7055" stroke-width="1.05"/><path d="M193.67,201.50L196.07,205.60L191.27,205.60Z" fill="#ffffff" stroke="#3a7055" stroke-width="1.05"/><path d="M165.11,209.84L167.31,212.04L165.11,214.24L162.91,212.04Z" fill="#ffffff" stroke="#3a7055" stroke-width="0.95"/><path d="M188.03,207.68L190.23,209.88L188.03,212.08L185.83,209.88Z" fill="#ffffff" stroke="#4b64a0" stroke-width="0.95"/><path d="M182.06,206.82L184.46,210.92L179.66,210.92Z" fill="#ffffff" stroke="#3a7055" stroke-width="1.05"/><path d="M181.90,213.08L184.30,217.18L179.50,217.18Z" fill="#ffffff" stroke="#3a7055" stroke-width="1.05"/><path d="M183.17,211.14L185.57,215.24L180.77,215.24Z" fill="#ffffff" stroke="#3a7055" stroke-width="1.05"/><path d="M199.92,212.53L202.32,216.63L197.52,216.63Z" fill="#ffffff" stroke="#3a7055" stroke-width="1.05"/><path d="M149.05,207.06L151.25,209.26L149.05,211.46L146.85,209.26Z" fill="#ffffff" stroke="#3a7055" stroke-width="0.95"/><path d="M172.34,210.68L174.74,214.78L169.94,214.78Z" fill="#ffffff" stroke="#3a7055" stroke-width="1.05"/><path d="M153.52,208.13L155.92,212.23L151.12,212.23Z" fill="#ffffff" stroke="#3a7055" stroke-width="1.05"/><path d="M195.83,207.37L198.23,211.47L193.43,211.47Z" fill="#ffffff" stroke="#3a7055" stroke-width="1.05"/><path d="M197.24,209.93L199.64,214.03L194.84,214.03Z" fill="#ffffff" stroke="#3a7055" stroke-width="1.05"/><path d="M165.28,209.69L167.68,213.79L162.88,213.79Z" fill="#ffffff" stroke="#3a7055" stroke-width="1.05"/><path d="M154.97,209.41L157.17,211.61L154.97,213.81L152.77,211.61Z" fill="#ffffff" stroke="#4b64a0" stroke-width="0.95"/><path d="M145.33,208.20L147.53,210.40L145.33,212.60L143.13,210.40Z" fill="#ffffff" stroke="#3a7055" stroke-width="0.95"/><path d="M163.50,209.29L165.90,213.39L161.10,213.39Z" fill="#ffffff" stroke="#3a7055" stroke-width="1.05"/><path d="M152.41,210.29L154.81,214.39L150.01,214.39Z" fill="#ffffff" stroke="#3a7055" stroke-width="1.05"/><path d="M193.91,212.41L196.11,214.61L193.91,216.81L191.71,214.61Z" fill="#ffffff" stroke="#4b64a0" stroke-width="0.95"/><path d="M196.56,210.69L198.96,214.79L194.16,214.79Z" fill="#ffffff" stroke="#3a7055" stroke-width="1.05"/><path d="M176.32,209.09L178.72,213.19L173.92,213.19Z" fill="#ffffff" stroke="#3a7055" stroke-width="1.05"/><path d="M194.94,211.91L197.34,216.01L192.54,216.01Z" fill="#ffffff" stroke="#3a7055" stroke-width="1.05"/><path d="M150.59,209.11L152.79,211.31L150.59,213.51L148.39,211.31Z" fill="#ffffff" stroke="#4b64a0" stroke-width="0.95"/><path d="M164.08,209.72L166.48,213.82L161.68,213.82Z" fill="#ffffff" stroke="#3a7055" stroke-width="1.05"/><path d="M154.79,207.99L157.19,212.09L152.39,212.09Z" fill="#ffffff" stroke="#3a7055" stroke-width="1.05"/><path d="M169.72,206.77L172.12,210.87L167.32,210.87Z" fill="#ffffff" stroke="#4b64a0" stroke-width="1.05"/><path d="M194.45,207.05L196.85,211.15L192.05,211.15Z" fill="#ffffff" stroke="#4b64a0" stroke-width="1.05"/><path d="M160.04,208.31L162.24,210.51L160.04,212.71L157.84,210.51Z" fill="#ffffff" stroke="#3a7055" stroke-width="0.95"/><path d="M153.37,207.34L155.57,209.54L153.37,211.74L151.17,209.54Z" fill="#ffffff" stroke="#3a7055" stroke-width="0.95"/><path d="M179.61,211.71L181.81,213.91L179.61,216.11L177.41,213.91Z" fill="#ffffff" stroke="#3a7055" stroke-width="0.95"/><path d="M144.30,211.11L146.50,213.31L144.30,215.51L142.10,213.31Z" fill="#ffffff" stroke="#3a7055" stroke-width="0.95"/><path d="M157.63,209.51L160.03,213.61L155.23,213.61Z" fill="#ffffff" stroke="#3a7055" stroke-width="1.05"/><path d="M179.94,206.78L182.34,210.88L177.54,210.88Z" fill="#ffffff" stroke="#3a7055" stroke-width="1.05"/><path d="M158.71,209.19L160.91,211.39L158.71,213.59L156.51,211.39Z" fill="#ffffff" stroke="#3a7055" stroke-width="0.95"/><path d="M166.69,210.34L169.09,214.44L164.29,214.44Z" fill="#ffffff" stroke="#4b64a0" stroke-width="1.05"/><path d="M168.33,211.31L170.53,213.51L168.33,215.71L166.13,213.51Z" fill="#ffffff" stroke="#3a7055" stroke-width="0.95"/><path d="M181.10,213.49L183.30,215.69L181.10,217.89L178.90,215.69Z" fill="#ffffff" stroke="#3a7055" stroke-width="0.95"/><path d="M165.00,213.59L167.20,215.79L165.00,217.99L162.80,215.79Z" fill="#ffffff" stroke="#3a7055" stroke-width="0.95"/><path d="M177.84,207.21L180.04,209.41L177.84,211.61L175.64,209.41Z" fill="#ffffff" stroke="#3a7055" stroke-width="0.95"/><path d="M159.21,209.49L161.61,213.59L156.81,213.59Z" fill="#ffffff" stroke="#3a7055" stroke-width="1.05"/><path d="M173.23,210.08L175.63,214.18L170.83,214.18Z" fill="#ffffff" stroke="#3a7055" stroke-width="1.05"/><path d="M195.98,211.45L198.18,213.65L195.98,215.85L193.78,213.65Z" fill="#ffffff" stroke="#3a7055" stroke-width="0.95"/><path d="M159.02,213.40L161.42,217.50L156.62,217.50Z" fill="#ffffff" stroke="#3a7055" stroke-width="1.05"/><path d="M173.53,213.10L175.93,217.20L171.13,217.20Z" fill="#ffffff" stroke="#3a7055" stroke-width="1.05"/><path d="M186.44,210.98L188.64,213.18L186.44,215.38L184.24,213.18Z" fill="#ffffff" stroke="#3a7055" stroke-width="0.95"/><path d="M188.31,211.58L190.51,213.78L188.31,215.98L186.11,213.78Z" fill="#ffffff" stroke="#3a7055" stroke-width="0.95"/><path d="M194.98,211.55L197.38,215.65L192.58,215.65Z" fill="#ffffff" stroke="#3a7055" stroke-width="1.05"/><path d="M163.49,214.06L165.89,218.16L161.09,218.16Z" fill="#ffffff" stroke="#3a7055" stroke-width="1.05"/><path d="M159.92,212.16L162.32,216.26L157.52,216.26Z" fill="#ffffff" stroke="#3a7055" stroke-width="1.05"/><path d="M190.72,211.95L193.12,216.05L188.32,216.05Z" fill="#ffffff" stroke="#3a7055" stroke-width="1.05"/><path d="M171.81,211.29L174.01,213.49L171.81,215.69L169.61,213.49Z" fill="#ffffff" stroke="#3a7055" stroke-width="0.95"/><path d="M180.84,213.04L183.04,215.24L180.84,217.44L178.64,215.24Z" fill="#ffffff" stroke="#3a7055" stroke-width="0.95"/><path d="M187.56,212.56L189.96,216.66L185.16,216.66Z" fill="#ffffff" stroke="#3a7055" stroke-width="1.05"/><path d="M185.90,211.53L188.30,215.63L183.50,215.63Z" fill="#ffffff" stroke="#3a7055" stroke-width="1.05"/><path d="M187.80,212.99L190.00,215.19L187.80,217.39L185.60,215.19Z" fill="#ffffff" stroke="#3a7055" stroke-width="0.95"/><path d="M168.32,213.10L170.72,217.20L165.92,217.20Z" fill="#ffffff" stroke="#3a7055" stroke-width="1.05"/><path d="M186.63,211.36L189.03,215.46L184.23,215.46Z" fill="#ffffff" stroke="#3a7055" stroke-width="1.05"/><path d="M191.39,210.84L193.79,214.94L188.99,214.94Z" fill="#ffffff" stroke="#3a7055" stroke-width="1.05"/><path d="M168.30,212.19L170.70,216.29L165.90,216.29Z" fill="#ffffff" stroke="#3a7055" stroke-width="1.05"/><path d="M166.46,211.67L168.86,215.77L164.06,215.77Z" fill="#ffffff" stroke="#3a7055" stroke-width="1.05"/><path d="M178.92,213.01L181.12,215.21L178.92,217.41L176.72,215.21Z" fill="#ffffff" stroke="#3a7055" stroke-width="0.95"/><path d="M176.19,211.54L178.39,213.74L176.19,215.94L173.99,213.74Z" fill="#ffffff" stroke="#3a7055" stroke-width="0.95"/><path d="M186.30,213.63L188.70,217.73L183.90,217.73Z" fill="#ffffff" stroke="#3a7055" stroke-width="1.05"/><path d="M175.00,213.58L177.40,217.68L172.60,217.68Z" fill="#ffffff" stroke="#3a7055" stroke-width="1.05"/><path d="M174.13,211.60L176.53,215.70L171.73,215.70Z" fill="#ffffff" stroke="#3a7055" stroke-width="1.05"/><path d="M163.83,213.73L166.03,215.93L163.83,218.13L161.63,215.93Z" fill="#ffffff" stroke="#3a7055" stroke-width="0.95"/><path d="M178.85,213.31L181.25,217.41L176.45,217.41Z" fill="#ffffff" stroke="#3a7055" stroke-width="1.05"/><path d="M219.19,208.77L221.39,210.97L219.19,213.17L216.99,210.97Z" fill="#ffffff" stroke="#3a7055" stroke-width="0.95"/><path d="M197.90,202.80L200.10,205.00L197.90,207.20L195.70,205.00Z" fill="#ffffff" stroke="#3a7055" stroke-width="0.95"/><path d="M206.06,211.01L208.46,215.11L203.66,215.11Z" fill="#ffffff" stroke="#3a7055" stroke-width="1.05"/><path d="M202.89,209.65L205.29,213.75L200.49,213.75Z" fill="#ffffff" stroke="#3a7055" stroke-width="1.05"/><path d="M213.31,210.97L215.51,213.17L213.31,215.37L211.11,213.17Z" fill="#ffffff" stroke="#3a7055" stroke-width="0.95"/><path d="M227.62,204.43L229.82,206.63L227.62,208.83L225.42,206.63Z" fill="#ffffff" stroke="#3a7055" stroke-width="0.95"/><path d="M228.53,205.67L230.73,207.87L228.53,210.07L226.33,207.87Z" fill="#ffffff" stroke="#4b64a0" stroke-width="0.95"/><path d="M217.01,212.53L219.41,216.63L214.61,216.63Z" fill="#ffffff" stroke="#3a7055" stroke-width="1.05"/><path d="M214.62,213.71L216.82,215.91L214.62,218.11L212.42,215.91Z" fill="#ffffff" stroke="#3a7055" stroke-width="0.95"/><path d="M203.18,213.41L205.38,215.61L203.18,217.81L200.98,215.61Z" fill="#ffffff" stroke="#3a7055" stroke-width="0.95"/><path d="M198.12,211.64L200.52,215.74L195.72,215.74Z" fill="#ffffff" stroke="#3a7055" stroke-width="1.05"/><path d="M220.05,208.72L222.45,212.82L217.65,212.82Z" fill="#ffffff" stroke="#4b64a0" stroke-width="1.05"/><path d="M208.63,206.38L211.03,210.48L206.23,210.48Z" fill="#ffffff" stroke="#4b64a0" stroke-width="1.05"/><path d="M215.82,203.92L218.02,206.12L215.82,208.32L213.62,206.12Z" fill="#ffffff" stroke="#3a7055" stroke-width="0.95"/><path d="M225.04,204.35L227.44,208.45L222.64,208.45Z" fill="#ffffff" stroke="#4b64a0" stroke-width="1.05"/><path d="M200.87,205.25L203.27,209.35L198.47,209.35Z" fill="#ffffff" stroke="#3a7055" stroke-width="1.05"/><path d="M197.37,208.36L199.57,210.56L197.37,212.76L195.17,210.56Z" fill="#ffffff" stroke="#3a7055" stroke-width="0.95"/><path d="M207.38,204.98L209.78,209.08L204.98,209.08Z" fill="#ffffff" stroke="#3a7055" stroke-width="1.05"/><path d="M233.25,193.24L235.65,197.34L230.85,197.34Z" fill="#ffffff" stroke="#3a7055" stroke-width="1.05"/><path d="M274.24,193.30L276.64,197.40L271.84,197.40Z" fill="#ffffff" stroke="#3a7055" stroke-width="1.05"/><path d="M258.32,194.33L260.72,198.43L255.92,198.43Z" fill="#ffffff" stroke="#3a7055" stroke-width="1.05"/><path d="M252.45,192.05L254.85,196.15L250.05,196.15Z" fill="#ffffff" stroke="#3a7055" stroke-width="1.05"/><path d="M258.61,192.85L261.01,196.95L256.21,196.95Z" fill="#ffffff" stroke="#3a7055" stroke-width="1.05"/><path d="M253.46,194.00L255.86,198.10L251.06,198.10Z" fill="#ffffff" stroke="#3a7055" stroke-width="1.05"/><path d="M277.97,194.04L280.37,198.14L275.57,198.14Z" fill="#ffffff" stroke="#4b64a0" stroke-width="1.05"/><path d="M267.70,192.80L270.10,196.90L265.30,196.90Z" fill="#ffffff" stroke="#3a7055" stroke-width="1.05"/><path d="M254.14,192.38L256.54,196.48L251.74,196.48Z" fill="#ffffff" stroke="#3a7055" stroke-width="1.05"/><path d="M273.96,194.66L276.36,198.76L271.56,198.76Z" fill="#ffffff" stroke="#3a7055" stroke-width="1.05"/><path d="M247.89,192.36L250.09,194.56L247.89,196.76L245.69,194.56Z" fill="#ffffff" stroke="#3a7055" stroke-width="0.95"/><path d="M244.99,194.24L247.39,198.34L242.59,198.34Z" fill="#ffffff" stroke="#3a7055" stroke-width="1.05"/><path d="M303.62,211.07L306.02,215.17L301.22,215.17Z" fill="#ffffff" stroke="#4b64a0" stroke-width="1.05"/><path d="M322.13,213.90L324.33,216.10L322.13,218.30L319.93,216.10Z" fill="#ffffff" stroke="#3a7055" stroke-width="0.95"/><path d="M289.24,213.79L291.64,217.89L286.84,217.89Z" fill="#ffffff" stroke="#3a7055" stroke-width="1.05"/><path d="M242.65,210.53L245.05,214.63L240.25,214.63Z" fill="#ffffff" stroke="#3a7055" stroke-width="1.05"/><path d="M255.07,213.03L257.27,215.23L255.07,217.43L252.87,215.23Z" fill="#ffffff" stroke="#3a7055" stroke-width="0.95"/><path d="M253.95,210.63L256.15,212.83L253.95,215.03L251.75,212.83Z" fill="#ffffff" stroke="#3a7055" stroke-width="0.95"/><path d="M248.91,213.21L251.11,215.41L248.91,217.61L246.71,215.41Z" fill="#ffffff" stroke="#3a7055" stroke-width="0.95"/><path d="M285.73,213.48L287.93,215.68L285.73,217.88L283.53,215.68Z" fill="#ffffff" stroke="#4b64a0" stroke-width="0.95"/><path d="M257.53,213.79L259.73,215.99L257.53,218.19L255.33,215.99Z" fill="#ffffff" stroke="#3a7055" stroke-width="0.95"/><path d="M285.64,214.11L287.84,216.31L285.64,218.51L283.44,216.31Z" fill="#ffffff" stroke="#4b64a0" stroke-width="0.95"/><path d="M253.66,209.92L256.06,214.02L251.26,214.02Z" fill="#ffffff" stroke="#4b64a0" stroke-width="1.05"/><path d="M310.23,214.19L312.43,216.39L310.23,218.59L308.03,216.39Z" fill="#ffffff" stroke="#4b64a0" stroke-width="0.95"/><path d="M258.91,214.16L261.31,218.26L256.51,218.26Z" fill="#ffffff" stroke="#3a7055" stroke-width="1.05"/><path d="M317.66,213.87L319.86,216.07L317.66,218.27L315.46,216.07Z" fill="#ffffff" stroke="#4b64a0" stroke-width="0.95"/><path d="M256.16,211.60L258.56,215.70L253.76,215.70Z" fill="#ffffff" stroke="#3a7055" stroke-width="1.05"/><path d="M247.38,211.25L249.58,213.45L247.38,215.65L245.18,213.45Z" fill="#ffffff" stroke="#4b64a0" stroke-width="0.95"/><path d="M311.38,210.39L313.58,212.59L311.38,214.79L309.18,212.59Z" fill="#ffffff" stroke="#3a7055" stroke-width="0.95"/><path d="M282.56,210.04L284.76,212.24L282.56,214.44L280.36,212.24Z" fill="#ffffff" stroke="#4b64a0" stroke-width="0.95"/><path d="M249.47,210.62L251.87,214.72L247.07,214.72Z" fill="#ffffff" stroke="#4b64a0" stroke-width="1.05"/><path d="M244.58,211.38L246.78,213.58L244.58,215.78L242.38,213.58Z" fill="#ffffff" stroke="#3a7055" stroke-width="0.95"/><path d="M283.74,213.80L285.94,216.00L283.74,218.20L281.54,216.00Z" fill="#ffffff" stroke="#3a7055" stroke-width="0.95"/><path d="M325.64,212.44L327.84,214.64L325.64,216.84L323.44,214.64Z" fill="#ffffff" stroke="#3a7055" stroke-width="0.95"/><path d="M233.87,210.54L236.27,214.64L231.47,214.64Z" fill="#ffffff" stroke="#3a7055" stroke-width="1.05"/><path d="M240.91,213.42L243.31,217.52L238.51,217.52Z" fill="#ffffff" stroke="#3a7055" stroke-width="1.05"/><path d="M285.25,212.07L287.65,216.17L282.85,216.17Z" fill="#ffffff" stroke="#4b64a0" stroke-width="1.05"/><path d="M326.47,211.22L328.67,213.42L326.47,215.62L324.27,213.42Z" fill="#ffffff" stroke="#3a7055" stroke-width="0.95"/><path d="M286.53,214.19L288.93,218.29L284.13,218.29Z" fill="#ffffff" stroke="#3a7055" stroke-width="1.05"/><path d="M239.29,210.43L241.49,212.63L239.29,214.83L237.09,212.63Z" fill="#ffffff" stroke="#3a7055" stroke-width="0.95"/><path d="M277.25,214.05L279.65,218.15L274.85,218.15Z" fill="#ffffff" stroke="#3a7055" stroke-width="1.05"/><path d="M275.64,213.69L277.84,215.89L275.64,218.09L273.44,215.89Z" fill="#ffffff" stroke="#3a7055" stroke-width="0.95"/><path d="M260.76,210.21L263.16,214.31L258.36,214.31Z" fill="#ffffff" stroke="#4b64a0" stroke-width="1.05"/><path d="M329.18,213.30L331.58,217.40L326.78,217.40Z" fill="#ffffff" stroke="#3a7055" stroke-width="1.05"/><path d="M246.91,212.62L249.11,214.82L246.91,217.02L244.71,214.82Z" fill="#ffffff" stroke="#3a7055" stroke-width="0.95"/><path d="M261.22,211.32L263.42,213.52L261.22,215.72L259.02,213.52Z" fill="#ffffff" stroke="#3a7055" stroke-width="0.95"/><path d="M297.34,210.85L299.74,214.95L294.94,214.95Z" fill="#ffffff" stroke="#3a7055" stroke-width="1.05"/><path d="M303.68,211.28L305.88,213.48L303.68,215.68L301.48,213.48Z" fill="#ffffff" stroke="#3a7055" stroke-width="0.95"/><path d="M278.04,212.68L280.24,214.88L278.04,217.08L275.84,214.88Z" fill="#ffffff" stroke="#4b64a0" stroke-width="0.95"/><path d="M269.48,210.26L271.68,212.46L269.48,214.66L267.28,212.46Z" fill="#ffffff" stroke="#3a7055" stroke-width="0.95"/><path d="M244.88,212.54L247.28,216.64L242.48,216.64Z" fill="#ffffff" stroke="#3a7055" stroke-width="1.05"/><path d="M250.93,209.96L253.13,212.16L250.93,214.36L248.73,212.16Z" fill="#ffffff" stroke="#3a7055" stroke-width="0.95"/><path d="M275.20,198.70L277.60,202.80L272.80,202.80Z" fill="#ffffff" stroke="#3a7055" stroke-width="1.05"/><path d="M289.37,202.04L291.77,206.14L286.97,206.14Z" fill="#ffffff" stroke="#3a7055" stroke-width="1.05"/><path d="M286.03,202.07L288.23,204.27L286.03,206.47L283.83,204.27Z" fill="#ffffff" stroke="#3a7055" stroke-width="0.95"/><path d="M272.36,205.47L274.56,207.67L272.36,209.87L270.16,207.67Z" fill="#ffffff" stroke="#3a7055" stroke-width="0.95"/><path d="M256.57,201.82L258.97,205.92L254.17,205.92Z" fill="#ffffff" stroke="#3a7055" stroke-width="1.05"/><path d="M270.65,200.88L273.05,204.98L268.25,204.98Z" fill="#ffffff" stroke="#4b64a0" stroke-width="1.05"/><path d="M240.93,201.11L243.13,203.31L240.93,205.51L238.73,203.31Z" fill="#ffffff" stroke="#3a7055" stroke-width="0.95"/><path d="M272.54,198.86L274.74,201.06L272.54,203.26L270.34,201.06Z" fill="#ffffff" stroke="#3a7055" stroke-width="0.95"/><path d="M297.77,200.95L300.17,205.05L295.37,205.05Z" fill="#ffffff" stroke="#3a7055" stroke-width="1.05"/><path d="M303.69,194.00L306.09,198.10L301.29,198.10Z" fill="#ffffff" stroke="#3a7055" stroke-width="1.05"/><path d="M289.78,198.66L292.18,202.76L287.38,202.76Z" fill="#ffffff" stroke="#3a7055" stroke-width="1.05"/><path d="M303.69,203.53L306.09,207.63L301.29,207.63Z" fill="#ffffff" stroke="#3a7055" stroke-width="1.05"/><path d="M310.40,198.85L312.80,202.95L308.00,202.95Z" fill="#ffffff" stroke="#3a7055" stroke-width="1.05"/><path d="M286.95,196.91L289.35,201.01L284.55,201.01Z" fill="#ffffff" stroke="#4b64a0" stroke-width="1.05"/><path d="M292.67,191.89L295.07,195.99L290.27,195.99Z" fill="#ffffff" stroke="#3a7055" stroke-width="1.05"/><path d="M296.43,192.31L298.83,196.41L294.03,196.41Z" fill="#ffffff" stroke="#3a7055" stroke-width="1.05"/><path d="M309.22,197.76L311.62,201.86L306.82,201.86Z" fill="#ffffff" stroke="#3a7055" stroke-width="1.05"/><path d="M309.54,192.89L311.94,196.99L307.14,196.99Z" fill="#ffffff" stroke="#3a7055" stroke-width="1.05"/><path d="M287.22,202.84L289.62,206.94L284.82,206.94Z" fill="#ffffff" stroke="#3a7055" stroke-width="1.05"/><path d="M302.87,195.43L305.27,199.53L300.47,199.53Z" fill="#ffffff" stroke="#3a7055" stroke-width="1.05"/><path d="M288.38,197.82L290.78,201.92L285.98,201.92Z" fill="#ffffff" stroke="#3a7055" stroke-width="1.05"/><path d="M283.93,193.04L286.33,197.14L281.53,197.14Z" fill="#ffffff" stroke="#3a7055" stroke-width="1.05"/><path d="M304.93,201.72L307.33,205.82L302.53,205.82Z" fill="#ffffff" stroke="#3a7055" stroke-width="1.05"/><path d="M300.17,201.15L302.57,205.25L297.77,205.25Z" fill="#ffffff" stroke="#3a7055" stroke-width="1.05"/><path d="M288.79,196.78L291.19,200.88L286.39,200.88Z" fill="#ffffff" stroke="#3a7055" stroke-width="1.05"/><path d="M294.20,198.10L296.60,202.20L291.80,202.20Z" fill="#ffffff" stroke="#3a7055" stroke-width="1.05"/><path d="M298.07,194.13L300.47,198.23L295.67,198.23Z" fill="#ffffff" stroke="#3a7055" stroke-width="1.05"/><path d="M301.61,191.19L304.01,195.29L299.21,195.29Z" fill="#ffffff" stroke="#3a7055" stroke-width="1.05"/><path d="M310.82,198.50L313.22,202.60L308.42,202.60Z" fill="#ffffff" stroke="#3a7055" stroke-width="1.05"/><path d="M294.93,198.81L297.33,202.91L292.53,202.91Z" fill="#ffffff" stroke="#3a7055" stroke-width="1.05"/><path d="M297.09,203.63L299.49,207.73L294.69,207.73Z" fill="#ffffff" stroke="#3a7055" stroke-width="1.05"/><path d="M286.40,192.19L288.80,196.29L284.00,196.29Z" fill="#ffffff" stroke="#3a7055" stroke-width="1.05"/><path d="M298.10,196.16L300.50,200.26L295.70,200.26Z" fill="#ffffff" stroke="#3a7055" stroke-width="1.05"/><path d="M309.31,194.55L311.71,198.65L306.91,198.65Z" fill="#ffffff" stroke="#4b64a0" stroke-width="1.05"/><path d="M311.29,201.92L313.69,206.02L308.89,206.02Z" fill="#ffffff" stroke="#3a7055" stroke-width="1.05"/><path d="M307.33,207.14L309.73,211.24L304.93,211.24Z" fill="#ffffff" stroke="#4b64a0" stroke-width="1.05"/><path d="M326.19,208.43L328.59,212.53L323.79,212.53Z" fill="#ffffff" stroke="#3a7055" stroke-width="1.05"/><path d="M315.79,201.09L318.19,205.19L313.39,205.19Z" fill="#ffffff" stroke="#3a7055" stroke-width="1.05"/><path d="M328.21,207.50L330.61,211.60L325.81,211.60Z" fill="#ffffff" stroke="#4b64a0" stroke-width="1.05"/><path d="M312.64,206.75L315.04,210.85L310.24,210.85Z" fill="#ffffff" stroke="#3a7055" stroke-width="1.05"/><path d="M317.00,207.73L319.40,211.83L314.60,211.83Z" fill="#ffffff" stroke="#4b64a0" stroke-width="1.05"/><path d="M323.77,199.94L326.17,204.04L321.37,204.04Z" fill="#ffffff" stroke="#3a7055" stroke-width="1.05"/><path d="M308.88,205.98L311.28,210.08L306.48,210.08Z" fill="#ffffff" stroke="#3a7055" stroke-width="1.05"/><path d="M305.16,203.11L307.56,207.21L302.76,207.21Z" fill="#ffffff" stroke="#4b64a0" stroke-width="1.05"/><path d="M311.92,202.26L314.32,206.36L309.52,206.36Z" fill="#ffffff" stroke="#3a7055" stroke-width="1.05"/><path d="M309.19,203.25L311.59,207.35L306.79,207.35Z" fill="#ffffff" stroke="#3a7055" stroke-width="1.05"/><path d="M339.19,197.42L341.59,201.52L336.79,201.52Z" fill="#ffffff" stroke="#3a7055" stroke-width="1.05"/><path d="M328.24,201.00L330.64,205.10L325.84,205.10Z" fill="#ffffff" stroke="#3a7055" stroke-width="1.05"/><path d="M338.43,201.00L340.83,205.10L336.03,205.10Z" fill="#ffffff" stroke="#3a7055" stroke-width="1.05"/><path d="M325.47,201.10L327.87,205.20L323.07,205.20Z" fill="#ffffff" stroke="#3a7055" stroke-width="1.05"/><path d="M366.92,197.66L369.32,201.76L364.52,201.76Z" fill="#ffffff" stroke="#3a7055" stroke-width="1.05"/><path d="M319.55,200.33L321.95,204.43L317.15,204.43Z" fill="#ffffff" stroke="#3a7055" stroke-width="1.05"/><path d="M388.26,200.27L390.66,204.37L385.86,204.37Z" fill="#ffffff" stroke="#3a7055" stroke-width="1.05"/><path d="M372.64,201.39L375.04,205.49L370.24,205.49Z" fill="#ffffff" stroke="#3a7055" stroke-width="1.05"/><path d="M317.11,197.82L319.51,201.92L314.71,201.92Z" fill="#ffffff" stroke="#3a7055" stroke-width="1.05"/><path d="M373.95,197.68L376.35,201.78L371.55,201.78Z" fill="#ffffff" stroke="#3a7055" stroke-width="1.05"/><path d="M331.19,200.02L333.59,204.12L328.79,204.12Z" fill="#ffffff" stroke="#3a7055" stroke-width="1.05"/><path d="M382.33,199.32L384.73,203.42L379.93,203.42Z" fill="#ffffff" stroke="#3a7055" stroke-width="1.05"/><path d="M356.43,201.59L358.83,205.69L354.03,205.69Z" fill="#ffffff" stroke="#3a7055" stroke-width="1.05"/><path d="M330.34,197.36L332.74,201.46L327.94,201.46Z" fill="#ffffff" stroke="#3a7055" stroke-width="1.05"/><path d="M398.47,198.90L400.87,203.00L396.07,203.00Z" fill="#ffffff" stroke="#3a7055" stroke-width="1.05"/><path d="M391.67,196.73L394.07,200.83L389.27,200.83Z" fill="#ffffff" stroke="#3a7055" stroke-width="1.05"/><path d="M332.58,200.72L334.98,204.82L330.18,204.82Z" fill="#ffffff" stroke="#3a7055" stroke-width="1.05"/><path d="M335.66,200.48L338.06,204.58L333.26,204.58Z" fill="#ffffff" stroke="#3a7055" stroke-width="1.05"/><path d="M335.12,199.44L337.52,203.54L332.72,203.54Z" fill="#ffffff" stroke="#4b64a0" stroke-width="1.05"/><path d="M390.73,201.64L393.13,205.74L388.33,205.74Z" fill="#ffffff" stroke="#3a7055" stroke-width="1.05"/><path d="M351.55,200.45L353.95,204.55L349.15,204.55Z" fill="#ffffff" stroke="#3a7055" stroke-width="1.05"/><path d="M393.63,199.20L396.03,203.30L391.23,203.30Z" fill="#ffffff" stroke="#3a7055" stroke-width="1.05"/><path d="M360.04,199.92L362.44,204.02L357.64,204.02Z" fill="#ffffff" stroke="#3a7055" stroke-width="1.05"/><path d="M369.24,200.61L371.64,204.71L366.84,204.71Z" fill="#ffffff" stroke="#3a7055" stroke-width="1.05"/><path d="M384.44,204.24L386.84,208.34L382.04,208.34Z" fill="#ffffff" stroke="#3a7055" stroke-width="1.05"/><path d="M380.17,202.46L382.37,204.66L380.17,206.86L377.97,204.66Z" fill="#ffffff" stroke="#3a7055" stroke-width="0.95"/><path d="M370.16,203.89L372.56,207.99L367.76,207.99Z" fill="#ffffff" stroke="#4b64a0" stroke-width="1.05"/><path d="M374.45,204.59L376.85,208.69L372.05,208.69Z" fill="#ffffff" stroke="#3a7055" stroke-width="1.05"/><path d="M358.97,205.21L361.17,207.41L358.97,209.61L356.77,207.41Z" fill="#ffffff" stroke="#3a7055" stroke-width="0.95"/><path d="M313.18,211.68L315.58,215.78L310.78,215.78Z" fill="#ffffff" stroke="#3a7055" stroke-width="1.05"/><path d="M350.35,213.10L352.75,217.20L347.95,217.20Z" fill="#ffffff" stroke="#3a7055" stroke-width="1.05"/><path d="M364.75,211.84L366.95,214.04L364.75,216.24L362.55,214.04Z" fill="#ffffff" stroke="#3a7055" stroke-width="0.95"/><path d="M349.75,210.01L352.15,214.11L347.35,214.11Z" fill="#ffffff" stroke="#3a7055" stroke-width="1.05"/><path d="M320.29,209.69L322.49,211.89L320.29,214.09L318.09,211.89Z" fill="#ffffff" stroke="#3a7055" stroke-width="0.95"/><path d="M381.24,209.89L383.64,213.99L378.84,213.99Z" fill="#ffffff" stroke="#3a7055" stroke-width="1.05"/><path d="M337.99,208.91L340.39,213.01L335.59,213.01Z" fill="#ffffff" stroke="#4b64a0" stroke-width="1.05"/><path d="M365.91,211.33L368.31,215.43L363.51,215.43Z" fill="#ffffff" stroke="#4b64a0" stroke-width="1.05"/><path d="M362.98,209.24L365.18,211.44L362.98,213.64L360.78,211.44Z" fill="#ffffff" stroke="#3a7055" stroke-width="0.95"/><path d="M344.10,210.04L346.30,212.24L344.10,214.44L341.90,212.24Z" fill="#ffffff" stroke="#3a7055" stroke-width="0.95"/><path d="M369.31,211.78L371.51,213.98L369.31,216.18L367.11,213.98Z" fill="#ffffff" stroke="#3a7055" stroke-width="0.95"/><path d="M338.42,211.03L340.82,215.13L336.02,215.13Z" fill="#ffffff" stroke="#3a7055" stroke-width="1.05"/><path d="M397.35,209.01L399.55,211.21L397.35,213.41L395.15,211.21Z" fill="#ffffff" stroke="#4b64a0" stroke-width="0.95"/><path d="M378.51,213.63L380.91,217.73L376.11,217.73Z" fill="#ffffff" stroke="#3a7055" stroke-width="1.05"/><path d="M350.98,212.42L353.38,216.52L348.58,216.52Z" fill="#ffffff" stroke="#3a7055" stroke-width="1.05"/><path d="M331.66,213.15L334.06,217.25L329.26,217.25Z" fill="#ffffff" stroke="#3a7055" stroke-width="1.05"/><path d="M345.36,210.29L347.56,212.49L345.36,214.69L343.16,212.49Z" fill="#ffffff" stroke="#3a7055" stroke-width="0.95"/><path d="M397.45,212.20L399.65,214.40L397.45,216.60L395.25,214.40Z" fill="#ffffff" stroke="#3a7055" stroke-width="0.95"/><path d="M336.61,209.29L339.01,213.39L334.21,213.39Z" fill="#ffffff" stroke="#3a7055" stroke-width="1.05"/><path d="M351.54,213.36L353.94,217.46L349.14,217.46Z" fill="#ffffff" stroke="#3a7055" stroke-width="1.05"/><path d="M340.33,213.71L342.53,215.91L340.33,218.11L338.13,215.91Z" fill="#ffffff" stroke="#3a7055" stroke-width="0.95"/><path d="M313.57,210.72L315.97,214.82L311.17,214.82Z" fill="#ffffff" stroke="#3a7055" stroke-width="1.05"/><path d="M340.89,212.27L343.09,214.47L340.89,216.67L338.69,214.47Z" fill="#ffffff" stroke="#3a7055" stroke-width="0.95"/><path d="M351.63,210.66L354.03,214.76L349.23,214.76Z" fill="#ffffff" stroke="#3a7055" stroke-width="1.05"/><path d="M344.09,209.05L346.29,211.25L344.09,213.45L341.89,211.25Z" fill="#ffffff" stroke="#3a7055" stroke-width="0.95"/><path d="M332.18,212.67L334.58,216.77L329.78,216.77Z" fill="#ffffff" stroke="#3a7055" stroke-width="1.05"/><path d="M328.33,209.87L330.53,212.07L328.33,214.27L326.13,212.07Z" fill="#ffffff" stroke="#4b64a0" stroke-width="0.95"/><path d="M337.77,210.94L340.17,215.04L335.37,215.04Z" fill="#ffffff" stroke="#4b64a0" stroke-width="1.05"/><path d="M353.84,211.50L356.04,213.70L353.84,215.90L351.64,213.70Z" fill="#ffffff" stroke="#3a7055" stroke-width="0.95"/><path d="M314.24,210.08L316.64,214.18L311.84,214.18Z" fill="#ffffff" stroke="#3a7055" stroke-width="1.05"/><path d="M311.67,209.61L314.07,213.71L309.27,213.71Z" fill="#ffffff" stroke="#3a7055" stroke-width="1.05"/><path d="M345.37,213.32L347.77,217.42L342.97,217.42Z" fill="#ffffff" stroke="#3a7055" stroke-width="1.05"/><path d="M319.31,208.99L321.71,213.09L316.91,213.09Z" fill="#ffffff" stroke="#3a7055" stroke-width="1.05"/><path d="M378.91,212.32L381.31,216.42L376.51,216.42Z" fill="#ffffff" stroke="#3a7055" stroke-width="1.05"/><path d="M399.82,212.99L402.02,215.19L399.82,217.39L397.62,215.19Z" fill="#ffffff" stroke="#3a7055" stroke-width="0.95"/><path d="M386.91,210.61L389.31,214.71L384.51,214.71Z" fill="#ffffff" stroke="#4b64a0" stroke-width="1.05"/><path d="M389.08,212.05L391.48,216.15L386.68,216.15Z" fill="#ffffff" stroke="#3a7055" stroke-width="1.05"/><path d="M364.71,211.14L367.11,215.24L362.31,215.24Z" fill="#ffffff" stroke="#3a7055" stroke-width="1.05"/><path d="M356.25,209.34L358.65,213.44L353.85,213.44Z" fill="#ffffff" stroke="#3a7055" stroke-width="1.05"/><path d="M346.96,211.09L349.36,215.19L344.56,215.19Z" fill="#ffffff" stroke="#3a7055" stroke-width="1.05"/><path d="M373.59,210.10L375.79,212.30L373.59,214.50L371.39,212.30Z" fill="#ffffff" stroke="#3a7055" stroke-width="0.95"/><path d="M343.93,213.10L346.33,217.20L341.53,217.20Z" fill="#ffffff" stroke="#3a7055" stroke-width="1.05"/><path d="M374.15,210.83L376.35,213.03L374.15,215.23L371.95,213.03Z" fill="#ffffff" stroke="#3a7055" stroke-width="0.95"/><path d="M387.94,209.83L390.34,213.93L385.54,213.93Z" fill="#ffffff" stroke="#3a7055" stroke-width="1.05"/><path d="M341.05,209.78L343.45,213.88L338.65,213.88Z" fill="#ffffff" stroke="#4b64a0" stroke-width="1.05"/><path d="M395.56,196.22L397.96,200.32L393.16,200.32Z" fill="#ffffff" stroke="#3a7055" stroke-width="1.05"/><path d="M410.19,193.97L412.59,198.07L407.79,198.07Z" fill="#ffffff" stroke="#4b64a0" stroke-width="1.05"/><path d="M410.85,196.37L413.25,200.47L408.45,200.47Z" fill="#ffffff" stroke="#3a7055" stroke-width="1.05"/><path d="M413.02,194.74L415.42,198.84L410.62,198.84Z" fill="#ffffff" stroke="#3a7055" stroke-width="1.05"/><path d="M404.03,193.94L406.43,198.04L401.63,198.04Z" fill="#ffffff" stroke="#3a7055" stroke-width="1.05"/><path d="M401.54,196.51L403.94,200.61L399.14,200.61Z" fill="#ffffff" stroke="#3a7055" stroke-width="1.05"/><path d="M416.29,194.51L418.69,198.61L413.89,198.61Z" fill="#ffffff" stroke="#3a7055" stroke-width="1.05"/><path d="M410.30,194.66L412.70,198.76L407.90,198.76Z" fill="#ffffff" stroke="#3a7055" stroke-width="1.05"/><path d="M459.43,207.82L461.83,211.92L457.03,211.92Z" fill="#ffffff" stroke="#4b64a0" stroke-width="1.05"/><path d="M413.25,208.04L415.65,212.14L410.85,212.14Z" fill="#ffffff" stroke="#3a7055" stroke-width="1.05"/><path d="M459.08,204.74L461.48,208.84L456.68,208.84Z" fill="#ffffff" stroke="#4b64a0" stroke-width="1.05"/><path d="M414.31,205.90L416.71,210.00L411.91,210.00Z" fill="#ffffff" stroke="#4b64a0" stroke-width="1.05"/><path d="M446.06,208.19L448.46,212.29L443.66,212.29Z" fill="#ffffff" stroke="#3a7055" stroke-width="1.05"/><path d="M397.51,205.66L399.91,209.76L395.11,209.76Z" fill="#ffffff" stroke="#4b64a0" stroke-width="1.05"/><path d="M416.11,207.87L418.51,211.97L413.71,211.97Z" fill="#ffffff" stroke="#4b64a0" stroke-width="1.05"/><path d="M422.29,205.74L424.69,209.84L419.89,209.84Z" fill="#ffffff" stroke="#3a7055" stroke-width="1.05"/><path d="M435.91,208.44L438.31,212.54L433.51,212.54Z" fill="#ffffff" stroke="#3a7055" stroke-width="1.05"/><path d="M439.08,206.05L441.48,210.15L436.68,210.15Z" fill="#ffffff" stroke="#3a7055" stroke-width="1.05"/><path d="M414.61,207.93L417.01,212.03L412.21,212.03Z" fill="#ffffff" stroke="#4b64a0" stroke-width="1.05"/><path d="M463.61,205.93L466.01,210.03L461.21,210.03Z" fill="#ffffff" stroke="#4b64a0" stroke-width="1.05"/><path d="M414.37,206.43L416.77,210.53L411.97,210.53Z" fill="#ffffff" stroke="#3a7055" stroke-width="1.05"/><path d="M405.64,205.07L408.04,209.17L403.24,209.17Z" fill="#ffffff" stroke="#3a7055" stroke-width="1.05"/><path d="M443.29,205.26L445.69,209.36L440.89,209.36Z" fill="#ffffff" stroke="#4b64a0" stroke-width="1.05"/><path d="M464.57,204.22L466.97,208.32L462.17,208.32Z" fill="#ffffff" stroke="#4b64a0" stroke-width="1.05"/><path d="M400.61,207.91L403.01,212.01L398.21,212.01Z" fill="#ffffff" stroke="#3a7055" stroke-width="1.05"/><path d="M419.61,208.19L422.01,212.29L417.21,212.29Z" fill="#ffffff" stroke="#3a7055" stroke-width="1.05"/><path d="M444.37,207.29L446.77,211.39L441.97,211.39Z" fill="#ffffff" stroke="#3a7055" stroke-width="1.05"/><path d="M406.32,207.00L408.72,211.10L403.92,211.10Z" fill="#ffffff" stroke="#4b64a0" stroke-width="1.05"/><path d="M415.85,206.07L418.25,210.17L413.45,210.17Z" fill="#ffffff" stroke="#4b64a0" stroke-width="1.05"/><path d="M430.38,207.11L432.78,211.21L427.98,211.21Z" fill="#ffffff" stroke="#3a7055" stroke-width="1.05"/><path d="M445.14,208.33L447.54,212.43L442.74,212.43Z" fill="#ffffff" stroke="#3a7055" stroke-width="1.05"/><path d="M465.23,207.88L467.63,211.98L462.83,211.98Z" fill="#ffffff" stroke="#3a7055" stroke-width="1.05"/><path d="M455.28,206.51L457.68,210.61L452.88,210.61Z" fill="#ffffff" stroke="#3a7055" stroke-width="1.05"/><path d="M406.54,208.10L408.94,212.20L404.14,212.20Z" fill="#ffffff" stroke="#3a7055" stroke-width="1.05"/><path d="M419.47,205.99L421.87,210.09L417.07,210.09Z" fill="#ffffff" stroke="#3a7055" stroke-width="1.05"/><path d="M445.83,205.33L448.23,209.43L443.43,209.43Z" fill="#ffffff" stroke="#3a7055" stroke-width="1.05"/><path d="M418.70,207.62L421.10,211.72L416.30,211.72Z" fill="#ffffff" stroke="#4b64a0" stroke-width="1.05"/><path d="M464.82,207.09L467.22,211.19L462.42,211.19Z" fill="#ffffff" stroke="#4b64a0" stroke-width="1.05"/><path d="M447.56,205.41L449.96,209.51L445.16,209.51Z" fill="#ffffff" stroke="#3a7055" stroke-width="1.05"/><path d="M409.26,207.00L411.66,211.10L406.86,211.10Z" fill="#ffffff" stroke="#3a7055" stroke-width="1.05"/><path d="M441.29,208.58L443.69,212.68L438.89,212.68Z" fill="#ffffff" stroke="#4b64a0" stroke-width="1.05"/><path d="M444.26,207.76L446.66,211.86L441.86,211.86Z" fill="#ffffff" stroke="#3a7055" stroke-width="1.05"/><path d="M443.82,206.09L446.22,210.19L441.42,210.19Z" fill="#ffffff" stroke="#4b64a0" stroke-width="1.05"/><path d="M461.27,208.65L463.67,212.75L458.87,212.75Z" fill="#ffffff" stroke="#3a7055" stroke-width="1.05"/><path d="M445.64,204.73L448.04,208.83L443.24,208.83Z" fill="#ffffff" stroke="#3a7055" stroke-width="1.05"/><path d="M415.31,207.49L417.71,211.59L412.91,211.59Z" fill="#ffffff" stroke="#4b64a0" stroke-width="1.05"/><path d="M418.43,204.32L420.83,208.42L416.03,208.42Z" fill="#ffffff" stroke="#3a7055" stroke-width="1.05"/><path d="M421.51,205.59L423.91,209.69L419.11,209.69Z" fill="#ffffff" stroke="#3a7055" stroke-width="1.05"/><path d="M404.79,210.55L407.19,214.65L402.39,214.65Z" fill="#ffffff" stroke="#4b64a0" stroke-width="1.05"/><path d="M404.73,210.78L407.13,214.88L402.33,214.88Z" fill="#ffffff" stroke="#3a7055" stroke-width="1.05"/><path d="M406.06,211.20L408.46,215.30L403.66,215.30Z" fill="#ffffff" stroke="#4b64a0" stroke-width="1.05"/><path d="M405.82,209.16L408.22,213.26L403.42,213.26Z" fill="#ffffff" stroke="#3a7055" stroke-width="1.05"/><path d="M409.15,209.13L411.55,213.23L406.75,213.23Z" fill="#ffffff" stroke="#3a7055" stroke-width="1.05"/><path d="M403.05,208.94L405.45,213.04L400.65,213.04Z" fill="#ffffff" stroke="#3a7055" stroke-width="1.05"/><path d="M408.79,210.38L411.19,214.48L406.39,214.48Z" fill="#ffffff" stroke="#3a7055" stroke-width="1.05"/><path d="M395.18,210.98L397.58,215.08L392.78,215.08Z" fill="#ffffff" stroke="#3a7055" stroke-width="1.05"/><circle cx="207.00" cy="203.00" r="1.55" fill="#ffffff" stroke="#222222" stroke-width="0.95"/><circle cx="210.00" cy="206.00" r="1.55" fill="#ffffff" stroke="#222222" stroke-width="0.95"/><circle cx="217.00" cy="203.00" r="1.55" fill="#ffffff" stroke="#222222" stroke-width="0.95"/><circle cx="222.00" cy="205.00" r="1.55" fill="#ffffff" stroke="#222222" stroke-width="0.95"/><circle cx="224.50" cy="206.00" r="1.55" fill="#ffffff" stroke="#222222" stroke-width="0.95"/><circle cx="222.00" cy="214.00" r="1.55" fill="#ffffff" stroke="#222222" stroke-width="0.95"/><circle cx="228.00" cy="215.00" r="1.55" fill="#ffffff" stroke="#222222" stroke-width="0.95"/><circle cx="235.00" cy="216.00" r="1.55" fill="#ffffff" stroke="#222222" stroke-width="0.95"/><circle cx="239.00" cy="214.00" r="1.55" fill="#ffffff" stroke="#222222" stroke-width="0.95"/><circle cx="243.00" cy="216.00" r="1.55" fill="#ffffff" stroke="#222222" stroke-width="0.95"/><circle cx="246.00" cy="214.00" r="1.55" fill="#ffffff" stroke="#222222" stroke-width="0.95"/><circle cx="252.00" cy="215.50" r="1.55" fill="#ffffff" stroke="#222222" stroke-width="0.95"/><circle cx="255.00" cy="215.50" r="1.55" fill="#ffffff" stroke="#222222" stroke-width="0.95"/><circle cx="237.00" cy="196.00" r="1.55" fill="#ffffff" stroke="#222222" stroke-width="0.95"/><circle cx="240.00" cy="196.50" r="1.55" fill="#ffffff" stroke="#222222" stroke-width="0.95"/><circle cx="243.00" cy="196.00" r="1.55" fill="#ffffff" stroke="#222222" stroke-width="0.95"/><circle cx="444.00" cy="213.00" r="1.55" fill="#ffffff" stroke="#222222" stroke-width="0.95"/><circle cx="448.00" cy="215.00" r="1.55" fill="#ffffff" stroke="#222222" stroke-width="0.95"/><circle cx="457.00" cy="214.50" r="1.55" fill="#ffffff" stroke="#222222" stroke-width="0.95"/><circle cx="462.00" cy="215.00" r="1.55" fill="#ffffff" stroke="#222222" stroke-width="0.95"/><circle cx="288.00" cy="206.00" r="1.55" fill="#ffffff" stroke="#222222" stroke-width="0.95"/><circle cx="292.00" cy="208.00" r="1.55" fill="#ffffff" stroke="#222222" stroke-width="0.95"/><rect x="83.50" y="200.00" width="3" height="3" fill="#ffffff" stroke="#222222" stroke-width="0.89"/><rect x="67.00" y="213.80" width="3" height="3" fill="#ffffff" stroke="#222222" stroke-width="0.89"/><rect x="102.50" y="212.50" width="3" height="3" fill="#ffffff" stroke="#222222" stroke-width="0.89"/><rect x="113.50" y="212.50" width="3" height="3" fill="#ffffff" stroke="#222222" stroke-width="0.89"/><rect x="119.50" y="213.50" width="3" height="3" fill="#ffffff" stroke="#222222" stroke-width="0.89"/><rect x="272.50" y="190.50" width="3" height="3" fill="#ffffff" stroke="#222222" stroke-width="0.89"/><rect x="272.50" y="205.50" width="3" height="3" fill="#ffffff" stroke="#222222" stroke-width="0.89"/><rect x="260.50" y="213.50" width="3" height="3" fill="#ffffff" stroke="#222222" stroke-width="0.89"/><rect x="250.50" y="183.50" width="3" height="3" fill="#ffffff" stroke="#222222" stroke-width="0.89"/><rect x="300.50" y="213.50" width="3" height="3" fill="#ffffff" stroke="#222222" stroke-width="0.89"/><rect x="305.50" y="209.50" width="3" height="3" fill="#ffffff" stroke="#222222" stroke-width="0.89"/><rect x="396.50" y="211.50" width="3" height="3" fill="#ffffff" stroke="#222222" stroke-width="0.89"/><rect x="403.50" y="211.50" width="3" height="3" fill="#ffffff" stroke="#222222" stroke-width="0.89"/><rect x="393.50" y="194.50" width="3" height="3" fill="#ffffff" stroke="#222222" stroke-width="0.89"/><rect x="397.50" y="196.50" width="3" height="3" fill="#ffffff" stroke="#222222" stroke-width="0.89"/><path d="M280.50,210.80L282.90,206.70L278.10,206.70Z" fill="#ffffff" stroke="#4b64a0" stroke-width="1.05"/><path d="M144.00,195.70L146.40,199.80L141.60,199.80Z" fill="#ffffff" stroke="#3a7055" stroke-width="1.05"/><path d="M145.00,195.20L147.40,199.30L142.60,199.30Z" fill="#ffffff" stroke="#3a7055" stroke-width="1.05"/><path d="M162.50,197.80L164.70,200.00L162.50,202.20L160.30,200.00Z" fill="#ffffff" stroke="#3a7055" stroke-width="0.95"/><path d="M168.50,194.80L170.70,197.00L168.50,199.20L166.30,197.00Z" fill="#ffffff" stroke="#3a7055" stroke-width="0.95"/><path d="M170.00,199.80L172.20,202.00L170.00,204.20L167.80,202.00Z" fill="#ffffff" stroke="#3a7055" stroke-width="0.95"/><path d="M208.62,190.18L211.02,194.28L206.22,194.28Z" fill="#ffffff" stroke="#3a7055" stroke-width="1.05"/><path d="M213.60,189.84L216.00,193.94L211.20,193.94Z" fill="#ffffff" stroke="#3a7055" stroke-width="1.05"/><path d="M217.44,190.18L219.84,194.28L215.04,194.28Z" fill="#ffffff" stroke="#3a7055" stroke-width="1.05"/><path d="M220.90,190.57L223.30,194.67L218.50,194.67Z" fill="#ffffff" stroke="#3a7055" stroke-width="1.05"/><path d="M228.00,194.70L230.40,198.80L225.60,198.80Z" fill="#ffffff" stroke="#3a7055" stroke-width="1.05"/><path d="M233.00,193.70L235.40,197.80L230.60,197.80Z" fill="#ffffff" stroke="#3a7055" stroke-width="1.05"/><path d="M214.38,164.97L216.78,169.07L211.98,169.07Z" fill="#ffffff" stroke="#3a7055" stroke-width="1.05"/><path d="M218.56,165.69L220.96,169.79L216.16,169.79Z" fill="#ffffff" stroke="#3a7055" stroke-width="1.05"/><path d="M222.65,165.23L225.05,169.33L220.25,169.33Z" fill="#ffffff" stroke="#3a7055" stroke-width="1.05"/><path d="M227.03,165.94L229.43,170.04L224.63,170.04Z" fill="#ffffff" stroke="#3a7055" stroke-width="1.05"/><path d="M212.00,172.70L214.40,176.80L209.60,176.80Z" fill="#ffffff" stroke="#3a7055" stroke-width="1.05"/><path d="M222.00,172.70L224.40,176.80L219.60,176.80Z" fill="#ffffff" stroke="#3a7055" stroke-width="1.05"/><path d="M226.00,172.70L228.40,176.80L223.60,176.80Z" fill="#ffffff" stroke="#3a7055" stroke-width="1.05"/><path d="M228.50,172.70L230.90,176.80L226.10,176.80Z" fill="#ffffff" stroke="#3a7055" stroke-width="1.05"/><path d="M238.50,172.70L240.90,176.80L236.10,176.80Z" fill="#ffffff" stroke="#3a7055" stroke-width="1.05"/><path d="M228.60,142.50L231.00,146.60L226.20,146.60Z" fill="#ffffff" stroke="#3a7055" stroke-width="1.05"/><path d="M238.80,139.50L241.20,143.60L236.40,143.60Z" fill="#ffffff" stroke="#3a7055" stroke-width="1.05"/><path d="M241.50,161.20L243.90,165.30L239.10,165.30Z" fill="#ffffff" stroke="#3a7055" stroke-width="1.05"/><path d="M250.00,159.70L252.40,163.80L247.60,163.80Z" fill="#ffffff" stroke="#3a7055" stroke-width="1.05"/><path d="M258.00,159.70L260.40,163.80L255.60,163.80Z" fill="#ffffff" stroke="#4b64a0" stroke-width="1.05"/><path d="M274.50,159.70L276.90,163.80L272.10,163.80Z" fill="#ffffff" stroke="#4b64a0" stroke-width="1.05"/><circle cx="243.50" cy="185.00" r="1.55" fill="#ffffff" stroke="#222222" stroke-width="0.95"/><path d="M248.50,182.20L250.90,186.30L246.10,186.30Z" fill="#ffffff" stroke="#3a7055" stroke-width="1.05"/><path d="M255.00,182.20L257.40,186.30L252.60,186.30Z" fill="#ffffff" stroke="#3a7055" stroke-width="1.05"/><path d="M262.50,182.20L264.90,186.30L260.10,186.30Z" fill="#ffffff" stroke="#3a7055" stroke-width="1.05"/><path d="M282.96,182.36L285.36,186.46L280.56,186.46Z" fill="#ffffff" stroke="#3a7055" stroke-width="1.05"/><path d="M282.00,185.47L284.20,187.67L282.00,189.87L279.80,187.67Z" fill="#ffffff" stroke="#3a7055" stroke-width="0.95"/><path d="M280.72,181.33L283.12,185.43L278.32,185.43Z" fill="#ffffff" stroke="#4b64a0" stroke-width="1.05"/><path d="M278.17,182.79L280.57,186.89L275.77,186.89Z" fill="#ffffff" stroke="#3a7055" stroke-width="1.05"/><path d="M276.45,181.99L278.65,184.19L276.45,186.39L274.25,184.19Z" fill="#ffffff" stroke="#3a7055" stroke-width="0.95"/><path d="M281.67,184.55L283.87,186.75L281.67,188.95L279.47,186.75Z" fill="#ffffff" stroke="#3a7055" stroke-width="0.95"/><rect x="280.00" y="181.50" width="3" height="3" fill="#ffffff" stroke="#4b64a0" stroke-width="0.89"/><path d="M289.00,163.20L291.40,167.30L286.60,167.30Z" fill="#ffffff" stroke="#3a7055" stroke-width="1.05"/><path d="M293.50,164.70L295.90,168.80L291.10,168.80Z" fill="#ffffff" stroke="#3a7055" stroke-width="1.05"/><path d="M299.77,163.74L302.17,167.84L297.37,167.84Z" fill="#ffffff" stroke="#3a7055" stroke-width="1.05"/><path d="M305.82,164.06L308.22,168.16L303.42,168.16Z" fill="#ffffff" stroke="#3a7055" stroke-width="1.05"/><path d="M311.57,164.22L313.97,168.32L309.17,168.32Z" fill="#ffffff" stroke="#3a7055" stroke-width="1.05"/><path d="M316.85,164.11L319.25,168.21L314.45,168.21Z" fill="#ffffff" stroke="#3a7055" stroke-width="1.05"/><path d="M322.39,164.18L324.79,168.28L319.99,168.28Z" fill="#ffffff" stroke="#3a7055" stroke-width="1.05"/><path d="M328.27,163.11L330.67,167.21L325.87,167.21Z" fill="#ffffff" stroke="#3a7055" stroke-width="1.05"/><path d="M333.32,163.49L335.72,167.59L330.92,167.59Z" fill="#ffffff" stroke="#3a7055" stroke-width="1.05"/><path d="M339.64,163.71L342.04,167.81L337.24,167.81Z" fill="#ffffff" stroke="#3a7055" stroke-width="1.05"/><path d="M344.73,164.29L347.13,168.39L342.33,168.39Z" fill="#ffffff" stroke="#3a7055" stroke-width="1.05"/><path d="M378.33,161.55L380.73,165.65L375.93,165.65Z" fill="#ffffff" stroke="#3a7055" stroke-width="1.05"/><path d="M354.80,162.16L357.20,166.26L352.40,166.26Z" fill="#ffffff" stroke="#3a7055" stroke-width="1.05"/><path d="M366.06,162.42L368.46,166.52L363.66,166.52Z" fill="#ffffff" stroke="#3a7055" stroke-width="1.05"/><path d="M383.21,161.84L385.61,165.94L380.81,165.94Z" fill="#ffffff" stroke="#3a7055" stroke-width="1.05"/><path d="M366.59,160.77L368.79,162.97L366.59,165.17L364.39,162.97Z" fill="#ffffff" stroke="#3a7055" stroke-width="0.95"/><path d="M359.66,160.37L361.86,162.57L359.66,164.77L357.46,162.57Z" fill="#ffffff" stroke="#3a7055" stroke-width="0.95"/><path d="M368.94,161.26L371.14,163.46L368.94,165.66L366.74,163.46Z" fill="#ffffff" stroke="#3a7055" stroke-width="0.95"/><path d="M352.87,160.72L355.27,164.82L350.47,164.82Z" fill="#ffffff" stroke="#3a7055" stroke-width="1.05"/><path d="M376.31,161.26L378.51,163.46L376.31,165.66L374.11,163.46Z" fill="#ffffff" stroke="#3a7055" stroke-width="0.95"/><path d="M372.97,162.54L375.37,166.64L370.57,166.64Z" fill="#ffffff" stroke="#3a7055" stroke-width="1.05"/><path d="M354.94,161.47L357.14,163.67L354.94,165.87L352.74,163.67Z" fill="#ffffff" stroke="#3a7055" stroke-width="0.95"/><path d="M384.66,161.78L387.06,165.88L382.26,165.88Z" fill="#ffffff" stroke="#3a7055" stroke-width="1.05"/><path d="M382.67,162.19L385.07,166.29L380.27,166.29Z" fill="#ffffff" stroke="#3a7055" stroke-width="1.05"/><path d="M377.89,161.33L380.09,163.53L377.89,165.73L375.69,163.53Z" fill="#ffffff" stroke="#4b64a0" stroke-width="0.95"/><path d="M373.20,161.90L375.60,166.00L370.80,166.00Z" fill="#ffffff" stroke="#3a7055" stroke-width="1.05"/><path d="M387.17,162.37L389.37,164.57L387.17,166.77L384.97,164.57Z" fill="#ffffff" stroke="#4b64a0" stroke-width="0.95"/><path d="M379.95,161.56L382.15,163.76L379.95,165.96L377.75,163.76Z" fill="#ffffff" stroke="#3a7055" stroke-width="0.95"/><path d="M367.77,161.82L370.17,165.92L365.37,165.92Z" fill="#ffffff" stroke="#3a7055" stroke-width="1.05"/><path d="M374.18,161.56L376.58,165.66L371.78,165.66Z" fill="#ffffff" stroke="#3a7055" stroke-width="1.05"/><path d="M376.97,162.99L379.37,167.09L374.57,167.09Z" fill="#ffffff" stroke="#4b64a0" stroke-width="1.05"/><path d="M365.78,161.07L367.98,163.27L365.78,165.47L363.58,163.27Z" fill="#ffffff" stroke="#3a7055" stroke-width="0.95"/><path d="M382.94,163.27L385.14,165.47L382.94,167.67L380.74,165.47Z" fill="#ffffff" stroke="#3a7055" stroke-width="0.95"/><path d="M392.50,177.70L394.90,181.80L390.10,181.80Z" fill="#ffffff" stroke="#3a7055" stroke-width="1.05"/><path d="M392.50,181.70L394.90,185.80L390.10,185.80Z" fill="#ffffff" stroke="#3a7055" stroke-width="1.05"/><path d="M417.50,163.66L419.90,167.76L415.10,167.76Z" fill="#ffffff" stroke="#3a7055" stroke-width="1.05"/><path d="M421.50,162.33L423.90,166.43L419.10,166.43Z" fill="#ffffff" stroke="#3a7055" stroke-width="1.05"/><path d="M425.00,163.88L427.40,167.98L422.60,167.98Z" fill="#ffffff" stroke="#3a7055" stroke-width="1.05"/><path d="M428.50,162.98L430.90,167.08L426.10,167.08Z" fill="#ffffff" stroke="#3a7055" stroke-width="1.05"/><path d="M431.00,162.52L433.40,166.62L428.60,166.62Z" fill="#ffffff" stroke="#3a7055" stroke-width="1.05"/><path d="M433.00,163.61L435.40,167.71L430.60,167.71Z" fill="#ffffff" stroke="#3a7055" stroke-width="1.05"/><path d="M435.00,163.27L437.40,167.37L432.60,167.37Z" fill="#ffffff" stroke="#3a7055" stroke-width="1.05"/><path d="M439.50,163.79L441.90,167.89L437.10,167.89Z" fill="#ffffff" stroke="#3a7055" stroke-width="1.05"/><path d="M442.00,163.59L444.40,167.69L439.60,167.69Z" fill="#ffffff" stroke="#3a7055" stroke-width="1.05"/><path d="M445.00,163.54L447.40,167.64L442.60,167.64Z" fill="#ffffff" stroke="#3a7055" stroke-width="1.05"/><path d="M447.50,162.62L449.90,166.72L445.10,166.72Z" fill="#ffffff" stroke="#3a7055" stroke-width="1.05"/><path d="M449.50,163.49L451.90,167.59L447.10,167.59Z" fill="#ffffff" stroke="#3a7055" stroke-width="1.05"/><path d="M451.50,161.82L453.90,165.92L449.10,165.92Z" fill="#ffffff" stroke="#3a7055" stroke-width="1.05"/><path d="M454.00,163.27L456.40,167.37L451.60,167.37Z" fill="#ffffff" stroke="#3a7055" stroke-width="1.05"/><path d="M456.50,162.98L458.90,167.08L454.10,167.08Z" fill="#ffffff" stroke="#3a7055" stroke-width="1.05"/><path d="M459.00,162.15L461.40,166.25L456.60,166.25Z" fill="#ffffff" stroke="#3a7055" stroke-width="1.05"/><path d="M461.00,166.20L463.40,170.30L458.60,170.30Z" fill="#ffffff" stroke="#3a7055" stroke-width="1.05"/><path d="M437.00,167.30L439.40,163.20L434.60,163.20Z" fill="#ffffff" stroke="#4b64a0" stroke-width="1.05"/><path d="M416.00,181.50L418.40,185.60L413.60,185.60Z" fill="#ffffff" stroke="#4b64a0" stroke-width="1.05"/><path d="M418.50,182.00L420.90,186.10L416.10,186.10Z" fill="#ffffff" stroke="#4b64a0" stroke-width="1.05"/><path d="M420.50,182.15L422.90,186.25L418.10,186.25Z" fill="#ffffff" stroke="#3a7055" stroke-width="1.05"/><path d="M422.50,181.52L424.90,185.62L420.10,185.62Z" fill="#ffffff" stroke="#3a7055" stroke-width="1.05"/><path d="M424.50,181.67L426.90,185.77L422.10,185.77Z" fill="#ffffff" stroke="#3a7055" stroke-width="1.05"/><path d="M426.50,182.26L428.90,186.36L424.10,186.36Z" fill="#ffffff" stroke="#3a7055" stroke-width="1.05"/><path d="M428.50,181.05L430.90,185.15L426.10,185.15Z" fill="#ffffff" stroke="#3a7055" stroke-width="1.05"/><path d="M432.00,181.20L434.40,185.30L429.60,185.30Z" fill="#ffffff" stroke="#3a7055" stroke-width="1.05"/><path d="M437.50,181.66L439.90,185.76L435.10,185.76Z" fill="#ffffff" stroke="#3a7055" stroke-width="1.05"/><path d="M440.00,180.63L442.40,184.73L437.60,184.73Z" fill="#ffffff" stroke="#3a7055" stroke-width="1.05"/><path d="M442.50,181.50L444.90,185.60L440.10,185.60Z" fill="#ffffff" stroke="#3a7055" stroke-width="1.05"/><path d="M445.00,181.92L447.40,186.02L442.60,186.02Z" fill="#ffffff" stroke="#3a7055" stroke-width="1.05"/><path d="M449.00,181.38L451.40,185.48L446.60,185.48Z" fill="#ffffff" stroke="#3a7055" stroke-width="1.05"/><path d="M452.00,185.20L454.40,189.30L449.60,189.30Z" fill="#ffffff" stroke="#3a7055" stroke-width="1.05"/><path d="M455.50,181.70L457.90,185.80L453.10,185.80Z" fill="#ffffff" stroke="#3a7055" stroke-width="1.05"/><path d="M458.50,182.20L460.90,186.30L456.10,186.30Z" fill="#ffffff" stroke="#3a7055" stroke-width="1.05"/><path d="M464.00,185.20L466.40,189.30L461.60,189.30Z" fill="#ffffff" stroke="#3a7055" stroke-width="1.05"/><path d="M404.84,196.90L407.24,201.00L402.44,201.00Z" fill="#ffffff" stroke="#4b64a0" stroke-width="1.05"/><path d="M419.45,193.96L421.85,198.06L417.05,198.06Z" fill="#ffffff" stroke="#3a7055" stroke-width="1.05"/><path d="M403.57,195.13L405.77,197.33L403.57,199.53L401.37,197.33Z" fill="#ffffff" stroke="#3a7055" stroke-width="0.95"/><path d="M416.68,194.17L419.08,198.27L414.28,198.27Z" fill="#ffffff" stroke="#3a7055" stroke-width="1.05"/><path d="M400.62,196.53L402.82,198.73L400.62,200.93L398.42,198.73Z" fill="#ffffff" stroke="#3a7055" stroke-width="0.95"/><path d="M401.44,197.65L403.84,201.75L399.04,201.75Z" fill="#ffffff" stroke="#4b64a0" stroke-width="1.05"/><path d="M351.00,191.70L353.40,195.80L348.60,195.80Z" fill="#ffffff" stroke="#4b64a0" stroke-width="1.05"/><circle cx="233.50" cy="169.60" r="2.1" fill="#eba81f" stroke="#222222" stroke-width="0.9"/><path d="M288.30,161.30L291.25,166.40L285.35,166.40Z" fill="#eba81f" stroke="#4b64a0" stroke-width="0.95"/><path d="M319.00,166.10L321.95,171.20L316.05,171.20Z" fill="#ee8a1a" stroke="#3a7055" stroke-width="0.95"/><path d="M345.00,165.70L347.95,170.80L342.05,170.80Z" fill="#ee8a1a" stroke="#3a7055" stroke-width="0.95"/><path d="M326.00,155.10L328.95,160.20L323.05,160.20Z" fill="#eba81f" stroke="#3a7055" stroke-width="0.95"/><path d="M349.50,152.30L352.45,157.40L346.55,157.40Z" fill="#ee8a1a" stroke="#3a7055" stroke-width="0.95"/><path d="M349.50,150.50L351.90,154.60L347.10,154.60Z" fill="#ffffff" stroke="#3a7055" stroke-width="1.05"/><path d="M391.50,149.60L394.45,154.70L388.55,154.70Z" fill="#ee8a1a" stroke="#3a7055" stroke-width="0.95"/><path d="M378.80,177.60L381.75,182.70L375.85,182.70Z" fill="#eba81f" stroke="#3a7055" stroke-width="0.95"/><path d="M291.00,196.10L293.95,201.20L288.05,201.20Z" fill="#eba81f" stroke="#4b64a0" stroke-width="0.95"/><path d="M299.00,194.10L301.95,199.20L296.05,199.20Z" fill="#eba81f" stroke="#4b64a0" stroke-width="0.95"/><path d="M304.00,195.10L306.95,200.20L301.05,200.20Z" fill="#eba81f" stroke="#4b64a0" stroke-width="0.95"/><path d="M296.00,198.10L298.95,203.20L293.05,203.20Z" fill="#eba81f" stroke="#4b64a0" stroke-width="0.95"/><path d="M268.80,90.70L271.75,95.80L265.85,95.80Z" fill="#eba81f" stroke="#3a7055" stroke-width="0.95"/><path d="M283.80,95.30L286.75,100.40L280.85,100.40Z" fill="#3f5f96" stroke="#4b64a0" stroke-width="0.95"/><path d="M287.50,95.30L290.45,100.40L284.55,100.40Z" fill="#b8283a" stroke="#3a7055" stroke-width="0.95"/><path d="M291.30,95.30L294.25,100.40L288.35,100.40Z" fill="#b8283a" stroke="#3a7055" stroke-width="0.95"/><path d="M296.00,95.30L298.95,100.40L293.05,100.40Z" fill="#3f5f96" stroke="#4b64a0" stroke-width="0.95"/><path d="M300.00,95.30L302.95,100.40L297.05,100.40Z" fill="#b8283a" stroke="#3a7055" stroke-width="0.95"/><path d="M303.80,95.30L306.75,100.40L300.85,100.40Z" fill="#b8283a" stroke="#3a7055" stroke-width="0.95"/><path d="M306.30,95.30L309.25,100.40L303.35,100.40Z" fill="#b8283a" stroke="#3a7055" stroke-width="0.95"/><path d="M284.50,94.10L287.45,99.20L281.55,99.20Z" fill="#b8283a" stroke="#3a7055" stroke-width="0.95"/><path d="M256.30,118.40L259.25,123.50L253.35,123.50Z" fill="#b8283a" stroke="#3a7055" stroke-width="0.95"/><path d="M264.60,118.40L267.55,123.50L261.65,123.50Z" fill="#b8283a" stroke="#3a7055" stroke-width="0.95"/><path d="M277.50,119.90L280.45,125.00L274.55,125.00Z" fill="#b8283a" stroke="#3a7055" stroke-width="0.95"/><path d="M281.20,118.70L284.15,123.80L278.25,123.80Z" fill="#b8283a" stroke="#3a7055" stroke-width="0.95"/><path d="M283.50,118.10L286.45,123.20L280.55,123.20Z" fill="#b8283a" stroke="#3a7055" stroke-width="0.95"/><path d="M284.50,124.90L287.45,130.00L281.55,130.00Z" fill="#b8283a" stroke="#3a7055" stroke-width="0.95"/><path d="M288.00,130.90L290.95,136.00L285.05,136.00Z" fill="#b8283a" stroke="#3a7055" stroke-width="0.95"/><path d="M292.80,130.90L295.75,136.00L289.85,136.00Z" fill="#b8283a" stroke="#3a7055" stroke-width="0.95"/><path d="M305.00,131.40L307.95,136.50L302.05,136.50Z" fill="#b8283a" stroke="#3a7055" stroke-width="0.95"/><path d="M329.50,122.70L332.45,127.80L326.55,127.80Z" fill="#eba81f" stroke="#3a7055" stroke-width="0.95"/><path d="M368.80,119.46L371.75,124.56L365.85,124.56Z" fill="#eba81f" stroke="#3a7055" stroke-width="0.95"/><path d="M372.50,119.75L375.45,124.85L369.55,124.85Z" fill="#eba81f" stroke="#3a7055" stroke-width="0.95"/><path d="M376.00,119.57L378.95,124.67L373.05,124.67Z" fill="#eba81f" stroke="#3a7055" stroke-width="0.95"/><path d="M379.50,118.94L382.45,124.04L376.55,124.04Z" fill="#eba81f" stroke="#3a7055" stroke-width="0.95"/><path d="M383.00,119.50L385.95,124.60L380.05,124.60Z" fill="#eba81f" stroke="#3a7055" stroke-width="0.95"/><path d="M386.50,119.22L389.45,124.32L383.55,124.32Z" fill="#eba81f" stroke="#3a7055" stroke-width="0.95"/><path d="M390.00,118.72L392.95,123.82L387.05,123.82Z" fill="#eba81f" stroke="#3a7055" stroke-width="0.95"/><path d="M308.80,137.34L311.75,142.44L305.85,142.44Z" fill="#b8283a" stroke="#3a7055" stroke-width="0.95"/><path d="M311.78,137.30L314.73,142.40L308.83,142.40Z" fill="#3a7055" stroke="#3a7055" stroke-width="0.95"/><path d="M314.75,137.81L317.70,142.91L311.80,142.91Z" fill="#b8283a" stroke="#3a7055" stroke-width="0.95"/><path d="M317.73,137.25L320.68,142.35L314.78,142.35Z" fill="#3a7055" stroke="#3a7055" stroke-width="0.95"/><path d="M320.71,137.76L323.66,142.86L317.76,142.86Z" fill="#b8283a" stroke="#3a7055" stroke-width="0.95"/><path d="M323.68,137.91L326.63,143.01L320.73,143.01Z" fill="#3a7055" stroke="#3a7055" stroke-width="0.95"/><path d="M326.66,137.09L329.61,142.19L323.71,142.19Z" fill="#b8283a" stroke="#3a7055" stroke-width="0.95"/><path d="M329.64,137.00L332.59,142.10L326.69,142.10Z" fill="#3a7055" stroke="#3a7055" stroke-width="0.95"/><path d="M332.62,137.91L335.57,143.01L329.67,143.01Z" fill="#b8283a" stroke="#3a7055" stroke-width="0.95"/><path d="M335.59,137.55L338.54,142.65L332.64,142.65Z" fill="#3a7055" stroke="#3a7055" stroke-width="0.95"/><path d="M338.57,137.01L341.52,142.11L335.62,142.11Z" fill="#b8283a" stroke="#3a7055" stroke-width="0.95"/><path d="M341.55,136.99L344.50,142.09L338.60,142.09Z" fill="#3a7055" stroke="#3a7055" stroke-width="0.95"/><path d="M344.52,138.31L347.47,143.41L341.57,143.41Z" fill="#b8283a" stroke="#3a7055" stroke-width="0.95"/><path d="M347.50,137.78L350.45,142.88L344.55,142.88Z" fill="#3a7055" stroke="#3a7055" stroke-width="0.95"/><path d="M350.00,136.32L352.95,141.42L347.05,141.42Z" fill="#b8283a" stroke="#4b64a0" stroke-width="0.95"/><path d="M353.54,135.99L356.49,141.09L350.59,141.09Z" fill="#3f5f96" stroke="#3a7055" stroke-width="0.95"/><path d="M357.08,137.59L360.03,142.69L354.13,142.69Z" fill="#b8283a" stroke="#3a7055" stroke-width="0.95"/><path d="M360.62,136.98L363.57,142.08L357.68,142.08Z" fill="#3f5f96" stroke="#4b64a0" stroke-width="0.95"/><path d="M364.17,137.07L367.12,142.17L361.22,142.17Z" fill="#b8283a" stroke="#3a7055" stroke-width="0.95"/><path d="M367.71,136.32L370.66,141.42L364.76,141.42Z" fill="#3f5f96" stroke="#3a7055" stroke-width="0.95"/><path d="M371.25,136.22L374.20,141.32L368.30,141.32Z" fill="#b8283a" stroke="#4b64a0" stroke-width="0.95"/><path d="M374.79,136.42L377.74,141.52L371.84,141.52Z" fill="#3f5f96" stroke="#3a7055" stroke-width="0.95"/><path d="M378.33,135.89L381.28,140.99L375.38,140.99Z" fill="#b8283a" stroke="#3a7055" stroke-width="0.95"/><path d="M381.88,136.86L384.82,141.96L378.93,141.96Z" fill="#3f5f96" stroke="#4b64a0" stroke-width="0.95"/><path d="M385.42,136.45L388.37,141.55L382.47,141.55Z" fill="#b8283a" stroke="#3a7055" stroke-width="0.95"/><path d="M388.96,137.24L391.91,142.34L386.01,142.34Z" fill="#3f5f96" stroke="#3a7055" stroke-width="0.95"/><path d="M392.50,136.42L395.45,141.52L389.55,141.52Z" fill="#b8283a" stroke="#4b64a0" stroke-width="0.95"/><path d="M329.50,147.50L331.90,151.60L327.10,151.60Z" fill="#ffffff" stroke="#3a7055" stroke-width="1.05"/><path d="M326.00,155.10L328.95,160.20L323.05,160.20Z" fill="#eba81f" stroke="#3a7055" stroke-width="0.95"/><path d="M250.20,69.40L253.15,74.50L247.25,74.50Z" fill="#3f5f96" stroke="#3a5488" stroke-width="0.95"/><path d="M256.70,66.90L259.65,72.00L253.75,72.00Z" fill="#b8283a" stroke="#3a5488" stroke-width="0.95"/><path d="M261.50,66.30L264.45,71.40L258.55,71.40Z" fill="#3f5f96" stroke="#3a5488" stroke-width="0.95"/><path d="M264.50,67.60L267.45,72.70L261.55,72.70Z" fill="#3f5f96" stroke="#3a5488" stroke-width="0.95"/><path d="M267.50,66.70L270.45,71.80L264.55,71.80Z" fill="#b8283a" stroke="#3a5488" stroke-width="0.95"/><path d="M271.00,67.60L273.95,72.70L268.05,72.70Z" fill="#3f5f96" stroke="#3a5488" stroke-width="0.95"/><path d="M274.50,66.90L277.45,72.00L271.55,72.00Z" fill="#3f5f96" stroke="#3a5488" stroke-width="0.95"/><path d="M279.00,67.10L281.95,72.20L276.05,72.20Z" fill="#b8283a" stroke="#3a5488" stroke-width="0.95"/><path d="M282.30,68.30L285.25,73.40L279.35,73.40Z" fill="#b8283a" stroke="#3a5488" stroke-width="0.95"/><path d="M253.50,68.60L256.45,73.70L250.55,73.70Z" fill="#3f5f96" stroke="#3a5488" stroke-width="0.95"/><path d="M258.50,68.90L261.45,74.00L255.55,74.00Z" fill="#3f5f96" stroke="#3a5488" stroke-width="0.95"/><path d="M249.50,72.27L252.45,77.37L246.55,77.37Z" fill="#eba81f" stroke="#3a5488" stroke-width="0.95"/><path d="M253.30,72.31L256.25,77.41L250.35,77.41Z" fill="#eba81f" stroke="#3a5488" stroke-width="0.95"/><path d="M257.00,72.65L259.95,77.75L254.05,77.75Z" fill="#eba81f" stroke="#3a5488" stroke-width="0.95"/><path d="M260.80,72.18L263.75,77.28L257.85,77.28Z" fill="#eba81f" stroke="#3a5488" stroke-width="0.95"/><path d="M264.50,72.46L267.45,77.56L261.55,77.56Z" fill="#eba81f" stroke="#3a5488" stroke-width="0.95"/><path d="M268.20,72.09L271.15,77.19L265.25,77.19Z" fill="#eba81f" stroke="#3a5488" stroke-width="0.95"/><path d="M272.00,72.36L274.95,77.46L269.05,77.46Z" fill="#eba81f" stroke="#3a5488" stroke-width="0.95"/><path d="M278.30,73.50L281.25,78.60L275.35,78.60Z" fill="#eba81f" stroke="#2f5a58" stroke-width="0.95"/></g>
<line x1="58" y1="274.1" x2="148.2" y2="274.1" stroke="#4f7d68" stroke-width="1.3"/>
<path d="M151.2,274.1 L144.2,270.90000000000003 L146.2,274.1 L144.2,277.3 Z" fill="#4f7d68"/>
<text x="97.8" y="269.7" font-size="5.6" fill="#3a3a3a" style="stroke-width:0" textLength="13.5" lengthAdjust="spacingAndGlyphs">IL1R1</text>
<path d="M146.2,261.3 L153.2,258.1 L151.2,261.3 L153.2,264.5 Z" fill="#4f7d68"/>
<text x="134.6" y="257" font-size="5.6" fill="#3a3a3a" style="stroke-width:0" textLength="29.6" lengthAdjust="spacingAndGlyphs">AC007271.3</text>
<line x1="157.3" y1="274.1" x2="196.7" y2="274.1" stroke="#4f7d68" stroke-width="1.3"/>
<path d="M199.7,274.1 L192.7,270.90000000000003 L194.7,274.1 L192.7,277.3 Z" fill="#4f7d68"/>
<text x="170.4" y="269.7" font-size="5.6" fill="#3a3a3a" style="stroke-width:0" textLength="16.2" lengthAdjust="spacingAndGlyphs">IL1RL2</text>
<path d="M208.5,261.3 L215.5,258.1 L213.5,261.3 L215.5,264.5 Z" fill="#4f7d68"/>
<text x="198.8" y="257" font-size="5.6" fill="#3a3a3a" style="stroke-width:0" textLength="27.7" lengthAdjust="spacingAndGlyphs">FAM183DP</text>
<line x1="258" y1="261.3" x2="287.8" y2="261.3" stroke="#4f7d68" stroke-width="1.3"/>
<path d="M290.8,261.3 L283.8,258.1 L285.8,261.3 L283.8,264.5 Z" fill="#4f7d68"/>
<text x="264.2" y="257.4" font-size="5.6" fill="#3a3a3a" style="stroke-width:0" textLength="16.2" lengthAdjust="spacingAndGlyphs">IL1RL1</text>
<line x1="258" y1="273.9" x2="325.9" y2="273.9" stroke="#4f7d68" stroke-width="1.3"/>
<path d="M328.9,273.9 L321.9,270.7 L323.9,273.9 L321.9,277.09999999999997 Z" fill="#4f7d68"/>
<text x="285.5" y="269.7" font-size="5.6" fill="#3a3a3a" style="stroke-width:0" textLength="15.7" lengthAdjust="spacingAndGlyphs">IL18R1</text>
<path d="M339.8,252.2 L332.8,249.0 L334.8,252.2 L332.8,255.39999999999998 Z" fill="#4f7d68"/>
<text x="314.4" y="247" font-size="5.6" fill="#3a3a3a" style="stroke-width:0" textLength="29.1" lengthAdjust="spacingAndGlyphs">AC007248.7</text>
<line x1="345.4" y1="234.6" x2="369.3" y2="234.6" stroke="#4f7d68" stroke-width="1.3"/>
<path d="M372.3,234.6 L365.3,231.4 L367.3,234.6 L365.3,237.79999999999998 Z" fill="#4f7d68"/>
<text x="346.2" y="230.5" font-size="5.6" fill="#3a3a3a" style="stroke-width:0" textLength="20" lengthAdjust="spacingAndGlyphs">IL18RAP</text>
<path d="M357,243.4 L350,240.20000000000002 L352,243.4 L350,246.6 Z" fill="#4f7d68"/>
<text x="340" y="240" font-size="5.6" fill="#3a3a3a" style="stroke-width:0" font-style="italic" textLength="20.8" lengthAdjust="spacingAndGlyphs">MIR4772</text>
<path d="M358.5,261.2 L351.5,258.0 L353.5,261.2 L351.5,264.4 Z" fill="#4f7d68"/>
<text x="346.6" y="257.7" font-size="5.6" fill="#3a3a3a" style="stroke-width:0" textLength="29.6" lengthAdjust="spacingAndGlyphs">AC007278.2</text>
<path d="M362.8,273.8 L355.8,270.6 L357.8,273.8 L355.8,277.0 Z" fill="#4f7d68"/>
<text x="346.6" y="269.7" font-size="5.6" fill="#3a3a3a" style="stroke-width:0" textLength="29.6" lengthAdjust="spacingAndGlyphs">AC007278.3</text>
<line x1="389.2" y1="274" x2="435.4" y2="274" stroke="#4f7d68" stroke-width="1.3"/>
<path d="M438.4,274 L431.4,270.8 L433.4,274 L431.4,277.2 Z" fill="#4f7d68"/>
<text x="404.7" y="269.5" font-size="5.6" fill="#3a3a3a" style="stroke-width:0" textLength="18.2" lengthAdjust="spacingAndGlyphs">SLC9A4</text>
<rect x="50.2" y="39.2" width="3.6" height="3.6" fill="#24406e" stroke="#111" stroke-width="0.8"/>
<rect x="50.2" y="45.5" width="3.6" height="3.6" fill="#ffffff" stroke="#111" stroke-width="0.8"/>
<rect x="50.2" y="52.0" width="3.6" height="3.6" fill="#e0a52a" stroke="#111" stroke-width="0.8"/>
<rect x="50.2" y="58.400000000000006" width="3.6" height="3.6" fill="#f08a1e" stroke="#111" stroke-width="0.8"/>
<rect x="50.2" y="64.9" width="3.6" height="3.6" fill="#8e1b22" stroke="#111" stroke-width="0.8"/>
<text x="56.6" y="43" fill="#1e1e1e" font-size="6" style="stroke-width:0.06px" textLength="31" lengthAdjust="spacingAndGlyphs">sentinel SNP</text>
<text x="56.6" y="49.3" fill="#1e1e1e" font-size="6" style="stroke-width:0.06px" textLength="22.5" lengthAdjust="spacingAndGlyphs">not in LD</text>
<text x="56.6" y="55.8" fill="#1e1e1e" font-size="6" style="stroke-width:0.06px" textLength="12" lengthAdjust="spacingAndGlyphs">LD r</text>
<text x="68.4" y="53.5" fill="#333" font-size="4" style="stroke-width:0">2</text>
<text x="71.2" y="55.8" fill="#1e1e1e" font-size="6" style="stroke-width:0.06px" textLength="10.5" lengthAdjust="spacingAndGlyphs">≥ 0.2</text>
<text x="56.6" y="62.2" fill="#1e1e1e" font-size="6" style="stroke-width:0.06px" textLength="12" lengthAdjust="spacingAndGlyphs">LD r</text>
<text x="68.4" y="59.900000000000006" fill="#333" font-size="4" style="stroke-width:0">2</text>
<text x="71.2" y="62.2" fill="#1e1e1e" font-size="6" style="stroke-width:0.06px" textLength="10.5" lengthAdjust="spacingAndGlyphs">≥ 0.5</text>
<text x="56.6" y="68.7" fill="#1e1e1e" font-size="6" style="stroke-width:0.06px" textLength="12" lengthAdjust="spacingAndGlyphs">LD r</text>
<text x="68.4" y="66.4" fill="#333" font-size="4" style="stroke-width:0">2</text>
<text x="71.2" y="68.7" fill="#1e1e1e" font-size="6" style="stroke-width:0.06px" textLength="10.5" lengthAdjust="spacingAndGlyphs">≥ 0.8</text>
<line x1="392" y1="40.9" x2="401.8" y2="40.9" stroke="#c5d5ee" stroke-width="1.2"/>
<line x1="392" y1="47.8" x2="401.8" y2="47.8" stroke="#4f7d68" stroke-width="1.2"/>
<text x="405.2" y="42.9" fill="#1e1e1e" font-size="6" style="stroke-width:0.06px" textLength="47" lengthAdjust="spacingAndGlyphs">recombination rate</text>
<text x="405.2" y="49.8" fill="#1e1e1e" font-size="6" style="stroke-width:0.06px" textLength="23.2" lengthAdjust="spacingAndGlyphs">transcript</text>
<text x="405.2" y="56" fill="#1e1e1e" font-size="6" style="stroke-width:0.06px" textLength="38.5" lengthAdjust="spacingAndGlyphs">unknown effect</text>
<text x="405.2" y="62.8" fill="#1e1e1e" font-size="6" style="stroke-width:0.06px" textLength="65.5" lengthAdjust="spacingAndGlyphs">direct effect on transcript</text>
<text x="405.2" y="69.3" fill="#1e1e1e" font-size="6" style="stroke-width:0.06px" textLength="68.4" lengthAdjust="spacingAndGlyphs">putative effect on transcript</text>
<text x="405.2" y="75" fill="#1e1e1e" font-size="6" style="stroke-width:0.06px" textLength="56.5" lengthAdjust="spacingAndGlyphs">direct regulatory effect</text>
<text x="405.2" y="82" fill="#1e1e1e" font-size="6" style="stroke-width:0.06px" textLength="62.5" lengthAdjust="spacingAndGlyphs">putative regulatory effect</text>
<text x="405.2" y="88.9" fill="#1e1e1e" font-size="6" style="stroke-width:0.06px" textLength="38.5" lengthAdjust="spacingAndGlyphs">multiple effects</text>
<text x="405.2" y="94.9" fill="#1e1e1e" font-size="6" style="stroke-width:0.06px" textLength="49" lengthAdjust="spacingAndGlyphs">associated with trait</text>
<circle cx="397.8" cy="54" r="1.5" fill="none" stroke="#111" stroke-width="1"/>
<path d="M395.8,59.3 L399.8,59.3 L397.8,62.6 Z" fill="none" stroke="#111" stroke-width="1"/>
<rect x="396.2" y="65.7" width="3.2" height="3.2" fill="none" stroke="#111" stroke-width="1"/>
<path d="M397.8,71 L399.90000000000003,74.5 L395.7,74.5 Z" fill="none" stroke="#111" stroke-width="1"/>
<path d="M397.8,77.8 L399.90000000000003,80 L397.8,82.2 L395.7,80 Z" fill="none" stroke="#111" stroke-width="1"/>
<circle cx="397.8" cy="86.9" r="1.5" fill="none" stroke="#5b8c70" stroke-width="1"/>
<circle cx="397.8" cy="92.9" r="1.5" fill="none" stroke="#4a62a8" stroke-width="1"/>
<text x="253.7" y="59.3" fill="#333" font-size="5.9" style="stroke-width:0" textLength="22.5" lengthAdjust="spacingAndGlyphs">rs950880</text>
<rect x="454" y="397.30" width="17.4" height="11.24" fill="#f8f5e3"/>
<rect x="454" y="408.24" width="17.4" height="11.24" fill="#f9eda0"/>
<rect x="454" y="419.19" width="17.4" height="11.24" fill="#f8e57a"/>
<rect x="454" y="430.13" width="17.4" height="11.24" fill="#f8e030"/>
<rect x="454" y="441.07" width="17.4" height="11.24" fill="#f7d62b"/>
<rect x="454" y="452.02" width="17.4" height="11.24" fill="#f4bb2e"/>
<rect x="454" y="462.96" width="17.4" height="11.24" fill="#f2a93a"/>
<rect x="454" y="473.91" width="17.4" height="11.24" fill="#ee9a3c"/>
<rect x="454" y="484.85" width="17.4" height="11.24" fill="#ec8c38"/>
<rect x="454" y="495.79" width="17.4" height="11.24" fill="#ea7f36"/>
<rect x="454" y="506.74" width="17.4" height="11.24" fill="#e87235"/>
<rect x="454" y="517.68" width="17.4" height="11.24" fill="#e66634"/>
<rect x="454" y="528.62" width="17.4" height="11.24" fill="#e45a33"/>
<rect x="454" y="539.57" width="17.4" height="11.24" fill="#e34e33"/>
<rect x="454" y="550.51" width="17.4" height="11.24" fill="#e24233"/>
<rect x="454" y="561.46" width="17.4" height="11.24" fill="#e03a34"/>
<rect x="454" y="397.3" width="17.4" height="175.1" fill="none" stroke="#222" stroke-width="1"/>
<line x1="471.4" y1="397.30" x2="474.3" y2="397.30" stroke="#222" stroke-width="0.9"/>
<text x="477.4" y="400.30" font-size="8.4" fill="#111">0</text>
<line x1="471.4" y1="432.32" x2="474.3" y2="432.32" stroke="#222" stroke-width="0.9"/>
<text x="477.4" y="435.32" font-size="8.4" fill="#111">0.2</text>
<line x1="471.4" y1="467.34" x2="474.3" y2="467.34" stroke="#222" stroke-width="0.9"/>
<text x="477.4" y="470.34" font-size="8.4" fill="#111">0.4</text>
<line x1="471.4" y1="502.36" x2="474.3" y2="502.36" stroke="#222" stroke-width="0.9"/>
<text x="477.4" y="505.36" font-size="8.4" fill="#111">0.6</text>
<line x1="471.4" y1="537.38" x2="474.3" y2="537.38" stroke="#222" stroke-width="0.9"/>
<text x="477.4" y="540.38" font-size="8.4" fill="#111">0.8</text>
<line x1="471.4" y1="572.40" x2="474.3" y2="572.40" stroke="#222" stroke-width="0.9"/>
<text x="477.4" y="575.40" font-size="8.4" fill="#111">1</text>
<text x="390.6" y="487.3" font-size="8.6" fill="#111" textLength="4.9" lengthAdjust="spacingAndGlyphs">R</text>
<text x="395.7" y="483.8" font-size="6.2" fill="#111" textLength="3" lengthAdjust="spacingAndGlyphs">2</text>
<text x="401.4" y="487.3" font-size="8.6" fill="#111" textLength="19.2" lengthAdjust="spacingAndGlyphs">Color</text>
<text x="390.6" y="497.8" font-size="8.6" fill="#111" textLength="13.6" lengthAdjust="spacingAndGlyphs">Key</text>
<rect x="0" y="0" width="520" height="1" fill="#555"/>
<rect x="0" y="1" width="520" height="0.7" fill="#999"/>
<rect x="0" y="0" width="1.1" height="583" fill="#111"/>
<rect x="518.2" y="0" width="1.8" height="583" fill="#505050"/>
<rect x="0" y="581" width="520" height="2" fill="#4a4a4a"/>
</svg>
</body></html>
